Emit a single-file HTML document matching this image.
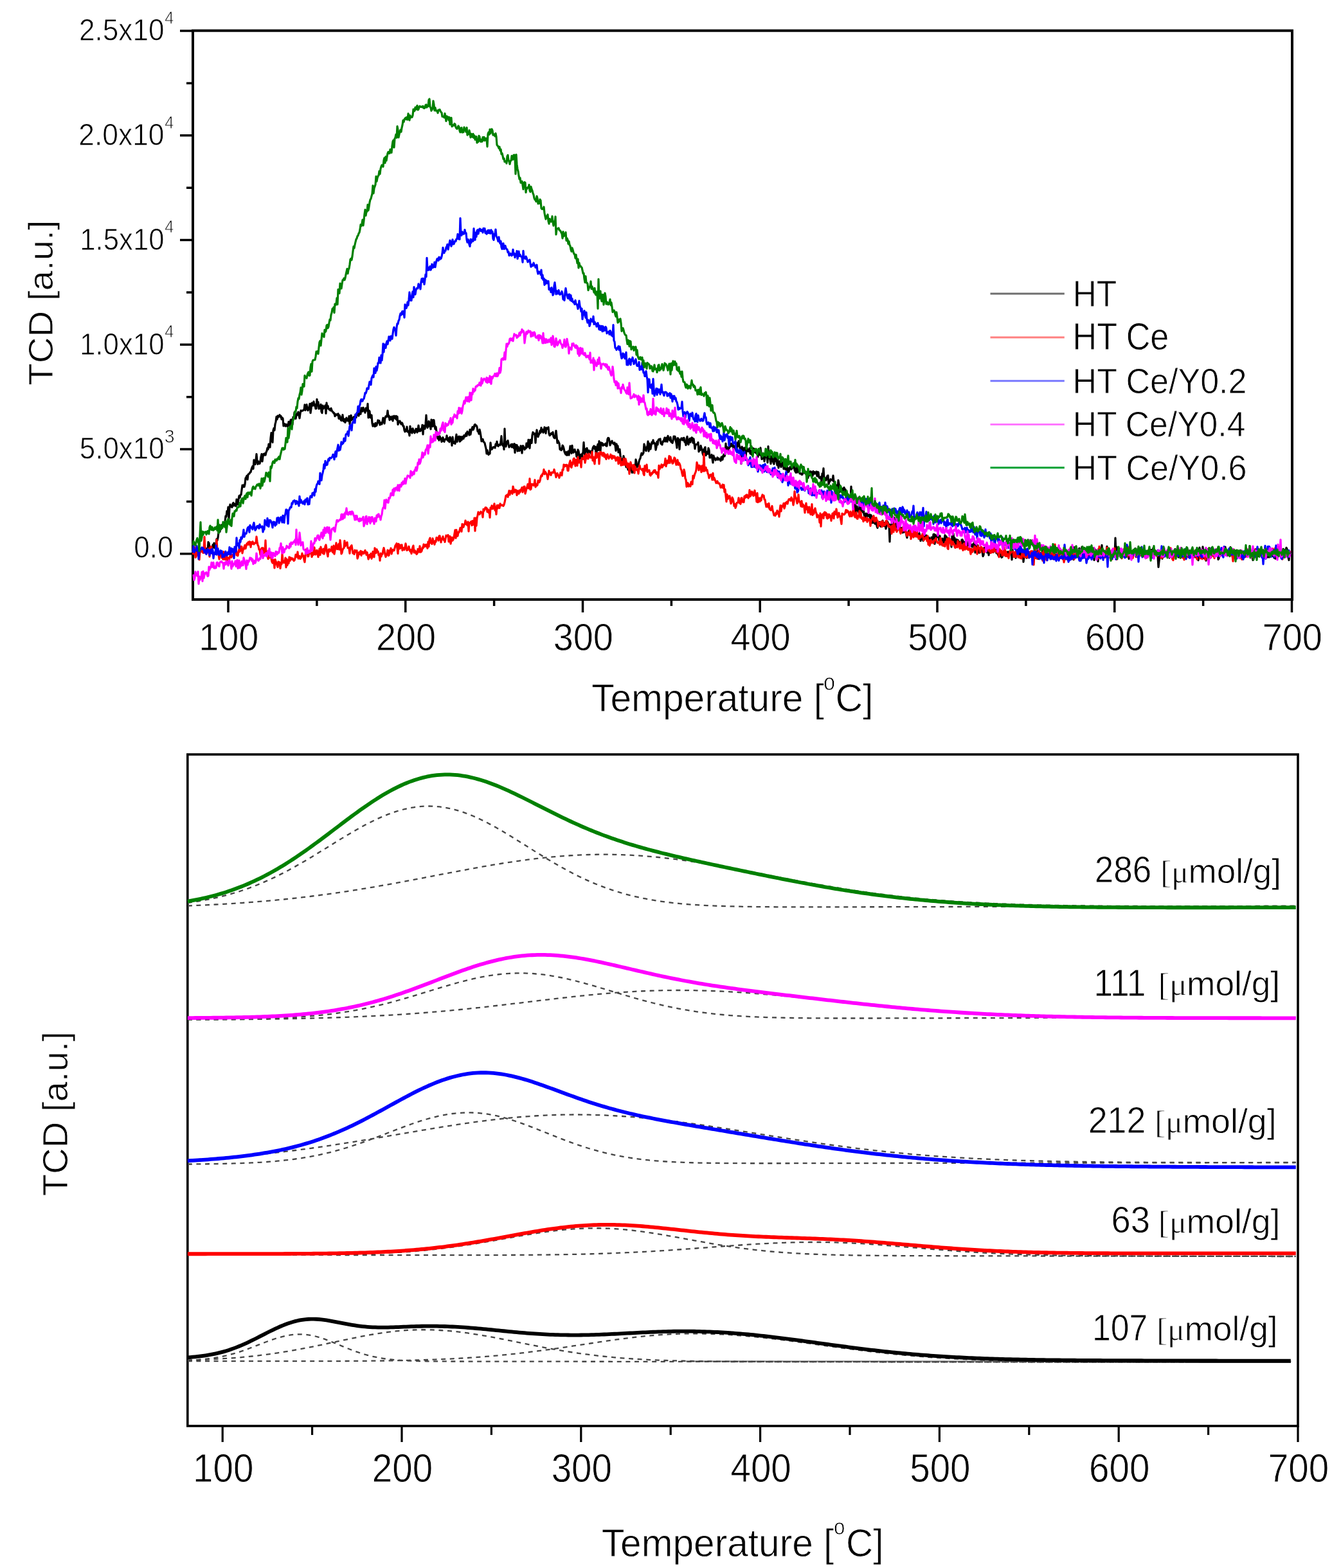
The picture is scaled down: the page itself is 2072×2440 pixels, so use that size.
<!DOCTYPE html>
<html><head><meta charset="utf-8"><title>TPD profiles</title>
<style>html,body{margin:0;padding:0;background:#fff;}svg{display:block;}</style></head>
<body><svg width="2072" height="2440" viewBox="0 0 2072 2440">
<defs><filter id="b" x="0" y="0" width="1" height="1"><feGaussianBlur stdDeviation="0.55"/></filter></defs>
<rect width="2072" height="2440" fill="#fff"/>
<g filter="url(#b)"><rect x="300.0" y="47.7" width="1710.0" height="885.1999999999999" fill="none" stroke="#000" stroke-width="4"/><path d="M280.0 861.80H300.0M280.0 699.04H300.0M280.0 536.28H300.0M280.0 373.52H300.0M280.0 210.76H300.0M280.0 48.00H300.0M290.0 780.42H300.0M290.0 617.66H300.0M290.0 454.90H300.0M290.0 292.14H300.0M290.0 129.38H300.0M355.00 932.9V952.9M630.75 932.9V952.9M906.50 932.9V952.9M1182.25 932.9V952.9M1458.00 932.9V952.9M1733.75 932.9V952.9M2009.50 932.9V952.9M492.88 932.9V942.9M768.62 932.9V942.9M1044.38 932.9V942.9M1320.12 932.9V942.9M1595.88 932.9V942.9M1871.62 932.9V942.9" stroke="#000" stroke-width="3.5" fill="none"/><g fill="none" stroke-width="3.2" stroke-linejoin="round"><path d="M300.0 859.1 301.0 862.3 302.0 860.6 303.0 853.8 304.0 861.8 305.0 860.6 306.0 856.5 307.0 860.3 308.0 859.7 309.0 859.2 310.0 857.9 311.0 859.6 312.0 854.5 313.0 856.0 314.0 854.7 315.0 858.6 316.0 856.5 317.0 854.7 318.0 852.4 319.0 853.9 320.0 854.9 321.0 853.6 322.0 859.5 323.0 858.7 324.0 843.6 325.0 845.1 326.0 851.9 327.0 851.3 328.0 853.4 329.0 853.3 330.0 860.4 331.0 847.9 332.0 849.0 333.0 845.2 334.0 852.8 335.0 851.6 336.0 846.0 337.0 838.9 338.0 841.0 339.0 836.7 340.0 828.4 341.0 827.3 342.0 827.5 343.0 822.1 344.0 823.1 345.0 816.8 346.0 820.0 347.0 815.7 348.0 817.6 349.0 816.6 350.0 811.7 351.0 803.0 352.0 804.0 353.0 795.3 354.0 797.6 355.0 789.0 356.0 807.7 357.0 791.0 358.0 785.0 359.0 787.5 360.0 788.7 361.0 789.3 362.0 783.9 363.0 782.4 364.0 786.9 365.0 784.2 366.0 786.0 367.0 787.5 368.0 777.1 369.0 782.5 370.0 785.1 371.0 777.1 372.0 771.7 373.0 774.6 374.0 770.2 375.0 769.7 376.0 762.4 377.0 755.1 378.0 757.8 379.0 754.8 380.0 757.5 381.0 753.5 382.0 743.9 383.0 742.7 384.0 740.3 385.0 746.2 386.0 738.3 387.0 737.6 388.0 737.0 389.0 734.9 390.0 734.5 391.0 730.6 392.0 727.6 393.0 725.5 394.0 729.5 395.0 715.9 396.0 722.0 397.0 722.5 398.0 716.0 399.0 706.7 400.0 717.5 401.0 722.3 402.0 718.1 403.0 720.0 404.0 721.5 405.0 717.3 406.0 710.8 407.0 706.6 408.0 718.0 409.0 710.7 410.0 706.5 411.0 708.1 412.0 705.7 413.0 708.2 414.0 703.8 415.0 701.7 416.0 697.0 417.0 699.2 418.0 691.2 419.0 694.8 420.0 696.1 421.0 681.6 422.0 673.7 423.0 682.5 424.0 688.3 425.0 669.7 426.0 666.4 427.0 669.6 428.0 660.1 429.0 656.3 430.0 648.6 431.0 652.7 432.0 647.1 433.0 649.0 434.0 647.8 435.0 645.7 436.0 648.5 437.0 647.5 438.0 652.5 439.0 649.9 440.0 651.2 441.0 662.9 442.0 659.3 443.0 660.0 444.0 663.2 445.0 660.3 446.0 660.9 447.0 663.5 448.0 662.8 449.0 656.4 450.0 663.0 451.0 662.6 452.0 653.8 453.0 653.0 454.0 653.8 455.0 660.7 456.0 649.0 457.0 652.0 458.0 641.9 459.0 648.3 460.0 651.4 461.0 646.2 462.0 643.3 463.0 645.7 464.0 641.1 465.0 646.4 466.0 650.8 467.0 643.5 468.0 638.9 469.0 639.6 470.0 639.1 471.0 639.1 472.0 637.9 473.0 637.9 474.0 629.9 475.0 638.4 476.0 633.1 477.0 629.6 478.0 635.9 479.0 638.7 480.0 635.3 481.0 633.2 482.0 628.3 483.0 642.7 484.0 636.0 485.0 627.1 486.0 627.5 487.0 631.0 488.0 624.8 489.0 631.1 490.0 629.3 491.0 636.0 492.0 635.8 493.0 621.3 494.0 631.0 495.0 625.6 496.0 636.1 497.0 633.7 498.0 635.3 499.0 629.3 500.0 640.5 501.0 642.7 502.0 631.0 503.0 635.9 504.0 632.6 505.0 633.8 506.0 630.9 507.0 643.3 508.0 626.9 509.0 635.7 510.0 631.6 511.0 635.6 512.0 637.2 513.0 636.6 514.0 638.8 515.0 635.4 516.0 638.6 517.0 640.5 518.0 640.9 519.0 643.2 520.0 642.8 521.0 647.7 522.0 644.7 523.0 645.9 524.0 644.7 525.0 645.9 526.0 643.8 527.0 651.4 528.0 646.3 529.0 648.0 530.0 653.2 531.0 654.4 532.0 651.8 533.0 645.6 534.0 655.0 535.0 655.7 536.0 652.2 537.0 657.5 538.0 652.5 539.0 650.2 540.0 654.7 541.0 653.9 542.0 655.1 543.0 647.7 544.0 660.2 545.0 651.4 546.0 646.3 547.0 653.9 548.0 650.2 549.0 652.0 550.0 648.9 551.0 649.1 552.0 649.7 553.0 645.1 554.0 649.7 555.0 644.9 556.0 642.1 557.0 645.0 558.0 647.0 559.0 642.8 560.0 639.4 561.0 644.3 562.0 634.8 563.0 636.2 564.0 640.1 565.0 634.4 566.0 639.0 567.0 638.7 568.0 642.2 569.0 635.1 570.0 635.3 571.0 639.1 572.0 628.3 573.0 650.0 574.0 638.9 575.0 640.1 576.0 649.6 577.0 650.2 578.0 646.0 579.0 658.6 580.0 663.1 581.0 659.9 582.0 660.7 583.0 663.7 584.0 658.3 585.0 662.8 586.0 661.9 587.0 657.8 588.0 654.0 589.0 657.6 590.0 654.7 591.0 661.2 592.0 657.7 593.0 659.1 594.0 660.0 595.0 655.3 596.0 650.3 597.0 654.8 598.0 659.0 599.0 650.4 600.0 647.8 601.0 648.7 602.0 647.0 603.0 639.0 604.0 648.5 605.0 646.9 606.0 653.6 607.0 648.6 608.0 649.6 609.0 652.5 610.0 648.1 611.0 655.0 612.0 648.0 613.0 647.2 614.0 649.6 615.0 651.5 616.0 647.4 617.0 653.2 618.0 648.2 619.0 660.7 620.0 657.0 621.0 655.4 622.0 655.1 623.0 658.1 624.0 660.0 625.0 657.8 626.0 659.1 627.0 663.0 628.0 663.0 629.0 669.6 630.0 671.9 631.0 668.4 632.0 670.6 633.0 664.2 634.0 672.0 635.0 670.7 636.0 673.0 637.0 678.0 638.0 663.3 639.0 672.1 640.0 667.8 641.0 673.9 642.0 666.8 643.0 669.2 644.0 672.0 645.0 673.7 646.0 671.4 647.0 667.4 648.0 667.6 649.0 672.9 650.0 669.5 651.0 662.0 652.0 670.8 653.0 669.5 654.0 670.7 655.0 667.1 656.0 669.0 657.0 661.3 658.0 676.0 659.0 662.3 660.0 666.0 661.0 667.2 662.0 659.9 663.0 646.2 664.0 661.4 665.0 665.6 666.0 663.7 667.0 655.5 668.0 658.1 669.0 662.4 670.0 667.8 671.0 653.0 672.0 655.9 673.0 663.6 674.0 653.6 675.0 653.9 676.0 662.4 677.0 667.6 678.0 664.2 679.0 671.8 680.0 673.9 681.0 682.6 682.0 679.7 683.0 685.1 684.0 678.8 685.0 681.3 686.0 682.1 687.0 687.4 688.0 685.9 689.0 680.7 690.0 686.1 691.0 687.2 692.0 684.0 693.0 683.3 694.0 683.6 695.0 677.8 696.0 684.9 697.0 685.9 698.0 681.8 699.0 687.8 700.0 680.1 701.0 682.7 702.0 683.3 703.0 693.3 704.0 680.0 705.0 687.3 706.0 689.6 707.0 687.6 708.0 690.6 709.0 682.1 710.0 676.1 711.0 687.4 712.0 680.4 713.0 682.7 714.0 679.1 715.0 687.1 716.0 686.6 717.0 679.6 718.0 684.7 719.0 681.4 720.0 679.3 721.0 682.7 722.0 677.3 723.0 679.5 724.0 677.7 725.0 674.1 726.0 678.3 727.0 671.5 728.0 673.6 729.0 673.5 730.0 677.0 731.0 668.7 732.0 676.1 733.0 670.0 734.0 667.3 735.0 664.5 736.0 668.8 737.0 666.6 738.0 661.4 739.0 660.5 740.0 662.5 741.0 662.1 742.0 664.4 743.0 671.2 744.0 671.1 745.0 675.2 746.0 668.4 747.0 672.4 748.0 678.5 749.0 686.7 750.0 685.5 751.0 683.4 752.0 687.2 753.0 688.1 754.0 689.4 755.0 694.0 756.0 697.8 757.0 706.0 758.0 700.6 759.0 705.5 760.0 707.5 761.0 704.7 762.0 706.0 763.0 688.8 764.0 697.5 765.0 699.2 766.0 697.9 767.0 696.2 768.0 695.6 769.0 696.3 770.0 697.0 771.0 691.2 772.0 693.4 773.0 687.0 774.0 692.9 775.0 694.4 776.0 692.2 777.0 691.9 778.0 692.7 779.0 687.4 780.0 678.6 781.0 691.1 782.0 693.2 783.0 691.0 784.0 699.4 785.0 667.2 786.0 693.4 787.0 695.0 788.0 689.9 789.0 687.0 790.0 685.6 791.0 691.3 792.0 696.0 793.0 693.6 794.0 693.5 795.0 691.7 796.0 695.8 797.0 691.2 798.0 694.9 799.0 697.1 800.0 690.5 801.0 704.5 802.0 692.2 803.0 692.6 804.0 692.5 805.0 702.0 806.0 695.3 807.0 701.0 808.0 701.4 809.0 700.3 810.0 693.9 811.0 696.0 812.0 705.1 813.0 693.8 814.0 694.1 815.0 696.2 816.0 699.6 817.0 697.0 818.0 697.8 819.0 689.8 820.0 696.0 821.0 694.1 822.0 684.3 823.0 694.6 824.0 697.5 825.0 684.4 826.0 685.2 827.0 689.4 828.0 677.2 829.0 672.7 830.0 673.9 831.0 675.7 832.0 674.8 833.0 689.1 834.0 676.3 835.0 669.1 836.0 674.7 837.0 679.7 838.0 676.7 839.0 675.0 840.0 670.4 841.0 673.3 842.0 665.6 843.0 671.4 844.0 668.6 845.0 673.2 846.0 671.1 847.0 664.9 848.0 669.3 849.0 674.3 850.0 665.8 851.0 667.5 852.0 667.3 853.0 664.8 854.0 674.8 855.0 677.7 856.0 676.8 857.0 674.7 858.0 673.9 859.0 675.6 860.0 672.6 861.0 679.4 862.0 681.4 863.0 681.9 864.0 676.8 865.0 670.3 866.0 680.0 867.0 689.4 868.0 685.9 869.0 688.0 870.0 690.1 871.0 699.4 872.0 697.8 873.0 700.6 874.0 699.5 875.0 693.1 876.0 694.4 877.0 697.7 878.0 702.9 879.0 705.3 880.0 707.2 881.0 703.5 882.0 708.4 883.0 704.1 884.0 702.1 885.0 708.2 886.0 701.9 887.0 694.1 888.0 700.1 889.0 705.4 890.0 693.3 891.0 703.0 892.0 704.2 893.0 700.0 894.0 699.4 895.0 703.4 896.0 703.5 897.0 710.7 898.0 708.0 899.0 699.9 900.0 702.0 901.0 708.4 902.0 713.7 903.0 708.1 904.0 707.1 905.0 713.0 906.0 705.9 907.0 703.9 908.0 688.4 909.0 701.8 910.0 712.5 911.0 698.9 912.0 702.9 913.0 697.3 914.0 702.5 915.0 705.6 916.0 701.0 917.0 704.0 918.0 703.7 919.0 702.2 920.0 706.6 921.0 702.9 922.0 697.7 923.0 695.2 924.0 693.9 925.0 698.5 926.0 695.3 927.0 706.7 928.0 703.8 929.0 694.9 930.0 691.4 931.0 700.5 932.0 686.6 933.0 690.5 934.0 702.2 935.0 688.8 936.0 689.4 937.0 689.6 938.0 693.4 939.0 691.4 940.0 691.9 941.0 692.5 942.0 690.1 943.0 694.0 944.0 694.1 945.0 683.2 946.0 681.4 947.0 681.8 948.0 686.1 949.0 692.9 950.0 690.5 951.0 687.6 952.0 686.1 953.0 688.8 954.0 690.5 955.0 691.1 956.0 688.8 957.0 693.6 958.0 701.4 959.0 690.8 960.0 698.9 961.0 693.8 962.0 704.0 963.0 702.9 964.0 699.1 965.0 709.0 966.0 715.0 967.0 714.3 968.0 719.6 969.0 716.8 970.0 709.7 971.0 715.1 972.0 719.9 973.0 716.9 974.0 726.8 975.0 726.9 976.0 724.7 977.0 730.9 978.0 725.3 979.0 731.3 980.0 726.1 981.0 731.7 982.0 725.8 983.0 735.4 984.0 731.2 985.0 735.0 986.0 725.4 987.0 725.6 988.0 730.0 989.0 715.2 990.0 719.4 991.0 727.0 992.0 724.3 993.0 724.7 994.0 718.3 995.0 715.0 996.0 713.2 997.0 708.5 998.0 705.2 999.0 707.9 1000.0 706.6 1001.0 704.6 1002.0 691.2 1003.0 694.6 1004.0 699.3 1005.0 701.6 1006.0 697.0 1007.0 694.0 1008.0 686.8 1009.0 702.1 1010.0 690.2 1011.0 699.1 1012.0 698.7 1013.0 692.8 1014.0 688.2 1015.0 690.2 1016.0 684.9 1017.0 689.8 1018.0 689.1 1019.0 690.9 1020.0 700.1 1021.0 695.6 1022.0 687.3 1023.0 692.0 1024.0 684.9 1025.0 683.6 1026.0 684.4 1027.0 682.9 1028.0 690.4 1029.0 690.7 1030.0 692.0 1031.0 686.8 1032.0 687.3 1033.0 683.8 1034.0 681.1 1035.0 687.0 1036.0 686.8 1037.0 681.1 1038.0 687.2 1039.0 678.4 1040.0 683.6 1041.0 682.3 1042.0 685.4 1043.0 680.2 1044.0 687.9 1045.0 687.1 1046.0 689.4 1047.0 685.4 1048.0 679.2 1049.0 682.2 1050.0 679.2 1051.0 685.4 1052.0 689.0 1053.0 697.0 1054.0 681.8 1055.0 682.3 1056.0 684.6 1057.0 699.2 1058.0 684.0 1059.0 684.8 1060.0 682.0 1061.0 682.4 1062.0 685.0 1063.0 681.5 1064.0 681.4 1065.0 688.0 1066.0 686.7 1067.0 692.7 1068.0 683.0 1069.0 679.3 1070.0 690.1 1071.0 691.7 1072.0 685.5 1073.0 682.4 1074.0 688.1 1075.0 682.4 1076.0 680.9 1077.0 681.5 1078.0 689.1 1079.0 682.8 1080.0 690.1 1081.0 698.3 1082.0 692.4 1083.0 691.5 1084.0 691.6 1085.0 690.6 1086.0 688.5 1087.0 702.8 1088.0 699.4 1089.0 700.5 1090.0 693.5 1091.0 697.0 1092.0 699.3 1093.0 705.5 1094.0 708.5 1095.0 699.8 1096.0 697.7 1097.0 695.9 1098.0 708.7 1099.0 705.1 1100.0 703.3 1101.0 706.3 1102.0 697.4 1103.0 700.5 1104.0 712.2 1105.0 711.9 1106.0 711.5 1107.0 707.6 1108.0 714.1 1109.0 720.0 1110.0 709.2 1111.0 713.5 1112.0 712.6 1113.0 716.0 1114.0 715.3 1115.0 714.8 1116.0 712.0 1117.0 715.3 1118.0 713.3 1119.0 714.8 1120.0 714.8 1121.0 717.1 1122.0 711.5 1123.0 711.0 1124.0 715.3 1125.0 709.4 1126.0 707.2 1127.0 710.1 1128.0 706.6 1129.0 690.2 1130.0 702.9 1131.0 695.6 1132.0 700.3 1133.0 703.1 1134.0 699.3 1135.0 689.6 1136.0 695.2 1137.0 690.6 1138.0 692.6 1139.0 694.2 1140.0 689.1 1141.0 698.7 1142.0 694.1 1143.0 697.2 1144.0 697.0 1145.0 699.9 1146.0 699.7 1147.0 689.2 1148.0 694.3 1149.0 686.4 1150.0 692.5 1151.0 697.9 1152.0 699.4 1153.0 721.7 1154.0 695.1 1155.0 697.5 1156.0 697.1 1157.0 702.0 1158.0 704.0 1159.0 696.7 1160.0 712.8 1161.0 699.6 1162.0 697.2 1163.0 701.1 1164.0 702.4 1165.0 702.1 1166.0 697.6 1167.0 705.9 1168.0 701.5 1169.0 707.3 1170.0 707.6 1171.0 697.4 1172.0 697.9 1173.0 698.3 1174.0 703.6 1175.0 703.8 1176.0 705.0 1177.0 701.2 1178.0 706.1 1179.0 710.9 1180.0 700.8 1181.0 704.7 1182.0 707.9 1183.0 696.9 1184.0 706.3 1185.0 714.5 1186.0 713.7 1187.0 712.3 1188.0 706.1 1189.0 717.8 1190.0 712.0 1191.0 708.1 1192.0 709.1 1193.0 709.0 1194.0 719.9 1195.0 694.5 1196.0 713.2 1197.0 704.8 1198.0 716.0 1199.0 721.7 1200.0 710.1 1201.0 717.6 1202.0 713.0 1203.0 719.8 1204.0 722.2 1205.0 711.4 1206.0 717.4 1207.0 712.8 1208.0 718.9 1209.0 723.9 1210.0 715.8 1211.0 728.1 1212.0 721.5 1213.0 717.8 1214.0 722.1 1215.0 726.7 1216.0 718.9 1217.0 724.1 1218.0 719.5 1219.0 729.7 1220.0 727.0 1221.0 724.7 1222.0 730.7 1223.0 722.4 1224.0 725.5 1225.0 735.0 1226.0 728.5 1227.0 734.1 1228.0 730.3 1229.0 726.7 1230.0 728.5 1231.0 730.2 1232.0 728.8 1233.0 727.3 1234.0 727.6 1235.0 725.1 1236.0 731.4 1237.0 733.5 1238.0 735.3 1239.0 725.6 1240.0 735.2 1241.0 733.2 1242.0 727.5 1243.0 733.3 1244.0 736.9 1245.0 736.3 1246.0 737.2 1247.0 738.4 1248.0 738.5 1249.0 735.0 1250.0 726.7 1251.0 733.9 1252.0 736.3 1253.0 733.7 1254.0 738.2 1255.0 739.3 1256.0 736.5 1257.0 743.7 1258.0 733.2 1259.0 739.9 1260.0 735.2 1261.0 733.6 1262.0 739.1 1263.0 735.0 1264.0 740.6 1265.0 733.3 1266.0 737.5 1267.0 734.6 1268.0 736.9 1269.0 736.8 1270.0 734.0 1271.0 741.0 1272.0 734.3 1273.0 734.9 1274.0 742.7 1275.0 744.0 1276.0 743.2 1277.0 742.0 1278.0 749.9 1279.0 737.0 1280.0 737.9 1281.0 728.8 1282.0 745.0 1283.0 743.7 1284.0 747.1 1285.0 747.3 1286.0 742.9 1287.0 740.5 1288.0 740.0 1289.0 753.2 1290.0 750.1 1291.0 748.9 1292.0 745.7 1293.0 746.6 1294.0 746.7 1295.0 747.6 1296.0 740.1 1297.0 749.4 1298.0 749.9 1299.0 753.4 1300.0 754.3 1301.0 757.8 1302.0 755.6 1303.0 759.5 1304.0 747.4 1305.0 753.0 1306.0 765.7 1307.0 756.2 1308.0 759.9 1309.0 764.3 1310.0 760.3 1311.0 767.2 1312.0 760.3 1313.0 758.6 1314.0 761.7 1315.0 761.7 1316.0 769.2 1317.0 769.6 1318.0 773.2 1319.0 769.0 1320.0 780.6 1321.0 775.6 1322.0 775.8 1323.0 778.7 1324.0 757.0 1325.0 776.3 1326.0 780.1 1327.0 784.7 1328.0 785.2 1329.0 787.4 1330.0 782.6 1331.0 803.9 1332.0 794.5 1333.0 787.8 1334.0 794.6 1335.0 793.5 1336.0 797.5 1337.0 788.0 1338.0 791.5 1339.0 793.1 1340.0 794.8 1341.0 787.6 1342.0 797.1 1343.0 787.9 1344.0 800.6 1345.0 803.8 1346.0 805.2 1347.0 799.0 1348.0 807.8 1349.0 799.4 1350.0 801.0 1351.0 802.5 1352.0 803.9 1353.0 800.8 1354.0 812.3 1355.0 801.5 1356.0 807.0 1357.0 813.7 1358.0 812.0 1359.0 813.4 1360.0 805.9 1361.0 815.2 1362.0 806.5 1363.0 812.9 1364.0 818.5 1365.0 821.4 1366.0 816.5 1367.0 817.8 1368.0 812.3 1369.0 812.5 1370.0 819.3 1371.0 815.6 1372.0 814.9 1373.0 810.0 1374.0 815.9 1375.0 818.7 1376.0 813.5 1377.0 814.3 1378.0 822.9 1379.0 818.4 1380.0 811.3 1381.0 812.9 1382.0 814.8 1383.0 816.6 1384.0 842.9 1385.0 816.4 1386.0 825.5 1387.0 815.7 1388.0 817.2 1389.0 822.3 1390.0 821.9 1391.0 805.4 1392.0 818.9 1393.0 821.7 1394.0 813.6 1395.0 818.8 1396.0 820.1 1397.0 819.3 1398.0 823.9 1399.0 819.4 1400.0 820.0 1401.0 821.9 1402.0 825.1 1403.0 821.9 1404.0 828.8 1405.0 820.1 1406.0 828.2 1407.0 820.8 1408.0 823.1 1409.0 825.7 1410.0 833.1 1411.0 836.7 1412.0 828.3 1413.0 831.0 1414.0 826.1 1415.0 823.7 1416.0 828.8 1417.0 828.3 1418.0 832.1 1419.0 826.9 1420.0 830.5 1421.0 832.3 1422.0 831.5 1423.0 830.6 1424.0 828.3 1425.0 834.8 1426.0 832.9 1427.0 834.5 1428.0 831.7 1429.0 833.2 1430.0 829.6 1431.0 834.1 1432.0 841.7 1433.0 835.6 1434.0 838.7 1435.0 837.1 1436.0 841.4 1437.0 835.9 1438.0 829.9 1439.0 837.7 1440.0 836.3 1441.0 833.1 1442.0 839.3 1443.0 837.4 1444.0 839.3 1445.0 836.4 1446.0 838.3 1447.0 838.9 1448.0 845.1 1449.0 836.0 1450.0 837.9 1451.0 839.6 1452.0 831.6 1453.0 831.3 1454.0 846.4 1455.0 832.3 1456.0 840.3 1457.0 835.5 1458.0 835.4 1459.0 830.6 1460.0 834.5 1461.0 841.6 1462.0 833.8 1463.0 840.9 1464.0 840.6 1465.0 847.4 1466.0 838.2 1467.0 844.3 1468.0 843.5 1469.0 838.8 1470.0 832.9 1471.0 845.1 1472.0 834.9 1473.0 837.5 1474.0 843.3 1475.0 844.9 1476.0 837.3 1477.0 839.9 1478.0 839.4 1479.0 845.2 1480.0 851.1 1481.0 834.6 1482.0 844.0 1483.0 830.1 1484.0 840.3 1485.0 837.1 1486.0 849.3 1487.0 843.4 1488.0 839.5 1489.0 840.3 1490.0 840.3 1491.0 842.1 1492.0 842.8 1493.0 846.2 1494.0 850.3 1495.0 847.7 1496.0 840.0 1497.0 839.7 1498.0 841.5 1499.0 849.4 1500.0 845.0 1501.0 843.5 1502.0 846.9 1503.0 841.4 1504.0 842.3 1505.0 849.2 1506.0 847.0 1507.0 846.5 1508.0 849.9 1509.0 847.0 1510.0 846.6 1511.0 847.8 1512.0 850.7 1513.0 851.1 1514.0 846.3 1515.0 849.7 1516.0 842.7 1517.0 859.8 1518.0 848.7 1519.0 853.8 1520.0 852.2 1521.0 848.5 1522.0 855.9 1523.0 860.2 1524.0 857.1 1525.0 852.9 1526.0 852.7 1527.0 856.7 1528.0 857.3 1529.0 865.6 1530.0 863.8 1531.0 852.5 1532.0 857.6 1533.0 851.7 1534.0 850.0 1535.0 859.5 1536.0 859.9 1537.0 853.7 1538.0 863.9 1539.0 854.6 1540.0 853.0 1541.0 860.2 1542.0 859.3 1543.0 857.8 1544.0 858.1 1545.0 859.4 1546.0 845.2 1547.0 858.0 1548.0 851.2 1549.0 852.8 1550.0 860.9 1551.0 855.4 1552.0 861.2 1553.0 864.5 1554.0 858.5 1555.0 860.6 1556.0 865.4 1557.0 863.3 1558.0 867.5 1559.0 866.8 1560.0 863.7 1561.0 860.0 1562.0 856.8 1563.0 855.5 1564.0 861.8 1565.0 862.4 1566.0 860.0 1567.0 863.9 1568.0 858.6 1569.0 864.9 1570.0 861.4 1571.0 860.8 1572.0 860.9 1573.0 860.6 1574.0 871.0 1575.0 855.7 1576.0 861.4 1577.0 866.2 1578.0 864.7 1579.0 860.5 1580.0 868.3 1581.0 857.9 1582.0 856.0 1583.0 863.3 1584.0 856.0 1585.0 851.7 1586.0 864.2 1587.0 865.0 1588.0 865.0 1589.0 860.2 1590.0 862.4 1591.0 858.1 1592.0 874.3 1593.0 865.7 1594.0 865.3 1595.0 854.5 1596.0 865.7 1597.0 868.2 1598.0 867.5 1599.0 865.7 1600.0 862.4 1601.0 860.7 1602.0 864.3 1603.0 863.7 1604.0 863.1 1605.0 860.9 1606.0 868.6 1607.0 858.0 1608.0 861.5 1609.0 859.6 1610.0 865.8 1611.0 868.0 1612.0 867.5 1613.0 865.5 1614.0 856.7 1615.0 869.7 1616.0 864.8 1617.0 861.8 1618.0 862.0 1619.0 860.6 1620.0 863.4 1621.0 863.3 1622.0 860.6 1623.0 851.5 1624.0 860.7 1625.0 863.6 1626.0 864.1 1627.0 861.4 1628.0 863.6 1629.0 866.1 1630.0 860.3 1631.0 867.5 1632.0 854.5 1633.0 856.0 1634.0 857.6 1635.0 851.6 1636.0 856.7 1637.0 866.2 1638.0 867.1 1639.0 862.6 1640.0 868.6 1641.0 863.3 1642.0 859.8 1643.0 862.4 1644.0 861.1 1645.0 864.5 1646.0 855.9 1647.0 865.0 1648.0 860.0 1649.0 862.3 1650.0 855.7 1651.0 859.2 1652.0 861.6 1653.0 862.6 1654.0 857.0 1655.0 867.6 1656.0 864.0 1657.0 859.6 1658.0 866.0 1659.0 865.6 1660.0 866.0 1661.0 871.1 1662.0 865.4 1663.0 859.6 1664.0 859.4 1665.0 863.4 1666.0 862.6 1667.0 858.1 1668.0 858.3 1669.0 863.6 1670.0 870.8 1671.0 851.7 1672.0 863.1 1673.0 860.5 1674.0 864.2 1675.0 864.9 1676.0 861.7 1677.0 857.1 1678.0 855.2 1679.0 853.1 1680.0 872.6 1681.0 860.7 1682.0 858.9 1683.0 851.0 1684.0 855.6 1685.0 861.7 1686.0 866.4 1687.0 866.1 1688.0 855.3 1689.0 865.9 1690.0 858.5 1691.0 853.2 1692.0 855.3 1693.0 856.6 1694.0 860.5 1695.0 856.9 1696.0 854.6 1697.0 859.3 1698.0 868.5 1699.0 859.0 1700.0 862.6 1701.0 861.5 1702.0 871.6 1703.0 854.5 1704.0 864.7 1705.0 856.3 1706.0 858.2 1707.0 860.3 1708.0 873.6 1709.0 859.2 1710.0 853.3 1711.0 865.4 1712.0 858.1 1713.0 859.7 1714.0 848.3 1715.0 861.4 1716.0 860.4 1717.0 862.0 1718.0 862.6 1719.0 864.6 1720.0 859.7 1721.0 857.9 1722.0 850.3 1723.0 862.9 1724.0 861.0 1725.0 863.2 1726.0 863.4 1727.0 867.9 1728.0 862.5 1729.0 864.1 1730.0 856.5 1731.0 856.3 1732.0 859.3 1733.0 856.0 1734.0 863.2 1735.0 837.2 1736.0 860.8 1737.0 851.2 1738.0 855.6 1739.0 859.1 1740.0 859.8 1741.0 853.7 1742.0 860.7 1743.0 864.9 1744.0 864.0 1745.0 858.7 1746.0 858.4 1747.0 856.0 1748.0 863.0 1749.0 866.9 1750.0 859.5 1751.0 854.1 1752.0 861.1 1753.0 863.8 1754.0 850.4 1755.0 860.5 1756.0 869.6 1757.0 858.7 1758.0 863.6 1759.0 862.9 1760.0 865.4 1761.0 857.7 1762.0 863.9 1763.0 862.3 1764.0 858.4 1765.0 861.8 1766.0 853.5 1767.0 863.3 1768.0 864.6 1769.0 861.5 1770.0 861.7 1771.0 867.5 1772.0 857.3 1773.0 857.0 1774.0 856.2 1775.0 858.8 1776.0 856.8 1777.0 860.7 1778.0 858.4 1779.0 855.0 1780.0 854.2 1781.0 865.1 1782.0 861.1 1783.0 867.9 1784.0 861.0 1785.0 860.7 1786.0 864.0 1787.0 863.5 1788.0 858.9 1789.0 857.5 1790.0 856.3 1791.0 855.6 1792.0 866.0 1793.0 857.9 1794.0 852.6 1795.0 856.8 1796.0 857.4 1797.0 862.0 1798.0 857.6 1799.0 862.8 1800.0 862.7 1801.0 866.2 1802.0 882.5 1803.0 873.3 1804.0 867.6 1805.0 857.0 1806.0 859.0 1807.0 861.8 1808.0 869.3 1809.0 864.5 1810.0 866.1 1811.0 861.3 1812.0 864.5 1813.0 864.1 1814.0 859.5 1815.0 863.9 1816.0 865.6 1817.0 860.8 1818.0 865.0 1819.0 868.0 1820.0 862.0 1821.0 861.1 1822.0 859.8 1823.0 858.4 1824.0 861.4 1825.0 859.4 1826.0 859.6 1827.0 857.8 1828.0 854.6 1829.0 856.6 1830.0 861.9 1831.0 856.4 1832.0 858.0 1833.0 867.2 1834.0 866.1 1835.0 858.8 1836.0 863.2 1837.0 858.6 1838.0 867.2 1839.0 859.3 1840.0 861.2 1841.0 866.5 1842.0 858.3 1843.0 865.9 1844.0 858.2 1845.0 861.7 1846.0 859.9 1847.0 860.5 1848.0 861.6 1849.0 860.8 1850.0 856.9 1851.0 864.0 1852.0 864.2 1853.0 866.5 1854.0 867.1 1855.0 856.3 1856.0 865.6 1857.0 866.6 1858.0 859.4 1859.0 865.0 1860.0 867.2 1861.0 859.5 1862.0 855.4 1863.0 859.0 1864.0 871.9 1865.0 858.2 1866.0 852.1 1867.0 859.5 1868.0 856.9 1869.0 859.0 1870.0 861.2 1871.0 850.8 1872.0 861.4 1873.0 868.9 1874.0 860.8 1875.0 859.5 1876.0 872.5 1877.0 856.4 1878.0 855.6 1879.0 854.9 1880.0 859.8 1881.0 862.4 1882.0 860.8 1883.0 863.2 1884.0 864.5 1885.0 863.3 1886.0 858.0 1887.0 859.6 1888.0 865.8 1889.0 857.3 1890.0 859.6 1891.0 859.2 1892.0 860.1 1893.0 856.6 1894.0 855.2 1895.0 870.6 1896.0 869.1 1897.0 858.6 1898.0 860.5 1899.0 863.6 1900.0 859.9 1901.0 863.3 1902.0 858.8 1903.0 859.4 1904.0 860.5 1905.0 859.1 1906.0 851.1 1907.0 860.1 1908.0 862.0 1909.0 863.0 1910.0 857.2 1911.0 862.0 1912.0 862.0 1913.0 854.1 1914.0 851.5 1915.0 862.0 1916.0 857.3 1917.0 864.6 1918.0 869.9 1919.0 859.6 1920.0 858.1 1921.0 860.7 1922.0 863.7 1923.0 856.7 1924.0 865.5 1925.0 865.4 1926.0 864.1 1927.0 859.2 1928.0 864.5 1929.0 864.8 1930.0 856.6 1931.0 868.9 1932.0 860.6 1933.0 862.4 1934.0 859.1 1935.0 862.3 1936.0 865.8 1937.0 858.3 1938.0 854.1 1939.0 858.5 1940.0 855.6 1941.0 857.4 1942.0 860.1 1943.0 860.7 1944.0 849.6 1945.0 857.5 1946.0 862.1 1947.0 859.1 1948.0 866.2 1949.0 871.6 1950.0 863.3 1951.0 867.9 1952.0 859.6 1953.0 854.5 1954.0 855.3 1955.0 854.1 1956.0 856.5 1957.0 859.6 1958.0 865.4 1959.0 864.2 1960.0 863.2 1961.0 859.5 1962.0 858.0 1963.0 860.8 1964.0 861.5 1965.0 862.1 1966.0 862.6 1967.0 860.7 1968.0 853.3 1969.0 855.8 1970.0 857.2 1971.0 867.4 1972.0 859.9 1973.0 863.6 1974.0 867.1 1975.0 862.9 1976.0 859.6 1977.0 859.7 1978.0 856.8 1979.0 861.8 1980.0 865.6 1981.0 863.7 1982.0 868.2 1983.0 864.2 1984.0 869.3 1985.0 859.3 1986.0 861.4 1987.0 863.9 1988.0 861.4 1989.0 851.9 1990.0 858.0 1991.0 859.9 1992.0 856.8 1993.0 864.0 1994.0 862.2 1995.0 859.5 1996.0 854.4 1997.0 855.1 1998.0 856.5 1999.0 862.4 2000.0 856.3 2001.0 852.3 2002.0 854.3 2003.0 858.0 2004.0 867.4 2005.0 871.6 2006.0 860.1 2007.0 864.7" stroke="#000000"/><path d="M300.0 863.0 301.0 860.5 302.0 860.3 303.0 851.9 304.0 867.5 305.0 866.2 306.0 859.9 307.0 863.4 308.0 861.5 309.0 857.7 310.0 871.0 311.0 858.4 312.0 857.6 313.0 855.5 314.0 858.1 315.0 858.2 316.0 860.4 317.0 856.0 318.0 835.3 319.0 854.4 320.0 860.9 321.0 858.8 322.0 859.2 323.0 859.5 324.0 853.9 325.0 860.4 326.0 866.2 327.0 852.2 328.0 850.6 329.0 851.5 330.0 861.2 331.0 859.6 332.0 863.5 333.0 862.8 334.0 861.0 335.0 861.5 336.0 860.1 337.0 839.8 338.0 857.4 339.0 859.9 340.0 863.2 341.0 870.1 342.0 861.0 343.0 859.2 344.0 861.5 345.0 868.1 346.0 864.3 347.0 870.5 348.0 858.6 349.0 869.6 350.0 870.6 351.0 861.0 352.0 866.5 353.0 871.3 354.0 867.3 355.0 870.5 356.0 876.2 357.0 868.2 358.0 864.9 359.0 862.3 360.0 867.3 361.0 864.0 362.0 863.3 363.0 863.0 364.0 865.4 365.0 858.2 366.0 855.0 367.0 850.5 368.0 863.9 369.0 860.1 370.0 864.8 371.0 858.6 372.0 854.4 373.0 858.3 374.0 855.9 375.0 850.4 376.0 850.8 377.0 860.8 378.0 855.6 379.0 854.7 380.0 851.1 381.0 848.4 382.0 853.7 383.0 849.6 384.0 845.9 385.0 847.4 386.0 843.9 387.0 847.4 388.0 842.9 389.0 843.4 390.0 851.4 391.0 843.9 392.0 846.5 393.0 842.9 394.0 845.2 395.0 846.8 396.0 845.4 397.0 844.6 398.0 845.1 399.0 835.2 400.0 842.7 401.0 848.2 402.0 850.1 403.0 855.1 404.0 855.1 405.0 863.0 406.0 856.0 407.0 852.9 408.0 862.6 409.0 852.7 410.0 860.4 411.0 854.3 412.0 859.6 413.0 840.9 414.0 862.9 415.0 860.8 416.0 858.3 417.0 869.7 418.0 868.4 419.0 866.6 420.0 864.5 421.0 862.0 422.0 869.3 423.0 874.1 424.0 876.0 425.0 871.3 426.0 872.2 427.0 883.9 428.0 870.5 429.0 873.7 430.0 876.2 431.0 879.6 432.0 882.4 433.0 874.1 434.0 878.6 435.0 875.0 436.0 884.5 437.0 876.8 438.0 878.0 439.0 861.7 440.0 871.8 441.0 875.6 442.0 873.3 443.0 875.7 444.0 868.1 445.0 882.9 446.0 870.1 447.0 879.6 448.0 872.2 449.0 876.6 450.0 866.8 451.0 872.8 452.0 867.8 453.0 868.6 454.0 870.4 455.0 868.9 456.0 870.7 457.0 872.6 458.0 872.1 459.0 868.8 460.0 863.1 461.0 864.4 462.0 866.7 463.0 858.9 464.0 869.2 465.0 866.0 466.0 865.3 467.0 869.6 468.0 868.6 469.0 866.4 470.0 861.0 471.0 865.3 472.0 864.9 473.0 871.1 474.0 874.7 475.0 865.5 476.0 855.2 477.0 862.3 478.0 857.2 479.0 866.0 480.0 865.4 481.0 857.5 482.0 857.4 483.0 861.1 484.0 859.9 485.0 866.6 486.0 864.0 487.0 859.4 488.0 863.0 489.0 851.9 490.0 860.1 491.0 862.9 492.0 858.9 493.0 856.2 494.0 860.8 495.0 866.7 496.0 860.1 497.0 854.0 498.0 863.5 499.0 851.0 500.0 859.1 501.0 855.4 502.0 860.9 503.0 854.2 504.0 862.1 505.0 858.6 506.0 850.0 507.0 848.0 508.0 854.2 509.0 861.1 510.0 865.9 511.0 856.1 512.0 854.6 513.0 858.1 514.0 856.8 515.0 856.0 516.0 850.7 517.0 858.6 518.0 859.8 519.0 849.1 520.0 862.1 521.0 856.9 522.0 851.3 523.0 844.9 524.0 854.2 525.0 854.5 526.0 849.8 527.0 846.5 528.0 855.2 529.0 840.6 530.0 849.0 531.0 862.0 532.0 860.3 533.0 855.4 534.0 853.5 535.0 852.9 536.0 841.5 537.0 849.9 538.0 847.2 539.0 845.0 540.0 843.9 541.0 852.6 542.0 852.3 543.0 853.2 544.0 861.2 545.0 851.3 546.0 850.0 547.0 848.6 548.0 855.1 549.0 861.0 550.0 858.7 551.0 862.4 552.0 856.2 553.0 858.9 554.0 858.4 555.0 856.7 556.0 869.1 557.0 866.5 558.0 859.9 559.0 859.4 560.0 862.4 561.0 857.3 562.0 864.4 563.0 858.3 564.0 861.5 565.0 859.3 566.0 861.4 567.0 858.3 568.0 856.5 569.0 859.4 570.0 863.3 571.0 859.5 572.0 864.1 573.0 870.1 574.0 867.8 575.0 863.3 576.0 866.7 577.0 861.4 578.0 869.3 579.0 866.4 580.0 858.4 581.0 865.9 582.0 866.8 583.0 852.8 584.0 859.0 585.0 860.6 586.0 854.8 587.0 857.5 588.0 858.1 589.0 863.8 590.0 863.4 591.0 872.4 592.0 861.1 593.0 866.0 594.0 862.0 595.0 862.2 596.0 856.3 597.0 852.6 598.0 856.6 599.0 862.9 600.0 866.6 601.0 862.8 602.0 861.8 603.0 856.1 604.0 864.6 605.0 864.3 606.0 856.5 607.0 857.2 608.0 853.1 609.0 862.0 610.0 858.3 611.0 855.5 612.0 856.8 613.0 856.6 614.0 852.8 615.0 848.8 616.0 847.8 617.0 845.6 618.0 853.9 619.0 861.5 620.0 846.4 621.0 852.1 622.0 853.7 623.0 848.2 624.0 852.5 625.0 847.8 626.0 856.5 627.0 853.5 628.0 852.7 629.0 855.5 630.0 851.5 631.0 845.9 632.0 850.6 633.0 856.5 634.0 853.9 635.0 855.2 636.0 850.3 637.0 854.9 638.0 858.0 639.0 855.7 640.0 861.4 641.0 855.6 642.0 851.6 643.0 849.1 644.0 859.9 645.0 856.2 646.0 860.0 647.0 858.1 648.0 862.4 649.0 861.2 650.0 854.4 651.0 856.0 652.0 859.1 653.0 849.8 654.0 859.2 655.0 858.8 656.0 857.4 657.0 852.2 658.0 853.2 659.0 847.2 660.0 850.8 661.0 848.1 662.0 850.1 663.0 847.5 664.0 849.9 665.0 853.2 666.0 843.2 667.0 850.7 668.0 839.4 669.0 837.2 670.0 844.6 671.0 845.3 672.0 846.6 673.0 837.9 674.0 842.7 675.0 843.4 676.0 847.3 677.0 841.7 678.0 843.1 679.0 836.6 680.0 838.5 681.0 837.2 682.0 841.1 683.0 834.3 684.0 833.8 685.0 839.0 686.0 844.0 687.0 838.7 688.0 837.6 689.0 834.8 690.0 840.2 691.0 838.6 692.0 843.4 693.0 838.5 694.0 833.2 695.0 834.5 696.0 833.4 697.0 832.6 698.0 842.9 699.0 842.5 700.0 834.6 701.0 846.2 702.0 841.4 703.0 836.3 704.0 841.2 705.0 839.7 706.0 836.2 707.0 830.5 708.0 824.9 709.0 837.3 710.0 824.6 711.0 834.3 712.0 834.1 713.0 828.2 714.0 828.4 715.0 825.3 716.0 821.4 717.0 821.5 718.0 827.2 719.0 815.6 720.0 820.4 721.0 820.1 722.0 815.9 723.0 816.0 724.0 810.1 725.0 813.0 726.0 816.2 727.0 817.3 728.0 812.1 729.0 826.9 730.0 813.6 731.0 814.6 732.0 812.8 733.0 811.5 734.0 817.6 735.0 810.6 736.0 816.5 737.0 815.7 738.0 806.2 739.0 826.2 740.0 806.1 741.0 818.1 742.0 806.1 743.0 801.9 744.0 796.9 745.0 798.1 746.0 800.3 747.0 798.1 748.0 796.2 749.0 797.4 750.0 798.8 751.0 804.9 752.0 792.3 753.0 794.9 754.0 792.9 755.0 789.8 756.0 789.8 757.0 790.5 758.0 796.4 759.0 792.8 760.0 797.6 761.0 794.2 762.0 805.4 763.0 790.1 764.0 791.9 765.0 786.8 766.0 791.8 767.0 791.4 768.0 787.6 769.0 783.8 770.0 794.2 771.0 789.4 772.0 800.5 773.0 786.7 774.0 791.1 775.0 786.2 776.0 788.3 777.0 790.5 778.0 783.9 779.0 785.7 780.0 786.6 781.0 785.8 782.0 786.7 783.0 787.3 784.0 785.2 785.0 781.7 786.0 776.6 787.0 771.4 788.0 770.8 789.0 770.0 790.0 773.4 791.0 768.4 792.0 763.6 793.0 770.0 794.0 764.6 795.0 763.9 796.0 765.7 797.0 768.4 798.0 757.0 799.0 760.8 800.0 766.2 801.0 764.4 802.0 762.1 803.0 763.0 804.0 770.6 805.0 763.9 806.0 767.7 807.0 768.2 808.0 763.1 809.0 765.9 810.0 762.4 811.0 761.1 812.0 758.6 813.0 766.0 814.0 761.4 815.0 757.3 816.0 757.2 817.0 768.2 818.0 764.7 819.0 760.5 820.0 757.5 821.0 753.4 822.0 759.8 823.0 760.0 824.0 744.8 825.0 761.9 826.0 760.8 827.0 753.3 828.0 753.6 829.0 753.6 830.0 755.4 831.0 753.8 832.0 746.9 833.0 757.8 834.0 753.3 835.0 755.7 836.0 754.8 837.0 747.8 838.0 748.2 839.0 750.5 840.0 747.9 841.0 743.0 842.0 739.8 843.0 741.1 844.0 737.1 845.0 737.0 846.0 730.6 847.0 737.9 848.0 734.0 849.0 735.4 850.0 737.5 851.0 739.2 852.0 745.6 853.0 739.6 854.0 732.5 855.0 738.0 856.0 735.6 857.0 739.4 858.0 735.4 859.0 734.9 860.0 735.7 861.0 735.3 862.0 730.5 863.0 734.6 864.0 737.6 865.0 742.7 866.0 737.3 867.0 736.5 868.0 740.0 869.0 739.9 870.0 743.5 871.0 739.2 872.0 735.5 873.0 739.6 874.0 739.8 875.0 730.8 876.0 731.3 877.0 723.0 878.0 726.3 879.0 723.6 880.0 725.1 881.0 723.3 882.0 723.7 883.0 732.3 884.0 732.5 885.0 724.1 886.0 720.5 887.0 716.8 888.0 726.2 889.0 727.5 890.0 719.8 891.0 722.8 892.0 714.5 893.0 713.2 894.0 718.0 895.0 725.1 896.0 715.5 897.0 715.1 898.0 724.6 899.0 711.3 900.0 719.8 901.0 719.8 902.0 716.7 903.0 717.7 904.0 727.2 905.0 712.9 906.0 714.4 907.0 714.5 908.0 712.4 909.0 709.1 910.0 720.1 911.0 715.3 912.0 706.5 913.0 709.4 914.0 713.7 915.0 713.8 916.0 706.1 917.0 710.3 918.0 711.8 919.0 712.2 920.0 712.1 921.0 703.1 922.0 716.6 923.0 711.4 924.0 717.1 925.0 721.9 926.0 710.2 927.0 704.7 928.0 712.4 929.0 709.0 930.0 707.5 931.0 705.0 932.0 722.0 933.0 708.0 934.0 703.4 935.0 706.7 936.0 704.2 937.0 709.2 938.0 707.4 939.0 704.6 940.0 711.0 941.0 706.7 942.0 711.7 943.0 714.5 944.0 708.5 945.0 706.9 946.0 710.3 947.0 713.6 948.0 710.6 949.0 711.1 950.0 707.2 951.0 712.4 952.0 714.0 953.0 709.2 954.0 709.8 955.0 712.3 956.0 710.0 957.0 713.3 958.0 716.9 959.0 713.9 960.0 711.8 961.0 711.3 962.0 721.8 963.0 719.8 964.0 712.1 965.0 712.9 966.0 724.2 967.0 718.7 968.0 719.4 969.0 723.5 970.0 713.8 971.0 719.3 972.0 723.3 973.0 713.8 974.0 717.6 975.0 724.6 976.0 727.2 977.0 721.0 978.0 724.3 979.0 737.4 980.0 723.3 981.0 719.2 982.0 724.2 983.0 723.7 984.0 730.8 985.0 727.3 986.0 723.4 987.0 736.2 988.0 726.2 989.0 729.5 990.0 731.0 991.0 731.9 992.0 729.9 993.0 737.1 994.0 729.7 995.0 724.4 996.0 729.0 997.0 729.9 998.0 730.4 999.0 732.0 1000.0 729.4 1001.0 737.2 1002.0 739.3 1003.0 724.8 1004.0 732.4 1005.0 730.5 1006.0 723.0 1007.0 734.5 1008.0 731.7 1009.0 732.6 1010.0 731.7 1011.0 738.7 1012.0 740.1 1013.0 736.5 1014.0 737.9 1015.0 734.8 1016.0 735.5 1017.0 732.1 1018.0 734.6 1019.0 731.7 1020.0 735.4 1021.0 737.2 1022.0 734.9 1023.0 737.7 1024.0 743.4 1025.0 724.3 1026.0 730.2 1027.0 727.7 1028.0 727.2 1029.0 722.9 1030.0 727.3 1031.0 725.7 1032.0 723.3 1033.0 723.7 1034.0 721.6 1035.0 713.7 1036.0 725.7 1037.0 720.7 1038.0 716.8 1039.0 720.8 1040.0 716.6 1041.0 709.6 1042.0 720.4 1043.0 710.8 1044.0 715.1 1045.0 716.5 1046.0 721.2 1047.0 720.7 1048.0 716.4 1049.0 712.1 1050.0 713.1 1051.0 719.3 1052.0 723.3 1053.0 719.6 1054.0 715.7 1055.0 723.4 1056.0 720.1 1057.0 721.5 1058.0 724.1 1059.0 729.9 1060.0 731.4 1061.0 736.6 1062.0 740.6 1063.0 740.1 1064.0 730.9 1065.0 734.7 1066.0 744.5 1067.0 746.5 1068.0 757.3 1069.0 751.3 1070.0 751.5 1071.0 757.0 1072.0 754.2 1073.0 754.3 1074.0 756.8 1075.0 749.9 1076.0 749.6 1077.0 753.7 1078.0 740.3 1079.0 744.7 1080.0 740.5 1081.0 737.2 1082.0 734.8 1083.0 731.4 1084.0 719.7 1085.0 723.2 1086.0 725.3 1087.0 731.7 1088.0 724.4 1089.0 725.6 1090.0 727.4 1091.0 734.7 1092.0 724.9 1093.0 724.7 1094.0 733.1 1095.0 705.9 1096.0 732.9 1097.0 731.4 1098.0 727.4 1099.0 732.3 1100.0 731.2 1101.0 736.5 1102.0 738.6 1103.0 744.0 1104.0 739.4 1105.0 740.2 1106.0 738.5 1107.0 741.3 1108.0 746.7 1109.0 736.3 1110.0 746.4 1111.0 743.5 1112.0 746.5 1113.0 748.7 1114.0 751.8 1115.0 750.6 1116.0 748.8 1117.0 752.2 1118.0 752.2 1119.0 752.1 1120.0 754.7 1121.0 758.7 1122.0 757.3 1123.0 758.4 1124.0 754.1 1125.0 759.5 1126.0 754.6 1127.0 765.7 1128.0 761.6 1129.0 771.5 1130.0 780.6 1131.0 769.4 1132.0 776.5 1133.0 774.8 1134.0 772.1 1135.0 771.9 1136.0 778.6 1137.0 783.7 1138.0 781.0 1139.0 774.2 1140.0 776.1 1141.0 780.2 1142.0 787.5 1143.0 784.3 1144.0 790.5 1145.0 788.0 1146.0 782.6 1147.0 782.3 1148.0 781.6 1149.0 774.8 1150.0 782.6 1151.0 782.6 1152.0 784.2 1153.0 775.0 1154.0 774.9 1155.0 781.1 1156.0 778.5 1157.0 781.6 1158.0 772.3 1159.0 774.8 1160.0 770.8 1161.0 773.6 1162.0 770.0 1163.0 773.1 1164.0 775.1 1165.0 773.2 1166.0 762.7 1167.0 772.3 1168.0 771.2 1169.0 765.1 1170.0 765.1 1171.0 768.8 1172.0 771.6 1173.0 768.0 1174.0 763.2 1175.0 770.6 1176.0 771.3 1177.0 780.8 1178.0 767.3 1179.0 781.6 1180.0 780.4 1181.0 775.0 1182.0 780.4 1183.0 775.2 1184.0 778.8 1185.0 772.9 1186.0 770.0 1187.0 772.7 1188.0 771.1 1189.0 777.2 1190.0 777.5 1191.0 783.8 1192.0 788.7 1193.0 784.9 1194.0 784.5 1195.0 789.1 1196.0 783.4 1197.0 791.9 1198.0 792.9 1199.0 793.9 1200.0 790.7 1201.0 787.5 1202.0 794.5 1203.0 797.6 1204.0 801.9 1205.0 801.3 1206.0 802.3 1207.0 797.8 1208.0 800.1 1209.0 794.5 1210.0 796.7 1211.0 797.6 1212.0 804.1 1213.0 794.3 1214.0 786.6 1215.0 795.6 1216.0 787.2 1217.0 788.4 1218.0 786.8 1219.0 783.4 1220.0 791.2 1221.0 788.2 1222.0 782.3 1223.0 783.6 1224.0 781.0 1225.0 784.1 1226.0 779.8 1227.0 777.1 1228.0 776.7 1229.0 776.8 1230.0 779.2 1231.0 774.1 1232.0 776.5 1233.0 778.5 1234.0 785.9 1235.0 780.6 1236.0 764.6 1237.0 772.8 1238.0 774.2 1239.0 777.5 1240.0 783.3 1241.0 781.2 1242.0 769.5 1243.0 779.6 1244.0 780.7 1245.0 783.0 1246.0 788.0 1247.0 779.7 1248.0 788.6 1249.0 784.9 1250.0 786.4 1251.0 789.2 1252.0 797.9 1253.0 787.5 1254.0 783.1 1255.0 792.6 1256.0 788.7 1257.0 797.6 1258.0 790.0 1259.0 789.0 1260.0 797.9 1261.0 800.5 1262.0 798.4 1263.0 784.7 1264.0 801.5 1265.0 794.2 1266.0 799.5 1267.0 793.3 1268.0 790.9 1269.0 796.2 1270.0 798.9 1271.0 805.1 1272.0 801.3 1273.0 802.7 1274.0 803.0 1275.0 813.1 1276.0 798.8 1277.0 819.2 1278.0 801.3 1279.0 802.7 1280.0 799.9 1281.0 806.6 1282.0 797.9 1283.0 796.9 1284.0 801.3 1285.0 798.1 1286.0 805.3 1287.0 806.9 1288.0 800.4 1289.0 805.9 1290.0 800.6 1291.0 802.5 1292.0 802.9 1293.0 810.3 1294.0 803.5 1295.0 799.1 1296.0 798.6 1297.0 806.9 1298.0 796.2 1299.0 799.8 1300.0 800.4 1301.0 792.1 1302.0 799.0 1303.0 805.5 1304.0 802.9 1305.0 798.0 1306.0 803.8 1307.0 803.5 1308.0 809.4 1309.0 815.5 1310.0 799.1 1311.0 800.7 1312.0 800.1 1313.0 800.8 1314.0 800.0 1315.0 797.5 1316.0 793.6 1317.0 797.3 1318.0 794.3 1319.0 795.3 1320.0 797.4 1321.0 801.7 1322.0 803.5 1323.0 796.2 1324.0 800.9 1325.0 803.4 1326.0 800.4 1327.0 793.8 1328.0 791.3 1329.0 802.9 1330.0 804.8 1331.0 802.6 1332.0 797.3 1333.0 807.0 1334.0 807.3 1335.0 802.6 1336.0 801.7 1337.0 795.1 1338.0 805.5 1339.0 797.4 1340.0 806.1 1341.0 807.5 1342.0 805.5 1343.0 811.5 1344.0 804.9 1345.0 808.2 1346.0 809.7 1347.0 808.1 1348.0 805.6 1349.0 812.2 1350.0 810.0 1351.0 807.7 1352.0 807.9 1353.0 809.4 1354.0 818.4 1355.0 810.9 1356.0 809.1 1357.0 805.9 1358.0 805.2 1359.0 802.7 1360.0 811.2 1361.0 811.5 1362.0 807.5 1363.0 805.6 1364.0 810.2 1365.0 810.2 1366.0 819.3 1367.0 813.6 1368.0 813.9 1369.0 813.4 1370.0 816.9 1371.0 811.8 1372.0 819.6 1373.0 811.1 1374.0 816.6 1375.0 817.9 1376.0 814.7 1377.0 817.1 1378.0 811.1 1379.0 809.9 1380.0 815.2 1381.0 813.9 1382.0 819.3 1383.0 817.9 1384.0 820.4 1385.0 819.7 1386.0 819.5 1387.0 830.3 1388.0 817.7 1389.0 817.5 1390.0 827.8 1391.0 814.0 1392.0 819.2 1393.0 824.8 1394.0 823.4 1395.0 827.5 1396.0 824.9 1397.0 817.8 1398.0 821.2 1399.0 817.6 1400.0 827.1 1401.0 830.3 1402.0 823.5 1403.0 827.1 1404.0 824.1 1405.0 820.1 1406.0 824.1 1407.0 820.3 1408.0 825.3 1409.0 828.3 1410.0 831.2 1411.0 834.1 1412.0 828.3 1413.0 830.4 1414.0 831.7 1415.0 832.8 1416.0 819.7 1417.0 838.6 1418.0 834.3 1419.0 827.8 1420.0 832.9 1421.0 836.1 1422.0 825.9 1423.0 832.0 1424.0 834.6 1425.0 834.2 1426.0 821.8 1427.0 835.5 1428.0 832.9 1429.0 838.4 1430.0 837.7 1431.0 834.0 1432.0 836.8 1433.0 833.9 1434.0 833.9 1435.0 830.7 1436.0 835.9 1437.0 840.9 1438.0 838.9 1439.0 838.4 1440.0 836.2 1441.0 836.7 1442.0 842.0 1443.0 833.9 1444.0 847.5 1445.0 840.7 1446.0 849.1 1447.0 846.3 1448.0 839.9 1449.0 844.1 1450.0 842.8 1451.0 843.8 1452.0 845.4 1453.0 840.5 1454.0 839.9 1455.0 840.9 1456.0 837.5 1457.0 841.8 1458.0 844.4 1459.0 844.9 1460.0 845.0 1461.0 842.9 1462.0 847.6 1463.0 837.0 1464.0 842.7 1465.0 843.7 1466.0 848.9 1467.0 848.7 1468.0 849.4 1469.0 846.6 1470.0 850.2 1471.0 843.0 1472.0 846.7 1473.0 838.6 1474.0 853.2 1475.0 854.3 1476.0 837.4 1477.0 844.2 1478.0 839.3 1479.0 841.2 1480.0 848.1 1481.0 847.9 1482.0 842.8 1483.0 846.3 1484.0 846.2 1485.0 850.8 1486.0 852.4 1487.0 849.0 1488.0 850.2 1489.0 851.7 1490.0 841.8 1491.0 850.1 1492.0 850.2 1493.0 853.5 1494.0 843.7 1495.0 853.3 1496.0 848.8 1497.0 852.1 1498.0 856.3 1499.0 846.1 1500.0 845.9 1501.0 855.2 1502.0 847.8 1503.0 847.9 1504.0 854.2 1505.0 851.8 1506.0 855.6 1507.0 854.2 1508.0 852.9 1509.0 856.9 1510.0 862.2 1511.0 853.8 1512.0 859.3 1513.0 858.6 1514.0 854.6 1515.0 855.7 1516.0 850.4 1517.0 851.2 1518.0 855.0 1519.0 854.2 1520.0 862.1 1521.0 849.9 1522.0 853.0 1523.0 852.1 1524.0 854.1 1525.0 859.6 1526.0 850.8 1527.0 851.8 1528.0 853.4 1529.0 854.1 1530.0 859.5 1531.0 855.1 1532.0 858.5 1533.0 856.8 1534.0 855.6 1535.0 854.8 1536.0 849.4 1537.0 852.9 1538.0 857.0 1539.0 857.6 1540.0 851.1 1541.0 860.5 1542.0 859.8 1543.0 852.4 1544.0 852.8 1545.0 859.2 1546.0 850.9 1547.0 854.2 1548.0 857.4 1549.0 857.6 1550.0 858.0 1551.0 860.0 1552.0 855.6 1553.0 856.5 1554.0 866.8 1555.0 854.3 1556.0 856.9 1557.0 859.6 1558.0 856.9 1559.0 864.3 1560.0 860.5 1561.0 863.0 1562.0 850.0 1563.0 864.0 1564.0 865.3 1565.0 858.0 1566.0 865.6 1567.0 862.4 1568.0 864.8 1569.0 868.7 1570.0 862.4 1571.0 857.4 1572.0 861.1 1573.0 856.5 1574.0 858.0 1575.0 858.5 1576.0 858.8 1577.0 866.4 1578.0 866.0 1579.0 859.2 1580.0 866.7 1581.0 856.3 1582.0 859.4 1583.0 861.9 1584.0 867.5 1585.0 866.3 1586.0 865.2 1587.0 868.5 1588.0 866.6 1589.0 869.1 1590.0 860.8 1591.0 856.4 1592.0 861.1 1593.0 866.6 1594.0 864.9 1595.0 867.3 1596.0 866.8 1597.0 866.0 1598.0 867.2 1599.0 861.2 1600.0 867.8 1601.0 860.1 1602.0 862.9 1603.0 858.0 1604.0 865.1 1605.0 857.7 1606.0 868.7 1607.0 858.8 1608.0 879.0 1609.0 863.2 1610.0 848.8 1611.0 868.3 1612.0 862.4 1613.0 869.3 1614.0 860.1 1615.0 860.0 1616.0 855.3 1617.0 864.9 1618.0 867.3 1619.0 864.8 1620.0 863.0 1621.0 859.8 1622.0 872.5 1623.0 867.3 1624.0 856.5 1625.0 861.5 1626.0 852.8 1627.0 868.6 1628.0 871.8 1629.0 870.0 1630.0 863.8 1631.0 861.0 1632.0 857.4 1633.0 864.8 1634.0 860.4 1635.0 861.4 1636.0 860.4 1637.0 861.6 1638.0 866.5 1639.0 870.1 1640.0 864.4 1641.0 847.1 1642.0 858.6 1643.0 857.6 1644.0 858.2 1645.0 866.0 1646.0 864.2 1647.0 866.8 1648.0 862.1 1649.0 861.4 1650.0 857.7 1651.0 860.8 1652.0 856.8 1653.0 870.1 1654.0 864.5 1655.0 874.9 1656.0 870.4 1657.0 861.8 1658.0 864.7 1659.0 862.1 1660.0 863.9 1661.0 861.1 1662.0 864.3 1663.0 868.3 1664.0 857.9 1665.0 853.0 1666.0 866.8 1667.0 869.9 1668.0 865.9 1669.0 861.5 1670.0 868.3 1671.0 870.1 1672.0 861.5 1673.0 864.5 1674.0 859.9 1675.0 855.4 1676.0 860.2 1677.0 864.1 1678.0 856.7 1679.0 856.3 1680.0 867.9 1681.0 862.5 1682.0 863.6 1683.0 857.5 1684.0 858.8 1685.0 862.0 1686.0 862.6 1687.0 862.4 1688.0 868.2 1689.0 863.0 1690.0 860.6 1691.0 857.5 1692.0 861.0 1693.0 866.7 1694.0 859.3 1695.0 859.8 1696.0 861.3 1697.0 858.7 1698.0 857.9 1699.0 860.2 1700.0 865.4 1701.0 863.8 1702.0 860.6 1703.0 863.0 1704.0 856.5 1705.0 865.0 1706.0 864.8 1707.0 863.0 1708.0 855.0 1709.0 869.0 1710.0 850.4 1711.0 859.3 1712.0 857.2 1713.0 863.8 1714.0 855.6 1715.0 861.8 1716.0 860.9 1717.0 860.2 1718.0 864.8 1719.0 867.5 1720.0 863.6 1721.0 860.6 1722.0 852.2 1723.0 866.4 1724.0 860.7 1725.0 853.9 1726.0 861.3 1727.0 867.3 1728.0 862.7 1729.0 856.8 1730.0 870.1 1731.0 864.8 1732.0 863.2 1733.0 865.8 1734.0 853.2 1735.0 860.4 1736.0 860.7 1737.0 870.6 1738.0 860.2 1739.0 859.2 1740.0 855.7 1741.0 857.6 1742.0 860.3 1743.0 862.5 1744.0 860.8 1745.0 869.0 1746.0 864.3 1747.0 864.4 1748.0 854.9 1749.0 864.7 1750.0 859.8 1751.0 855.2 1752.0 862.4 1753.0 858.3 1754.0 866.6 1755.0 859.0 1756.0 852.3 1757.0 860.8 1758.0 865.8 1759.0 861.2 1760.0 862.3 1761.0 862.3 1762.0 868.6 1763.0 863.5 1764.0 861.6 1765.0 859.1 1766.0 854.7 1767.0 866.6 1768.0 866.7 1769.0 858.2 1770.0 863.7 1771.0 863.1 1772.0 860.2 1773.0 860.2 1774.0 864.5 1775.0 857.0 1776.0 859.0 1777.0 861.0 1778.0 861.5 1779.0 860.7 1780.0 862.3 1781.0 863.8 1782.0 858.2 1783.0 861.6 1784.0 859.4 1785.0 867.4 1786.0 856.5 1787.0 860.1 1788.0 864.2 1789.0 860.7 1790.0 860.1 1791.0 859.2 1792.0 862.6 1793.0 857.0 1794.0 860.8 1795.0 861.1 1796.0 855.6 1797.0 862.1 1798.0 859.8 1799.0 862.7 1800.0 865.2 1801.0 863.4 1802.0 857.0 1803.0 862.5 1804.0 863.4 1805.0 857.9 1806.0 868.0 1807.0 862.3 1808.0 868.0 1809.0 861.6 1810.0 861.7 1811.0 857.2 1812.0 865.0 1813.0 861.2 1814.0 864.2 1815.0 863.7 1816.0 864.1 1817.0 863.3 1818.0 861.8 1819.0 861.8 1820.0 859.0 1821.0 852.9 1822.0 862.9 1823.0 867.2 1824.0 870.4 1825.0 871.8 1826.0 864.8 1827.0 858.3 1828.0 857.5 1829.0 864.5 1830.0 863.5 1831.0 861.4 1832.0 864.9 1833.0 858.7 1834.0 863.7 1835.0 861.0 1836.0 862.5 1837.0 866.8 1838.0 861.9 1839.0 867.5 1840.0 867.9 1841.0 859.5 1842.0 871.1 1843.0 857.9 1844.0 861.2 1845.0 864.9 1846.0 853.1 1847.0 865.3 1848.0 866.9 1849.0 862.1 1850.0 863.1 1851.0 863.0 1852.0 861.3 1853.0 866.3 1854.0 861.0 1855.0 861.8 1856.0 863.5 1857.0 865.6 1858.0 866.9 1859.0 856.6 1860.0 857.6 1861.0 860.6 1862.0 870.4 1863.0 857.6 1864.0 862.8 1865.0 864.7 1866.0 863.8 1867.0 868.9 1868.0 858.5 1869.0 861.8 1870.0 869.8 1871.0 865.6 1872.0 857.9 1873.0 862.4 1874.0 866.8 1875.0 870.9 1876.0 865.6 1877.0 867.1 1878.0 858.1 1879.0 860.6 1880.0 866.7 1881.0 852.6 1882.0 861.4 1883.0 854.4 1884.0 867.2 1885.0 862.0 1886.0 864.3 1887.0 856.2 1888.0 856.1 1889.0 868.7 1890.0 861.3 1891.0 859.7 1892.0 863.8 1893.0 864.4 1894.0 854.3 1895.0 857.3 1896.0 861.7 1897.0 862.0 1898.0 863.4 1899.0 860.4 1900.0 860.7 1901.0 862.7 1902.0 859.3 1903.0 858.4 1904.0 859.4 1905.0 861.8 1906.0 861.4 1907.0 860.0 1908.0 860.8 1909.0 861.7 1910.0 863.2 1911.0 863.6 1912.0 857.0 1913.0 865.4 1914.0 855.9 1915.0 863.6 1916.0 859.3 1917.0 864.0 1918.0 873.4 1919.0 854.8 1920.0 863.7 1921.0 863.2 1922.0 860.2 1923.0 863.3 1924.0 860.1 1925.0 862.2 1926.0 857.7 1927.0 864.7 1928.0 864.6 1929.0 865.2 1930.0 859.6 1931.0 869.1 1932.0 870.6 1933.0 862.5 1934.0 860.3 1935.0 860.1 1936.0 864.5 1937.0 866.3 1938.0 866.5 1939.0 853.5 1940.0 862.9 1941.0 861.9 1942.0 862.1 1943.0 864.1 1944.0 857.7 1945.0 861.8 1946.0 860.7 1947.0 863.3 1948.0 866.9 1949.0 862.4 1950.0 858.5 1951.0 866.6 1952.0 865.2 1953.0 861.4 1954.0 854.6 1955.0 857.6 1956.0 862.0 1957.0 864.1 1958.0 859.9 1959.0 863.4 1960.0 859.4 1961.0 859.9 1962.0 863.8 1963.0 860.9 1964.0 862.3 1965.0 865.4 1966.0 866.7 1967.0 859.9 1968.0 860.6 1969.0 856.4 1970.0 856.0 1971.0 862.4 1972.0 859.8 1973.0 854.2 1974.0 863.1 1975.0 858.5 1976.0 860.2 1977.0 863.3 1978.0 863.5 1979.0 861.7 1980.0 853.8 1981.0 863.2 1982.0 859.5 1983.0 855.9 1984.0 852.3 1985.0 866.1 1986.0 862.8 1987.0 862.3 1988.0 864.2 1989.0 861.7 1990.0 855.9 1991.0 863.9 1992.0 866.0 1993.0 864.3 1994.0 868.2 1995.0 870.0 1996.0 859.3 1997.0 859.8 1998.0 866.6 1999.0 862.8 2000.0 862.7 2001.0 865.6 2002.0 865.1 2003.0 860.4 2004.0 862.1 2005.0 859.0 2006.0 860.7 2007.0 857.3" stroke="#ff0000"/><path d="M300.0 859.6 301.0 849.0 302.0 859.4 303.0 856.3 304.0 856.1 305.0 856.8 306.0 849.5 307.0 855.7 308.0 853.6 309.0 869.9 310.0 859.1 311.0 855.6 312.0 855.4 313.0 853.8 314.0 852.0 315.0 854.4 316.0 852.9 317.0 855.5 318.0 860.0 319.0 855.8 320.0 856.3 321.0 862.4 322.0 859.0 323.0 854.5 324.0 855.3 325.0 858.3 326.0 864.2 327.0 856.2 328.0 855.7 329.0 860.9 330.0 854.3 331.0 856.3 332.0 868.9 333.0 861.3 334.0 859.7 335.0 862.1 336.0 848.8 337.0 863.1 338.0 856.8 339.0 853.6 340.0 861.1 341.0 863.7 342.0 859.5 343.0 856.7 344.0 860.9 345.0 857.5 346.0 867.1 347.0 865.1 348.0 862.8 349.0 866.3 350.0 861.5 351.0 858.2 352.0 863.9 353.0 864.5 354.0 861.4 355.0 858.8 356.0 862.3 357.0 851.5 358.0 862.7 359.0 862.5 360.0 853.4 361.0 858.6 362.0 854.3 363.0 860.0 364.0 868.6 365.0 851.1 366.0 856.9 367.0 858.4 368.0 836.9 369.0 848.7 370.0 845.5 371.0 846.3 372.0 852.8 373.0 840.5 374.0 843.5 375.0 836.1 376.0 838.7 377.0 836.0 378.0 831.9 379.0 824.3 380.0 835.4 381.0 831.4 382.0 829.9 383.0 830.4 384.0 826.8 385.0 822.1 386.0 820.5 387.0 820.0 388.0 828.2 389.0 817.4 390.0 819.4 391.0 820.4 392.0 822.4 393.0 823.8 394.0 816.4 395.0 813.5 396.0 819.9 397.0 825.1 398.0 823.6 399.0 821.1 400.0 818.6 401.0 820.6 402.0 818.4 403.0 822.3 404.0 816.0 405.0 818.9 406.0 820.6 407.0 820.3 408.0 819.0 409.0 827.9 410.0 824.4 411.0 823.7 412.0 809.3 413.0 814.3 414.0 813.4 415.0 817.5 416.0 806.5 417.0 818.8 418.0 819.3 419.0 809.6 420.0 809.6 421.0 810.0 422.0 813.1 423.0 815.4 424.0 821.0 425.0 812.2 426.0 814.9 427.0 812.3 428.0 818.1 429.0 814.3 430.0 816.0 431.0 806.0 432.0 808.1 433.0 805.4 434.0 814.0 435.0 811.0 436.0 806.4 437.0 804.8 438.0 807.8 439.0 812.9 440.0 802.3 441.0 805.7 442.0 813.4 443.0 802.7 444.0 799.5 445.0 793.0 446.0 793.1 447.0 798.7 448.0 814.9 449.0 794.1 450.0 793.2 451.0 790.6 452.0 788.9 453.0 789.6 454.0 782.9 455.0 784.3 456.0 780.0 457.0 780.3 458.0 778.6 459.0 780.0 460.0 784.5 461.0 779.7 462.0 780.0 463.0 783.6 464.0 783.1 465.0 787.1 466.0 772.3 467.0 782.4 468.0 777.9 469.0 779.7 470.0 782.6 471.0 783.7 472.0 783.4 473.0 779.7 474.0 784.9 475.0 777.6 476.0 777.2 477.0 780.6 478.0 775.2 479.0 785.0 480.0 780.9 481.0 784.5 482.0 775.2 483.0 771.9 484.0 772.7 485.0 773.9 486.0 767.4 487.0 767.7 488.0 766.5 489.0 771.2 490.0 761.1 491.0 765.3 492.0 757.2 493.0 753.7 494.0 752.8 495.0 749.0 496.0 751.9 497.0 753.4 498.0 736.1 499.0 746.4 500.0 747.6 501.0 739.6 502.0 735.8 503.0 731.0 504.0 722.7 505.0 728.9 506.0 717.4 507.0 724.0 508.0 720.4 509.0 723.3 510.0 717.8 511.0 714.2 512.0 716.6 513.0 712.4 514.0 712.8 515.0 713.0 516.0 711.7 517.0 710.7 518.0 707.3 519.0 708.9 520.0 715.0 521.0 706.9 522.0 702.6 523.0 710.6 524.0 702.3 525.0 697.2 526.0 692.2 527.0 701.2 528.0 696.0 529.0 700.2 530.0 695.1 531.0 687.8 532.0 691.3 533.0 690.4 534.0 689.4 535.0 682.1 536.0 686.8 537.0 685.8 538.0 676.3 539.0 675.2 540.0 675.4 541.0 671.5 542.0 678.3 543.0 670.9 544.0 663.3 545.0 661.5 546.0 662.2 547.0 669.7 548.0 658.5 549.0 656.6 550.0 657.5 551.0 651.4 552.0 658.0 553.0 645.3 554.0 647.0 555.0 642.6 556.0 641.8 557.0 632.4 558.0 641.0 559.0 632.1 560.0 629.7 561.0 623.4 562.0 621.4 563.0 624.3 564.0 624.1 565.0 621.1 566.0 620.6 567.0 616.5 568.0 611.3 569.0 612.0 570.0 609.1 571.0 604.1 572.0 604.9 573.0 605.2 574.0 599.0 575.0 594.1 576.0 595.9 577.0 598.8 578.0 588.7 579.0 586.2 580.0 583.8 581.0 587.0 582.0 573.2 583.0 578.6 584.0 580.4 585.0 570.6 586.0 576.8 587.0 571.7 588.0 564.8 589.0 565.2 590.0 556.3 591.0 557.3 592.0 565.0 593.0 552.9 594.0 560.7 595.0 551.9 596.0 534.8 597.0 547.8 598.0 536.2 599.0 539.8 600.0 541.4 601.0 534.3 602.0 531.0 603.0 535.7 604.0 530.3 605.0 523.8 606.0 525.3 607.0 529.9 608.0 523.2 609.0 526.4 610.0 527.3 611.0 519.6 612.0 512.5 613.0 509.3 614.0 512.3 615.0 514.4 616.0 522.1 617.0 509.3 618.0 503.5 619.0 504.0 620.0 499.2 621.0 497.4 622.0 491.6 623.0 488.0 624.0 490.2 625.0 486.0 626.0 484.4 627.0 488.9 628.0 484.4 629.0 494.1 630.0 473.8 631.0 476.5 632.0 479.5 633.0 476.4 634.0 470.2 635.0 475.0 636.0 466.4 637.0 454.8 638.0 467.4 639.0 461.4 640.0 467.7 641.0 458.3 642.0 453.8 643.0 462.7 644.0 446.5 645.0 454.3 646.0 458.1 647.0 451.8 648.0 449.0 649.0 448.1 650.0 448.8 651.0 441.8 652.0 445.4 653.0 444.3 654.0 449.9 655.0 438.5 656.0 433.8 657.0 438.6 658.0 433.3 659.0 434.3 660.0 442.5 661.0 435.2 662.0 427.0 663.0 430.7 664.0 401.3 665.0 420.5 666.0 416.1 667.0 420.2 668.0 418.0 669.0 414.5 670.0 420.1 671.0 417.9 672.0 411.0 673.0 416.5 674.0 416.1 675.0 414.8 676.0 408.1 677.0 415.7 678.0 409.9 679.0 406.0 680.0 402.8 681.0 402.4 682.0 405.5 683.0 400.1 684.0 403.7 685.0 400.9 686.0 402.5 687.0 399.3 688.0 394.4 689.0 385.3 690.0 392.1 691.0 393.5 692.0 390.1 693.0 390.2 694.0 385.0 695.0 383.7 696.0 380.3 697.0 388.1 698.0 383.0 699.0 378.9 700.0 374.2 701.0 377.4 702.0 383.1 703.0 378.9 704.0 372.8 705.0 379.9 706.0 379.7 707.0 377.0 708.0 375.0 709.0 375.3 710.0 371.9 711.0 371.5 712.0 364.3 713.0 371.8 714.0 366.6 715.0 372.5 716.0 339.6 717.0 364.8 718.0 366.2 719.0 360.7 720.0 363.0 721.0 364.2 722.0 363.6 723.0 357.6 724.0 362.3 725.0 362.5 726.0 372.8 727.0 377.2 728.0 372.6 729.0 375.3 730.0 380.5 731.0 383.4 732.0 372.3 733.0 377.7 734.0 372.8 735.0 373.5 736.0 375.2 737.0 355.6 738.0 368.1 739.0 373.3 740.0 362.0 741.0 368.4 742.0 359.1 743.0 357.8 744.0 363.9 745.0 359.1 746.0 356.1 747.0 356.4 748.0 359.5 749.0 357.6 750.0 357.6 751.0 361.9 752.0 355.4 753.0 355.8 754.0 355.7 755.0 362.6 756.0 362.7 757.0 364.1 758.0 359.2 759.0 358.4 760.0 362.5 761.0 358.2 762.0 362.9 763.0 363.2 764.0 357.9 765.0 360.1 766.0 360.5 767.0 371.7 768.0 373.3 769.0 364.0 770.0 364.7 771.0 357.0 772.0 367.6 773.0 369.3 774.0 372.0 775.0 375.7 776.0 368.9 777.0 375.2 778.0 378.8 779.0 375.2 780.0 384.5 781.0 387.5 782.0 379.0 783.0 378.9 784.0 387.5 785.0 386.5 786.0 382.3 787.0 386.1 788.0 387.7 789.0 388.2 790.0 392.6 791.0 391.7 792.0 397.6 793.0 397.0 794.0 394.6 795.0 396.3 796.0 397.8 797.0 395.9 798.0 388.4 799.0 396.3 800.0 394.3 801.0 400.6 802.0 395.6 803.0 397.2 804.0 390.7 805.0 402.7 806.0 397.7 807.0 391.0 808.0 398.5 809.0 396.3 810.0 399.0 811.0 399.1 812.0 400.8 813.0 408.1 814.0 390.4 815.0 401.7 816.0 401.5 817.0 402.6 818.0 399.1 819.0 401.0 820.0 404.4 821.0 407.7 822.0 406.4 823.0 405.1 824.0 404.2 825.0 410.2 826.0 415.2 827.0 412.0 828.0 411.8 829.0 413.6 830.0 409.0 831.0 411.8 832.0 413.1 833.0 416.3 834.0 416.1 835.0 412.2 836.0 422.0 837.0 426.1 838.0 422.8 839.0 422.8 840.0 423.8 841.0 427.3 842.0 420.1 843.0 433.1 844.0 427.7 845.0 435.6 846.0 433.3 847.0 443.3 848.0 435.4 849.0 441.4 850.0 436.6 851.0 439.6 852.0 440.9 853.0 437.6 854.0 450.6 855.0 450.3 856.0 449.0 857.0 454.7 858.0 447.7 859.0 451.2 860.0 459.3 861.0 457.6 862.0 444.9 863.0 439.6 864.0 448.4 865.0 457.8 866.0 452.9 867.0 453.5 868.0 457.0 869.0 451.6 870.0 455.6 871.0 458.4 872.0 457.5 873.0 457.3 874.0 453.5 875.0 457.7 876.0 465.9 877.0 461.4 878.0 467.4 879.0 455.1 880.0 448.6 881.0 455.3 882.0 459.7 883.0 463.4 884.0 464.6 885.0 458.0 886.0 458.1 887.0 467.1 888.0 459.5 889.0 468.3 890.0 464.9 891.0 469.5 892.0 470.7 893.0 469.6 894.0 473.5 895.0 467.4 896.0 473.0 897.0 473.4 898.0 475.7 899.0 480.6 900.0 476.1 901.0 468.1 902.0 475.9 903.0 478.9 904.0 484.6 905.0 480.3 906.0 496.7 907.0 487.7 908.0 486.8 909.0 483.6 910.0 490.8 911.0 494.4 912.0 486.1 913.0 498.1 914.0 502.0 915.0 498.0 916.0 499.0 917.0 507.5 918.0 504.3 919.0 496.2 920.0 499.5 921.0 499.9 922.0 500.6 923.0 492.4 924.0 504.6 925.0 500.8 926.0 504.1 927.0 503.7 928.0 508.2 929.0 504.5 930.0 502.6 931.0 508.2 932.0 512.7 933.0 506.8 934.0 513.5 935.0 510.2 936.0 507.3 937.0 515.7 938.0 507.8 939.0 514.9 940.0 510.2 941.0 514.2 942.0 508.5 943.0 510.3 944.0 518.8 945.0 516.9 946.0 517.0 947.0 516.0 948.0 520.3 949.0 514.5 950.0 516.3 951.0 521.8 952.0 521.2 953.0 523.4 954.0 505.6 955.0 530.0 956.0 531.8 957.0 541.4 958.0 541.7 959.0 544.5 960.0 541.5 961.0 541.1 962.0 538.8 963.0 544.4 964.0 539.3 965.0 545.8 966.0 552.8 967.0 557.7 968.0 556.4 969.0 549.8 970.0 555.2 971.0 551.4 972.0 558.0 973.0 555.6 974.0 548.3 975.0 567.6 976.0 562.3 977.0 567.9 978.0 560.4 979.0 558.1 980.0 565.0 981.0 567.7 982.0 559.4 983.0 561.5 984.0 556.2 985.0 561.0 986.0 566.4 987.0 563.5 988.0 561.8 989.0 558.9 990.0 566.2 991.0 569.3 992.0 569.4 993.0 568.7 994.0 563.3 995.0 575.6 996.0 570.4 997.0 570.4 998.0 574.8 999.0 564.7 1000.0 573.2 1001.0 580.1 1002.0 579.2 1003.0 585.5 1004.0 584.7 1005.0 577.7 1006.0 585.3 1007.0 590.5 1008.0 610.7 1009.0 590.0 1010.0 590.3 1011.0 601.2 1012.0 603.3 1013.0 603.7 1014.0 598.2 1015.0 612.6 1016.0 589.5 1017.0 605.0 1018.0 616.0 1019.0 608.6 1020.0 609.7 1021.0 604.5 1022.0 614.3 1023.0 605.0 1024.0 610.4 1025.0 610.7 1026.0 606.2 1027.0 613.6 1028.0 605.9 1029.0 598.4 1030.0 610.7 1031.0 609.6 1032.0 613.2 1033.0 615.6 1034.0 610.3 1035.0 610.0 1036.0 610.2 1037.0 611.1 1038.0 616.2 1039.0 613.0 1040.0 615.6 1041.0 613.4 1042.0 611.8 1043.0 619.1 1044.0 613.0 1045.0 617.5 1046.0 624.8 1047.0 616.3 1048.0 620.7 1049.0 616.2 1050.0 621.2 1051.0 619.1 1052.0 624.6 1053.0 625.8 1054.0 629.8 1055.0 637.3 1056.0 634.2 1057.0 636.6 1058.0 635.3 1059.0 635.6 1060.0 634.4 1061.0 625.2 1062.0 639.7 1063.0 647.7 1064.0 644.8 1065.0 641.3 1066.0 650.3 1067.0 643.5 1068.0 642.6 1069.0 640.6 1070.0 641.9 1071.0 645.3 1072.0 655.0 1073.0 647.6 1074.0 643.9 1075.0 645.6 1076.0 647.6 1077.0 642.2 1078.0 649.3 1079.0 652.6 1080.0 651.7 1081.0 655.9 1082.0 645.9 1083.0 643.8 1084.0 655.8 1085.0 656.5 1086.0 646.3 1087.0 652.5 1088.0 652.7 1089.0 655.1 1090.0 654.3 1091.0 651.6 1092.0 654.5 1093.0 654.9 1094.0 654.5 1095.0 647.7 1096.0 642.8 1097.0 649.9 1098.0 649.5 1099.0 657.2 1100.0 660.3 1101.0 659.3 1102.0 657.3 1103.0 659.5 1104.0 664.8 1105.0 658.6 1106.0 665.4 1107.0 666.1 1108.0 665.4 1109.0 671.0 1110.0 663.9 1111.0 670.7 1112.0 665.0 1113.0 666.0 1114.0 665.8 1115.0 672.7 1116.0 668.7 1117.0 673.0 1118.0 669.5 1119.0 678.5 1120.0 683.1 1121.0 677.8 1122.0 683.5 1123.0 680.3 1124.0 686.9 1125.0 679.9 1126.0 673.0 1127.0 685.1 1128.0 680.4 1129.0 676.8 1130.0 678.5 1131.0 675.4 1132.0 681.5 1133.0 679.1 1134.0 693.5 1135.0 688.2 1136.0 679.5 1137.0 680.1 1138.0 684.7 1139.0 680.7 1140.0 688.5 1141.0 690.5 1142.0 688.9 1143.0 688.8 1144.0 686.2 1145.0 701.4 1146.0 703.4 1147.0 699.0 1148.0 703.9 1149.0 704.9 1150.0 703.5 1151.0 699.7 1152.0 707.3 1153.0 701.4 1154.0 703.0 1155.0 708.1 1156.0 712.0 1157.0 705.6 1158.0 703.1 1159.0 713.7 1160.0 715.5 1161.0 712.4 1162.0 716.7 1163.0 716.6 1164.0 724.0 1165.0 722.1 1166.0 715.1 1167.0 711.6 1168.0 720.9 1169.0 726.7 1170.0 723.6 1171.0 726.6 1172.0 721.8 1173.0 718.2 1174.0 726.6 1175.0 725.2 1176.0 727.7 1177.0 720.0 1178.0 725.8 1179.0 734.0 1180.0 729.1 1181.0 724.5 1182.0 724.1 1183.0 724.4 1184.0 732.0 1185.0 731.6 1186.0 724.8 1187.0 723.7 1188.0 723.7 1189.0 733.9 1190.0 722.1 1191.0 725.0 1192.0 731.5 1193.0 734.5 1194.0 729.8 1195.0 733.3 1196.0 730.8 1197.0 735.0 1198.0 731.7 1199.0 738.1 1200.0 733.3 1201.0 738.5 1202.0 728.9 1203.0 736.5 1204.0 728.9 1205.0 727.6 1206.0 735.9 1207.0 732.0 1208.0 737.2 1209.0 732.2 1210.0 743.0 1211.0 738.5 1212.0 733.9 1213.0 739.3 1214.0 743.4 1215.0 737.8 1216.0 743.1 1217.0 750.4 1218.0 747.1 1219.0 744.0 1220.0 742.1 1221.0 747.2 1222.0 740.1 1223.0 734.0 1224.0 743.5 1225.0 743.4 1226.0 755.3 1227.0 750.8 1228.0 746.5 1229.0 745.9 1230.0 753.1 1231.0 749.1 1232.0 746.7 1233.0 752.7 1234.0 754.2 1235.0 754.8 1236.0 755.4 1237.0 760.5 1238.0 755.6 1239.0 750.2 1240.0 766.1 1241.0 765.5 1242.0 762.3 1243.0 755.1 1244.0 758.9 1245.0 759.2 1246.0 759.1 1247.0 762.3 1248.0 762.1 1249.0 755.8 1250.0 759.0 1251.0 762.9 1252.0 763.4 1253.0 759.7 1254.0 759.8 1255.0 760.5 1256.0 757.1 1257.0 756.2 1258.0 767.7 1259.0 761.3 1260.0 762.9 1261.0 759.9 1262.0 767.9 1263.0 770.8 1264.0 770.6 1265.0 765.9 1266.0 761.3 1267.0 771.0 1268.0 768.9 1269.0 761.9 1270.0 769.7 1271.0 767.1 1272.0 767.3 1273.0 767.3 1274.0 763.4 1275.0 763.8 1276.0 768.6 1277.0 766.7 1278.0 763.1 1279.0 774.8 1280.0 767.3 1281.0 765.3 1282.0 764.8 1283.0 770.5 1284.0 772.4 1285.0 769.9 1286.0 772.4 1287.0 763.4 1288.0 767.3 1289.0 767.5 1290.0 769.6 1291.0 772.0 1292.0 762.4 1293.0 782.2 1294.0 764.8 1295.0 770.7 1296.0 774.7 1297.0 775.3 1298.0 773.2 1299.0 760.6 1300.0 766.9 1301.0 775.0 1302.0 769.4 1303.0 768.5 1304.0 763.5 1305.0 777.4 1306.0 776.2 1307.0 770.7 1308.0 773.4 1309.0 774.0 1310.0 770.2 1311.0 773.4 1312.0 776.1 1313.0 777.7 1314.0 781.0 1315.0 776.6 1316.0 774.4 1317.0 777.8 1318.0 774.3 1319.0 771.7 1320.0 781.2 1321.0 776.3 1322.0 776.2 1323.0 780.5 1324.0 779.4 1325.0 780.5 1326.0 780.6 1327.0 778.6 1328.0 780.6 1329.0 776.4 1330.0 782.1 1331.0 777.8 1332.0 776.2 1333.0 783.3 1334.0 781.9 1335.0 778.8 1336.0 781.0 1337.0 786.6 1338.0 786.5 1339.0 783.7 1340.0 783.9 1341.0 775.9 1342.0 781.8 1343.0 787.4 1344.0 782.6 1345.0 784.3 1346.0 779.0 1347.0 776.5 1348.0 776.4 1349.0 781.6 1350.0 789.4 1351.0 789.8 1352.0 781.3 1353.0 778.5 1354.0 787.6 1355.0 787.6 1356.0 780.5 1357.0 789.7 1358.0 787.3 1359.0 791.8 1360.0 788.6 1361.0 790.7 1362.0 788.8 1363.0 783.8 1364.0 786.3 1365.0 785.0 1366.0 791.1 1367.0 784.7 1368.0 782.1 1369.0 790.9 1370.0 793.8 1371.0 795.5 1372.0 794.5 1373.0 788.7 1374.0 786.7 1375.0 787.7 1376.0 790.1 1377.0 782.1 1378.0 790.0 1379.0 792.2 1380.0 787.7 1381.0 791.7 1382.0 796.6 1383.0 792.8 1384.0 796.6 1385.0 808.6 1386.0 794.9 1387.0 794.8 1388.0 791.9 1389.0 798.3 1390.0 792.3 1391.0 791.0 1392.0 796.7 1393.0 791.8 1394.0 796.1 1395.0 799.2 1396.0 795.9 1397.0 795.8 1398.0 799.3 1399.0 792.2 1400.0 790.3 1401.0 790.5 1402.0 801.2 1403.0 798.8 1404.0 788.9 1405.0 791.1 1406.0 796.9 1407.0 793.7 1408.0 799.4 1409.0 798.6 1410.0 800.4 1411.0 794.2 1412.0 800.9 1413.0 807.1 1414.0 796.9 1415.0 804.5 1416.0 804.2 1417.0 803.0 1418.0 800.2 1419.0 795.8 1420.0 796.7 1421.0 787.0 1422.0 805.3 1423.0 806.6 1424.0 805.9 1425.0 804.5 1426.0 800.7 1427.0 797.3 1428.0 802.8 1429.0 804.7 1430.0 803.4 1431.0 797.1 1432.0 800.7 1433.0 797.4 1434.0 803.8 1435.0 799.8 1436.0 790.4 1437.0 819.1 1438.0 805.4 1439.0 810.5 1440.0 801.3 1441.0 796.3 1442.0 808.5 1443.0 811.7 1444.0 806.8 1445.0 808.1 1446.0 808.9 1447.0 807.5 1448.0 801.9 1449.0 804.5 1450.0 809.2 1451.0 805.6 1452.0 815.3 1453.0 802.8 1454.0 806.2 1455.0 812.9 1456.0 806.9 1457.0 804.5 1458.0 803.5 1459.0 806.2 1460.0 815.6 1461.0 812.3 1462.0 812.7 1463.0 808.8 1464.0 814.1 1465.0 811.9 1466.0 807.8 1467.0 809.5 1468.0 810.3 1469.0 816.9 1470.0 812.7 1471.0 814.7 1472.0 821.2 1473.0 810.9 1474.0 808.3 1475.0 817.2 1476.0 816.1 1477.0 814.1 1478.0 815.6 1479.0 813.7 1480.0 817.1 1481.0 814.3 1482.0 818.8 1483.0 811.7 1484.0 814.6 1485.0 816.7 1486.0 815.0 1487.0 821.5 1488.0 817.6 1489.0 815.6 1490.0 818.7 1491.0 816.3 1492.0 812.3 1493.0 813.8 1494.0 815.6 1495.0 817.4 1496.0 820.1 1497.0 823.9 1498.0 823.1 1499.0 828.2 1500.0 827.0 1501.0 821.4 1502.0 828.4 1503.0 827.5 1504.0 821.2 1505.0 824.0 1506.0 827.6 1507.0 824.9 1508.0 828.0 1509.0 826.2 1510.0 827.5 1511.0 820.6 1512.0 826.6 1513.0 824.2 1514.0 828.5 1515.0 819.8 1516.0 827.3 1517.0 832.0 1518.0 830.1 1519.0 827.8 1520.0 837.8 1521.0 825.2 1522.0 825.1 1523.0 827.2 1524.0 828.6 1525.0 833.5 1526.0 826.9 1527.0 834.1 1528.0 824.9 1529.0 827.5 1530.0 831.0 1531.0 836.5 1532.0 830.3 1533.0 823.9 1534.0 833.8 1535.0 833.3 1536.0 829.4 1537.0 829.5 1538.0 831.2 1539.0 834.9 1540.0 837.9 1541.0 830.0 1542.0 844.5 1543.0 837.1 1544.0 835.3 1545.0 839.7 1546.0 838.3 1547.0 847.4 1548.0 843.7 1549.0 837.9 1550.0 837.7 1551.0 837.6 1552.0 838.6 1553.0 843.2 1554.0 838.8 1555.0 847.8 1556.0 842.3 1557.0 842.0 1558.0 846.7 1559.0 836.0 1560.0 839.5 1561.0 846.4 1562.0 845.2 1563.0 845.4 1564.0 847.5 1565.0 844.1 1566.0 845.9 1567.0 841.8 1568.0 839.8 1569.0 852.5 1570.0 845.5 1571.0 846.0 1572.0 854.9 1573.0 854.9 1574.0 849.0 1575.0 848.8 1576.0 851.0 1577.0 848.1 1578.0 854.2 1579.0 853.6 1580.0 853.9 1581.0 856.8 1582.0 857.3 1583.0 862.2 1584.0 861.8 1585.0 849.3 1586.0 858.7 1587.0 852.0 1588.0 850.4 1589.0 859.1 1590.0 854.7 1591.0 856.1 1592.0 859.7 1593.0 856.0 1594.0 854.8 1595.0 859.8 1596.0 864.1 1597.0 862.0 1598.0 853.8 1599.0 856.8 1600.0 859.2 1601.0 868.0 1602.0 864.9 1603.0 864.7 1604.0 866.3 1605.0 860.6 1606.0 878.3 1607.0 863.9 1608.0 858.3 1609.0 861.8 1610.0 864.7 1611.0 858.6 1612.0 865.7 1613.0 866.4 1614.0 867.8 1615.0 860.9 1616.0 864.0 1617.0 869.8 1618.0 868.0 1619.0 861.7 1620.0 865.2 1621.0 870.5 1622.0 865.3 1623.0 866.8 1624.0 875.8 1625.0 866.5 1626.0 865.4 1627.0 861.9 1628.0 863.1 1629.0 871.9 1630.0 866.4 1631.0 861.9 1632.0 862.6 1633.0 866.5 1634.0 870.0 1635.0 864.5 1636.0 869.8 1637.0 865.7 1638.0 868.7 1639.0 869.8 1640.0 870.3 1641.0 866.3 1642.0 867.0 1643.0 872.8 1644.0 863.0 1645.0 868.2 1646.0 870.1 1647.0 872.4 1648.0 868.3 1649.0 867.3 1650.0 868.5 1651.0 865.2 1652.0 866.9 1653.0 869.5 1654.0 869.3 1655.0 864.0 1656.0 847.5 1657.0 859.4 1658.0 870.2 1659.0 866.0 1660.0 868.6 1661.0 863.5 1662.0 874.3 1663.0 869.5 1664.0 871.8 1665.0 862.7 1666.0 870.5 1667.0 867.2 1668.0 864.4 1669.0 869.1 1670.0 866.4 1671.0 866.1 1672.0 864.4 1673.0 867.9 1674.0 867.5 1675.0 866.5 1676.0 863.3 1677.0 864.7 1678.0 868.4 1679.0 872.2 1680.0 867.4 1681.0 872.6 1682.0 867.4 1683.0 862.5 1684.0 868.8 1685.0 863.1 1686.0 867.9 1687.0 857.0 1688.0 865.7 1689.0 866.0 1690.0 876.2 1691.0 871.1 1692.0 867.6 1693.0 869.5 1694.0 866.1 1695.0 865.8 1696.0 867.6 1697.0 856.7 1698.0 870.7 1699.0 862.2 1700.0 861.3 1701.0 867.5 1702.0 866.1 1703.0 860.8 1704.0 866.1 1705.0 861.2 1706.0 862.4 1707.0 859.3 1708.0 861.6 1709.0 866.6 1710.0 866.0 1711.0 866.6 1712.0 869.0 1713.0 865.4 1714.0 862.5 1715.0 863.7 1716.0 871.4 1717.0 865.7 1718.0 866.2 1719.0 864.5 1720.0 865.6 1721.0 866.4 1722.0 864.7 1723.0 882.1 1724.0 861.2 1725.0 860.6 1726.0 865.5 1727.0 867.3 1728.0 868.1 1729.0 864.6 1730.0 869.5 1731.0 866.0 1732.0 866.4 1733.0 858.0 1734.0 866.2 1735.0 866.1 1736.0 870.3 1737.0 859.6 1738.0 857.8 1739.0 865.8 1740.0 856.3 1741.0 859.5 1742.0 858.3 1743.0 858.4 1744.0 854.8 1745.0 861.0 1746.0 866.4 1747.0 864.7 1748.0 864.5 1749.0 861.2 1750.0 868.0 1751.0 864.9 1752.0 866.6 1753.0 847.5 1754.0 856.5 1755.0 857.5 1756.0 862.8 1757.0 862.7 1758.0 857.4 1759.0 862.0 1760.0 866.3 1761.0 864.0 1762.0 864.1 1763.0 858.3 1764.0 858.4 1765.0 856.6 1766.0 861.3 1767.0 865.9 1768.0 863.3 1769.0 861.3 1770.0 856.9 1771.0 874.1 1772.0 860.1 1773.0 853.2 1774.0 853.2 1775.0 858.6 1776.0 851.2 1777.0 866.8 1778.0 861.3 1779.0 856.5 1780.0 858.1 1781.0 866.5 1782.0 857.2 1783.0 863.1 1784.0 862.3 1785.0 866.3 1786.0 863.0 1787.0 858.9 1788.0 862.2 1789.0 860.6 1790.0 864.1 1791.0 860.3 1792.0 868.0 1793.0 860.5 1794.0 861.9 1795.0 857.6 1796.0 860.3 1797.0 860.2 1798.0 860.7 1799.0 863.7 1800.0 858.3 1801.0 856.5 1802.0 864.1 1803.0 859.3 1804.0 857.3 1805.0 864.4 1806.0 863.6 1807.0 849.9 1808.0 857.6 1809.0 862.9 1810.0 863.7 1811.0 858.4 1812.0 866.1 1813.0 857.5 1814.0 858.9 1815.0 860.5 1816.0 860.1 1817.0 863.3 1818.0 864.5 1819.0 860.4 1820.0 865.7 1821.0 857.9 1822.0 859.0 1823.0 866.8 1824.0 861.2 1825.0 864.4 1826.0 858.8 1827.0 858.9 1828.0 859.6 1829.0 860.7 1830.0 858.8 1831.0 860.1 1832.0 862.8 1833.0 865.2 1834.0 861.1 1835.0 862.8 1836.0 864.0 1837.0 856.3 1838.0 853.5 1839.0 865.9 1840.0 865.9 1841.0 861.0 1842.0 861.6 1843.0 856.6 1844.0 854.3 1845.0 869.9 1846.0 854.3 1847.0 863.2 1848.0 857.8 1849.0 861.1 1850.0 867.9 1851.0 868.4 1852.0 862.6 1853.0 864.3 1854.0 855.9 1855.0 857.5 1856.0 861.3 1857.0 865.7 1858.0 858.4 1859.0 862.1 1860.0 860.7 1861.0 855.2 1862.0 859.1 1863.0 866.0 1864.0 860.3 1865.0 862.1 1866.0 863.6 1867.0 857.6 1868.0 864.7 1869.0 866.5 1870.0 867.1 1871.0 866.0 1872.0 858.9 1873.0 857.7 1874.0 856.8 1875.0 856.2 1876.0 856.6 1877.0 863.7 1878.0 866.3 1879.0 858.2 1880.0 863.1 1881.0 855.4 1882.0 858.3 1883.0 856.0 1884.0 853.2 1885.0 859.6 1886.0 860.3 1887.0 858.5 1888.0 857.8 1889.0 855.9 1890.0 859.1 1891.0 857.6 1892.0 860.8 1893.0 855.3 1894.0 860.5 1895.0 862.1 1896.0 865.2 1897.0 864.7 1898.0 861.3 1899.0 857.5 1900.0 852.5 1901.0 859.3 1902.0 865.6 1903.0 867.2 1904.0 850.7 1905.0 856.1 1906.0 858.2 1907.0 855.7 1908.0 860.3 1909.0 860.2 1910.0 858.0 1911.0 859.7 1912.0 853.7 1913.0 855.5 1914.0 856.0 1915.0 863.2 1916.0 853.9 1917.0 858.6 1918.0 863.0 1919.0 859.0 1920.0 863.3 1921.0 857.8 1922.0 861.5 1923.0 863.8 1924.0 869.3 1925.0 863.8 1926.0 866.1 1927.0 860.7 1928.0 860.5 1929.0 866.3 1930.0 863.0 1931.0 866.0 1932.0 863.5 1933.0 868.8 1934.0 870.4 1935.0 857.8 1936.0 867.2 1937.0 862.5 1938.0 862.2 1939.0 859.8 1940.0 862.9 1941.0 855.9 1942.0 856.8 1943.0 856.7 1944.0 860.9 1945.0 863.9 1946.0 863.4 1947.0 861.9 1948.0 857.9 1949.0 852.9 1950.0 861.0 1951.0 860.8 1952.0 861.6 1953.0 866.0 1954.0 860.0 1955.0 859.3 1956.0 850.8 1957.0 861.4 1958.0 860.1 1959.0 857.2 1960.0 861.4 1961.0 856.1 1962.0 857.6 1963.0 867.7 1964.0 863.9 1965.0 877.9 1966.0 863.5 1967.0 863.0 1968.0 849.3 1969.0 869.3 1970.0 860.7 1971.0 863.1 1972.0 850.7 1973.0 858.7 1974.0 850.3 1975.0 851.5 1976.0 865.4 1977.0 866.6 1978.0 859.0 1979.0 859.9 1980.0 862.5 1981.0 856.4 1982.0 866.8 1983.0 856.6 1984.0 856.9 1985.0 848.8 1986.0 865.0 1987.0 860.8 1988.0 866.6 1989.0 856.7 1990.0 861.1 1991.0 860.5 1992.0 860.9 1993.0 868.4 1994.0 869.9 1995.0 866.5 1996.0 866.5 1997.0 863.5 1998.0 865.8 1999.0 862.8 2000.0 862.6 2001.0 862.2 2002.0 856.7 2003.0 860.7 2004.0 866.5 2005.0 856.7 2006.0 860.0 2007.0 863.4" stroke="#0000ff"/><path d="M300.0 896.0 301.0 895.3 302.0 902.6 303.0 899.3 304.0 889.8 305.0 895.4 306.0 893.5 307.0 896.3 308.0 889.6 309.0 908.5 310.0 897.0 311.0 902.4 312.0 897.9 313.0 898.2 314.0 890.3 315.0 904.4 316.0 889.2 317.0 899.7 318.0 894.9 319.0 891.8 320.0 891.7 321.0 890.7 322.0 893.8 323.0 896.7 324.0 895.9 325.0 882.0 326.0 886.6 327.0 882.3 328.0 883.2 329.0 875.4 330.0 880.4 331.0 882.4 332.0 875.4 333.0 884.1 334.0 881.4 335.0 884.0 336.0 883.7 337.0 875.6 338.0 875.1 339.0 877.2 340.0 880.9 341.0 881.4 342.0 875.0 343.0 874.6 344.0 873.6 345.0 874.3 346.0 875.7 347.0 876.3 348.0 885.0 349.0 875.7 350.0 875.6 351.0 878.6 352.0 873.3 353.0 875.1 354.0 876.8 355.0 880.0 356.0 872.0 357.0 872.3 358.0 876.0 359.0 877.5 360.0 885.1 361.0 873.3 362.0 881.4 363.0 878.0 364.0 876.9 365.0 878.2 366.0 873.1 367.0 881.3 368.0 874.3 369.0 871.6 370.0 884.5 371.0 877.1 372.0 872.1 373.0 883.7 374.0 876.1 375.0 880.8 376.0 873.6 377.0 875.1 378.0 879.7 379.0 867.9 380.0 871.3 381.0 875.1 382.0 878.8 383.0 885.5 384.0 872.2 385.0 878.9 386.0 872.9 387.0 874.0 388.0 871.0 389.0 867.9 390.0 870.4 391.0 868.7 392.0 873.2 393.0 870.5 394.0 877.7 395.0 873.6 396.0 872.8 397.0 876.1 398.0 873.4 399.0 861.0 400.0 869.2 401.0 870.5 402.0 872.5 403.0 871.1 404.0 868.7 405.0 869.6 406.0 863.8 407.0 856.5 408.0 858.9 409.0 868.6 410.0 864.1 411.0 863.6 412.0 864.8 413.0 862.2 414.0 860.6 415.0 866.0 416.0 862.0 417.0 857.2 418.0 861.9 419.0 853.6 420.0 865.9 421.0 859.7 422.0 859.8 423.0 868.4 424.0 868.6 425.0 860.4 426.0 861.4 427.0 863.2 428.0 865.6 429.0 858.4 430.0 858.6 431.0 862.8 432.0 859.2 433.0 860.6 434.0 859.9 435.0 852.7 436.0 852.9 437.0 845.6 438.0 854.1 439.0 861.0 440.0 851.7 441.0 859.8 442.0 859.4 443.0 854.8 444.0 854.1 445.0 853.8 446.0 849.4 447.0 850.6 448.0 851.0 449.0 852.8 450.0 852.9 451.0 846.0 452.0 850.7 453.0 844.0 454.0 844.9 455.0 846.4 456.0 844.2 457.0 842.8 458.0 843.6 459.0 839.8 460.0 847.9 461.0 824.2 462.0 844.2 463.0 840.1 464.0 847.6 465.0 841.7 466.0 828.8 467.0 838.5 468.0 848.9 469.0 844.7 470.0 844.0 471.0 843.8 472.0 854.2 473.0 855.6 474.0 856.0 475.0 856.4 476.0 861.7 477.0 860.8 478.0 853.2 479.0 860.6 480.0 858.8 481.0 857.0 482.0 859.4 483.0 855.6 484.0 842.2 485.0 857.2 486.0 855.0 487.0 848.4 488.0 845.0 489.0 845.4 490.0 837.7 491.0 841.7 492.0 838.6 493.0 836.6 494.0 833.2 495.0 833.0 496.0 839.3 497.0 840.2 498.0 836.3 499.0 833.0 500.0 828.8 501.0 834.1 502.0 837.6 503.0 824.6 504.0 833.9 505.0 821.0 506.0 826.4 507.0 829.3 508.0 822.2 509.0 820.3 510.0 826.4 511.0 829.2 512.0 820.8 513.0 829.6 514.0 840.1 515.0 829.8 516.0 823.5 517.0 822.6 518.0 823.2 519.0 821.2 520.0 826.2 521.0 827.2 522.0 819.7 523.0 815.1 524.0 809.6 525.0 809.7 526.0 811.6 527.0 810.3 528.0 809.3 529.0 808.3 530.0 809.1 531.0 800.8 532.0 800.3 533.0 807.8 534.0 806.5 535.0 800.0 536.0 805.7 537.0 797.7 538.0 797.8 539.0 790.9 540.0 800.3 541.0 797.3 542.0 800.9 543.0 799.5 544.0 796.7 545.0 796.6 546.0 800.7 547.0 796.0 548.0 796.1 549.0 797.8 550.0 801.8 551.0 803.7 552.0 809.0 553.0 802.7 554.0 808.6 555.0 802.6 556.0 808.0 557.0 807.5 558.0 810.7 559.0 811.1 560.0 806.7 561.0 810.3 562.0 809.8 563.0 807.1 564.0 806.9 565.0 804.3 566.0 818.8 567.0 815.8 568.0 812.3 569.0 804.0 570.0 803.5 571.0 815.7 572.0 807.5 573.0 811.3 574.0 804.5 575.0 810.0 576.0 814.4 577.0 805.2 578.0 811.5 579.0 804.7 580.0 809.3 581.0 809.8 582.0 815.3 583.0 806.1 584.0 808.2 585.0 811.4 586.0 802.2 587.0 805.0 588.0 800.8 589.0 799.9 590.0 804.0 591.0 803.1 592.0 809.0 593.0 803.3 594.0 800.7 595.0 793.0 596.0 790.0 597.0 789.8 598.0 778.4 599.0 791.3 600.0 781.6 601.0 777.5 602.0 780.9 603.0 781.8 604.0 782.2 605.0 774.5 606.0 775.8 607.0 772.9 608.0 767.7 609.0 770.8 610.0 769.5 611.0 762.1 612.0 770.9 613.0 760.1 614.0 764.5 615.0 759.7 616.0 759.1 617.0 758.5 618.0 763.2 619.0 754.9 620.0 757.4 621.0 763.6 622.0 754.4 623.0 755.2 624.0 757.1 625.0 751.4 626.0 754.1 627.0 749.0 628.0 752.9 629.0 749.8 630.0 744.6 631.0 752.5 632.0 746.3 633.0 743.9 634.0 740.1 635.0 740.5 636.0 741.0 637.0 741.1 638.0 743.7 639.0 733.2 640.0 734.9 641.0 740.0 642.0 735.3 643.0 734.5 644.0 737.9 645.0 732.0 646.0 730.6 647.0 727.1 648.0 732.6 649.0 728.9 650.0 720.1 651.0 722.8 652.0 714.9 653.0 721.6 654.0 719.2 655.0 714.2 656.0 711.3 657.0 704.0 658.0 712.0 659.0 707.8 660.0 705.2 661.0 707.6 662.0 700.9 663.0 699.1 664.0 697.1 665.0 692.8 666.0 706.0 667.0 695.6 668.0 692.6 669.0 696.0 670.0 678.9 671.0 688.3 672.0 688.2 673.0 683.1 674.0 687.1 675.0 676.5 676.0 682.4 677.0 685.3 678.0 672.1 679.0 672.8 680.0 676.9 681.0 676.8 682.0 673.2 683.0 675.8 684.0 674.6 685.0 667.1 686.0 670.3 687.0 665.0 688.0 660.3 689.0 657.5 690.0 669.9 691.0 665.6 692.0 672.5 693.0 658.6 694.0 660.7 695.0 662.7 696.0 660.1 697.0 661.4 698.0 659.2 699.0 655.0 700.0 655.2 701.0 650.5 702.0 660.5 703.0 656.7 704.0 657.8 705.0 649.1 706.0 648.8 707.0 645.0 708.0 648.6 709.0 646.6 710.0 646.8 711.0 650.9 712.0 639.8 713.0 643.8 714.0 634.5 715.0 642.3 716.0 635.8 717.0 635.3 718.0 643.6 719.0 639.6 720.0 632.1 721.0 628.3 722.0 623.9 723.0 628.0 724.0 622.6 725.0 618.1 726.0 622.8 727.0 624.4 728.0 617.8 729.0 621.5 730.0 625.0 731.0 611.2 732.0 620.0 733.0 622.8 734.0 611.1 735.0 613.6 736.0 604.8 737.0 609.7 738.0 606.5 739.0 607.7 740.0 602.0 741.0 600.8 742.0 601.3 743.0 599.4 744.0 598.8 745.0 599.6 746.0 595.3 747.0 598.0 748.0 600.1 749.0 588.6 750.0 596.8 751.0 593.3 752.0 590.9 753.0 589.2 754.0 590.4 755.0 590.4 756.0 594.2 757.0 587.6 758.0 595.6 759.0 588.5 760.0 593.2 761.0 594.7 762.0 585.1 763.0 592.7 764.0 597.3 765.0 586.7 766.0 589.1 767.0 585.8 768.0 585.6 769.0 583.7 770.0 581.5 771.0 585.3 772.0 585.4 773.0 580.9 774.0 585.4 775.0 583.1 776.0 580.1 777.0 572.6 778.0 580.2 779.0 576.2 780.0 559.1 781.0 558.4 782.0 557.6 783.0 559.8 784.0 557.9 785.0 548.4 786.0 559.4 787.0 545.3 788.0 535.0 789.0 539.5 790.0 534.9 791.0 535.3 792.0 533.3 793.0 527.5 794.0 526.6 795.0 529.6 796.0 529.3 797.0 526.7 798.0 530.7 799.0 524.6 800.0 519.7 801.0 521.8 802.0 521.9 803.0 521.3 804.0 525.6 805.0 522.8 806.0 524.0 807.0 521.9 808.0 518.0 809.0 521.9 810.0 516.7 811.0 517.8 812.0 512.6 813.0 516.2 814.0 514.6 815.0 517.1 816.0 533.8 817.0 525.8 818.0 520.7 819.0 516.2 820.0 519.3 821.0 517.5 822.0 514.3 823.0 516.6 824.0 516.5 825.0 515.5 826.0 523.8 827.0 517.5 828.0 517.6 829.0 523.0 830.0 518.6 831.0 516.9 832.0 518.6 833.0 524.6 834.0 525.4 835.0 525.8 836.0 523.4 837.0 521.9 838.0 529.6 839.0 521.5 840.0 526.1 841.0 522.5 842.0 526.2 843.0 527.9 844.0 533.9 845.0 518.4 846.0 533.9 847.0 526.8 848.0 530.9 849.0 533.6 850.0 527.8 851.0 530.1 852.0 532.8 853.0 530.8 854.0 528.3 855.0 531.9 856.0 532.1 857.0 525.9 858.0 536.8 859.0 533.5 860.0 522.8 861.0 528.2 862.0 539.0 863.0 539.7 864.0 534.7 865.0 526.5 866.0 531.6 867.0 537.4 868.0 535.5 869.0 532.5 870.0 530.8 871.0 529.3 872.0 533.6 873.0 535.6 874.0 536.6 875.0 541.5 876.0 536.4 877.0 536.3 878.0 528.4 879.0 539.4 880.0 539.8 881.0 536.5 882.0 527.4 883.0 533.5 884.0 536.9 885.0 550.2 886.0 540.7 887.0 541.3 888.0 541.8 889.0 544.2 890.0 534.9 891.0 535.4 892.0 534.5 893.0 538.3 894.0 538.8 895.0 541.0 896.0 537.1 897.0 541.6 898.0 538.7 899.0 550.7 900.0 541.8 901.0 553.8 902.0 552.0 903.0 541.3 904.0 549.6 905.0 549.9 906.0 542.4 907.0 551.1 908.0 550.2 909.0 552.8 910.0 549.2 911.0 552.9 912.0 556.0 913.0 554.8 914.0 553.6 915.0 556.0 916.0 553.6 917.0 559.2 918.0 548.8 919.0 564.5 920.0 560.8 921.0 562.6 922.0 564.8 923.0 557.1 924.0 575.8 925.0 560.9 926.0 564.7 927.0 565.2 928.0 569.6 929.0 565.2 930.0 559.6 931.0 566.4 932.0 556.4 933.0 564.8 934.0 565.1 935.0 573.7 936.0 567.6 937.0 566.9 938.0 566.1 939.0 566.1 940.0 567.9 941.0 568.8 942.0 566.7 943.0 571.1 944.0 567.2 945.0 572.7 946.0 575.3 947.0 570.8 948.0 573.8 949.0 577.7 950.0 581.9 951.0 584.3 952.0 581.8 953.0 570.5 954.0 578.5 955.0 589.6 956.0 595.0 957.0 593.1 958.0 599.5 959.0 593.7 960.0 595.0 961.0 604.5 962.0 596.6 963.0 603.5 964.0 604.4 965.0 604.5 966.0 611.6 967.0 602.6 968.0 604.2 969.0 598.4 970.0 602.6 971.0 605.7 972.0 607.1 973.0 608.5 974.0 611.1 975.0 612.5 976.0 602.9 977.0 611.3 978.0 613.6 979.0 595.8 980.0 609.3 981.0 620.0 982.0 618.5 983.0 619.0 984.0 617.7 985.0 615.9 986.0 613.5 987.0 618.0 988.0 615.8 989.0 615.1 990.0 617.2 991.0 617.7 992.0 622.2 993.0 615.8 994.0 629.6 995.0 617.6 996.0 619.4 997.0 625.8 998.0 620.1 999.0 621.8 1000.0 625.1 1001.0 615.0 1002.0 625.6 1003.0 626.7 1004.0 631.7 1005.0 637.0 1006.0 635.8 1007.0 644.8 1008.0 646.0 1009.0 644.8 1010.0 640.4 1011.0 644.4 1012.0 636.7 1013.0 639.6 1014.0 646.0 1015.0 644.1 1016.0 620.3 1017.0 637.6 1018.0 643.8 1019.0 643.3 1020.0 645.2 1021.0 634.0 1022.0 634.9 1023.0 639.1 1024.0 636.6 1025.0 640.2 1026.0 640.7 1027.0 642.1 1028.0 635.4 1029.0 643.1 1030.0 644.2 1031.0 641.9 1032.0 636.2 1033.0 647.6 1034.0 642.5 1035.0 643.2 1036.0 642.4 1037.0 635.4 1038.0 643.7 1039.0 639.9 1040.0 637.5 1041.0 647.7 1042.0 642.7 1043.0 645.0 1044.0 648.1 1045.0 651.8 1046.0 638.8 1047.0 642.3 1048.0 648.9 1049.0 644.7 1050.0 634.4 1051.0 647.6 1052.0 649.8 1053.0 652.8 1054.0 651.4 1055.0 649.2 1056.0 652.2 1057.0 652.0 1058.0 650.7 1059.0 654.2 1060.0 655.5 1061.0 650.7 1062.0 659.0 1063.0 659.5 1064.0 660.0 1065.0 646.3 1066.0 657.0 1067.0 657.5 1068.0 654.5 1069.0 661.0 1070.0 653.8 1071.0 664.5 1072.0 662.6 1073.0 659.3 1074.0 667.2 1075.0 664.5 1076.0 664.2 1077.0 658.1 1078.0 665.3 1079.0 670.0 1080.0 669.8 1081.0 660.7 1082.0 671.0 1083.0 673.4 1084.0 660.4 1085.0 666.5 1086.0 668.8 1087.0 664.6 1088.0 666.8 1089.0 671.0 1090.0 673.1 1091.0 668.7 1092.0 665.3 1093.0 670.5 1094.0 668.0 1095.0 679.0 1096.0 670.5 1097.0 677.1 1098.0 679.8 1099.0 673.4 1100.0 681.4 1101.0 678.3 1102.0 676.0 1103.0 675.8 1104.0 680.7 1105.0 685.8 1106.0 675.0 1107.0 684.8 1108.0 683.4 1109.0 689.6 1110.0 684.8 1111.0 690.2 1112.0 687.0 1113.0 691.3 1114.0 685.6 1115.0 697.4 1116.0 695.0 1117.0 689.6 1118.0 684.5 1119.0 692.4 1120.0 692.4 1121.0 697.7 1122.0 698.9 1123.0 704.6 1124.0 697.7 1125.0 701.4 1126.0 697.6 1127.0 698.1 1128.0 706.4 1129.0 701.2 1130.0 701.4 1131.0 701.1 1132.0 704.4 1133.0 706.3 1134.0 704.2 1135.0 700.3 1136.0 706.4 1137.0 702.8 1138.0 704.7 1139.0 707.7 1140.0 708.5 1141.0 698.7 1142.0 714.2 1143.0 718.3 1144.0 717.2 1145.0 720.4 1146.0 707.1 1147.0 707.6 1148.0 711.3 1149.0 714.7 1150.0 709.5 1151.0 710.1 1152.0 716.0 1153.0 721.3 1154.0 713.1 1155.0 717.3 1156.0 712.6 1157.0 716.6 1158.0 713.8 1159.0 707.9 1160.0 711.8 1161.0 713.9 1162.0 714.0 1163.0 722.3 1164.0 717.8 1165.0 718.0 1166.0 718.0 1167.0 716.0 1168.0 717.1 1169.0 717.0 1170.0 716.7 1171.0 725.1 1172.0 713.5 1173.0 721.6 1174.0 715.7 1175.0 720.1 1176.0 726.9 1177.0 711.3 1178.0 731.3 1179.0 723.4 1180.0 726.0 1181.0 725.6 1182.0 728.9 1183.0 728.5 1184.0 728.7 1185.0 731.0 1186.0 735.7 1187.0 732.6 1188.0 732.2 1189.0 731.0 1190.0 729.4 1191.0 726.4 1192.0 727.9 1193.0 732.5 1194.0 725.4 1195.0 735.1 1196.0 731.3 1197.0 729.7 1198.0 731.2 1199.0 736.3 1200.0 735.9 1201.0 735.6 1202.0 741.9 1203.0 739.1 1204.0 731.3 1205.0 738.9 1206.0 733.4 1207.0 730.8 1208.0 734.3 1209.0 741.2 1210.0 737.0 1211.0 736.4 1212.0 744.3 1213.0 741.9 1214.0 739.8 1215.0 747.6 1216.0 743.5 1217.0 738.7 1218.0 737.2 1219.0 740.2 1220.0 743.3 1221.0 747.2 1222.0 747.6 1223.0 745.2 1224.0 740.3 1225.0 748.6 1226.0 746.6 1227.0 742.9 1228.0 741.5 1229.0 747.6 1230.0 736.5 1231.0 752.7 1232.0 744.1 1233.0 755.0 1234.0 743.0 1235.0 749.2 1236.0 755.8 1237.0 755.6 1238.0 748.0 1239.0 753.9 1240.0 757.3 1241.0 756.1 1242.0 749.5 1243.0 759.8 1244.0 748.0 1245.0 753.9 1246.0 750.4 1247.0 753.1 1248.0 754.1 1249.0 757.9 1250.0 751.6 1251.0 757.3 1252.0 762.6 1253.0 758.7 1254.0 760.6 1255.0 760.7 1256.0 756.4 1257.0 757.9 1258.0 760.1 1259.0 762.4 1260.0 769.3 1261.0 768.8 1262.0 760.7 1263.0 760.4 1264.0 763.4 1265.0 753.4 1266.0 767.9 1267.0 766.6 1268.0 756.9 1269.0 764.2 1270.0 774.7 1271.0 768.6 1272.0 768.5 1273.0 767.6 1274.0 764.0 1275.0 762.4 1276.0 764.0 1277.0 768.4 1278.0 767.7 1279.0 771.8 1280.0 776.8 1281.0 773.0 1282.0 773.9 1283.0 769.6 1284.0 765.7 1285.0 779.6 1286.0 775.5 1287.0 777.2 1288.0 771.4 1289.0 765.8 1290.0 777.7 1291.0 765.2 1292.0 772.3 1293.0 771.8 1294.0 775.1 1295.0 778.0 1296.0 778.6 1297.0 767.2 1298.0 778.8 1299.0 768.5 1300.0 778.1 1301.0 774.8 1302.0 771.9 1303.0 774.3 1304.0 771.6 1305.0 776.9 1306.0 781.5 1307.0 781.6 1308.0 778.8 1309.0 783.0 1310.0 781.2 1311.0 787.9 1312.0 782.2 1313.0 777.3 1314.0 778.3 1315.0 776.7 1316.0 778.6 1317.0 779.6 1318.0 783.3 1319.0 784.2 1320.0 781.6 1321.0 783.0 1322.0 778.7 1323.0 779.2 1324.0 771.7 1325.0 778.0 1326.0 779.9 1327.0 792.7 1328.0 771.3 1329.0 782.8 1330.0 781.9 1331.0 776.9 1332.0 784.1 1333.0 784.0 1334.0 776.8 1335.0 774.3 1336.0 783.4 1337.0 778.9 1338.0 787.2 1339.0 784.4 1340.0 787.6 1341.0 784.8 1342.0 792.2 1343.0 789.8 1344.0 793.1 1345.0 788.0 1346.0 783.1 1347.0 781.3 1348.0 785.1 1349.0 788.9 1350.0 785.8 1351.0 798.3 1352.0 789.6 1353.0 791.1 1354.0 790.0 1355.0 784.8 1356.0 793.9 1357.0 793.5 1358.0 794.6 1359.0 787.8 1360.0 791.2 1361.0 775.5 1362.0 797.0 1363.0 787.4 1364.0 795.2 1365.0 798.7 1366.0 792.6 1367.0 790.7 1368.0 799.6 1369.0 796.5 1370.0 800.1 1371.0 799.3 1372.0 800.9 1373.0 796.4 1374.0 788.5 1375.0 799.3 1376.0 795.8 1377.0 801.3 1378.0 797.9 1379.0 807.1 1380.0 801.1 1381.0 805.7 1382.0 808.1 1383.0 804.4 1384.0 806.5 1385.0 806.2 1386.0 803.3 1387.0 813.7 1388.0 805.8 1389.0 803.2 1390.0 808.1 1391.0 811.9 1392.0 812.8 1393.0 811.9 1394.0 812.0 1395.0 805.7 1396.0 816.9 1397.0 823.0 1398.0 814.0 1399.0 809.0 1400.0 819.1 1401.0 816.6 1402.0 801.0 1403.0 812.8 1404.0 811.3 1405.0 811.8 1406.0 825.7 1407.0 823.1 1408.0 818.5 1409.0 808.7 1410.0 825.3 1411.0 815.2 1412.0 821.8 1413.0 817.0 1414.0 822.7 1415.0 820.9 1416.0 817.4 1417.0 824.0 1418.0 822.7 1419.0 828.0 1420.0 819.4 1421.0 820.9 1422.0 817.7 1423.0 825.4 1424.0 818.1 1425.0 820.5 1426.0 826.3 1427.0 823.7 1428.0 822.6 1429.0 812.1 1430.0 827.0 1431.0 824.2 1432.0 820.5 1433.0 813.3 1434.0 826.3 1435.0 811.7 1436.0 828.9 1437.0 823.7 1438.0 832.3 1439.0 828.1 1440.0 824.4 1441.0 826.1 1442.0 816.8 1443.0 822.4 1444.0 820.8 1445.0 822.3 1446.0 814.0 1447.0 812.6 1448.0 824.5 1449.0 823.0 1450.0 820.9 1451.0 822.1 1452.0 820.0 1453.0 820.6 1454.0 825.5 1455.0 822.3 1456.0 825.9 1457.0 820.5 1458.0 815.5 1459.0 833.3 1460.0 822.4 1461.0 823.6 1462.0 821.5 1463.0 821.3 1464.0 827.3 1465.0 827.7 1466.0 828.9 1467.0 821.4 1468.0 825.3 1469.0 829.7 1470.0 825.7 1471.0 824.4 1472.0 821.5 1473.0 827.9 1474.0 826.0 1475.0 829.3 1476.0 825.1 1477.0 833.9 1478.0 826.3 1479.0 820.8 1480.0 826.3 1481.0 828.2 1482.0 831.9 1483.0 825.2 1484.0 824.5 1485.0 825.8 1486.0 825.7 1487.0 818.8 1488.0 830.2 1489.0 833.8 1490.0 826.2 1491.0 824.9 1492.0 828.6 1493.0 826.6 1494.0 833.4 1495.0 828.6 1496.0 833.7 1497.0 827.0 1498.0 826.0 1499.0 825.8 1500.0 826.7 1501.0 834.9 1502.0 837.9 1503.0 848.2 1504.0 836.3 1505.0 826.8 1506.0 840.0 1507.0 832.1 1508.0 850.8 1509.0 848.3 1510.0 839.7 1511.0 841.5 1512.0 842.2 1513.0 834.7 1514.0 835.2 1515.0 837.5 1516.0 841.6 1517.0 845.2 1518.0 843.0 1519.0 847.3 1520.0 841.5 1521.0 837.3 1522.0 843.5 1523.0 844.1 1524.0 838.9 1525.0 848.7 1526.0 841.9 1527.0 842.4 1528.0 846.6 1529.0 842.0 1530.0 848.7 1531.0 848.7 1532.0 849.2 1533.0 847.5 1534.0 858.4 1535.0 844.4 1536.0 848.7 1537.0 853.6 1538.0 851.8 1539.0 849.9 1540.0 852.4 1541.0 854.0 1542.0 843.5 1543.0 847.5 1544.0 853.0 1545.0 845.9 1546.0 845.9 1547.0 850.3 1548.0 847.3 1549.0 852.9 1550.0 847.2 1551.0 850.3 1552.0 858.4 1553.0 853.6 1554.0 842.8 1555.0 843.0 1556.0 845.8 1557.0 846.9 1558.0 841.7 1559.0 849.2 1560.0 854.6 1561.0 854.4 1562.0 844.9 1563.0 845.8 1564.0 845.7 1565.0 843.5 1566.0 853.5 1567.0 844.7 1568.0 842.0 1569.0 847.7 1570.0 848.1 1571.0 852.9 1572.0 853.4 1573.0 846.3 1574.0 837.7 1575.0 848.1 1576.0 849.6 1577.0 853.7 1578.0 840.3 1579.0 841.1 1580.0 851.6 1581.0 853.0 1582.0 848.9 1583.0 846.1 1584.0 850.8 1585.0 843.7 1586.0 840.1 1587.0 844.6 1588.0 845.6 1589.0 848.5 1590.0 850.0 1591.0 838.4 1592.0 845.6 1593.0 847.1 1594.0 840.0 1595.0 843.4 1596.0 845.0 1597.0 846.7 1598.0 841.6 1599.0 842.1 1600.0 840.1 1601.0 845.8 1602.0 843.6 1603.0 842.5 1604.0 847.4 1605.0 844.7 1606.0 840.4 1607.0 849.6 1608.0 850.1 1609.0 848.2 1610.0 833.4 1611.0 850.5 1612.0 844.6 1613.0 839.1 1614.0 845.9 1615.0 854.7 1616.0 846.7 1617.0 850.4 1618.0 854.3 1619.0 850.2 1620.0 848.1 1621.0 849.5 1622.0 852.3 1623.0 848.5 1624.0 851.9 1625.0 853.4 1626.0 850.2 1627.0 854.6 1628.0 854.7 1629.0 851.5 1630.0 852.1 1631.0 858.6 1632.0 853.1 1633.0 853.1 1634.0 850.2 1635.0 853.6 1636.0 858.0 1637.0 858.2 1638.0 852.6 1639.0 857.9 1640.0 858.9 1641.0 853.0 1642.0 858.5 1643.0 860.6 1644.0 855.6 1645.0 858.1 1646.0 856.7 1647.0 848.6 1648.0 857.7 1649.0 853.3 1650.0 857.0 1651.0 860.5 1652.0 857.2 1653.0 856.1 1654.0 858.3 1655.0 860.0 1656.0 854.9 1657.0 855.3 1658.0 859.8 1659.0 864.7 1660.0 858.9 1661.0 861.8 1662.0 855.7 1663.0 858.1 1664.0 858.4 1665.0 853.3 1666.0 857.8 1667.0 857.6 1668.0 848.2 1669.0 857.1 1670.0 859.5 1671.0 859.6 1672.0 859.9 1673.0 854.3 1674.0 855.2 1675.0 857.5 1676.0 855.0 1677.0 856.4 1678.0 863.3 1679.0 855.6 1680.0 857.0 1681.0 865.8 1682.0 858.9 1683.0 854.8 1684.0 859.5 1685.0 859.6 1686.0 859.5 1687.0 852.4 1688.0 859.5 1689.0 860.6 1690.0 867.4 1691.0 862.7 1692.0 857.8 1693.0 860.4 1694.0 862.0 1695.0 859.0 1696.0 859.2 1697.0 864.8 1698.0 861.9 1699.0 861.8 1700.0 856.0 1701.0 860.9 1702.0 852.3 1703.0 863.8 1704.0 858.3 1705.0 862.1 1706.0 871.1 1707.0 856.1 1708.0 864.1 1709.0 861.2 1710.0 864.6 1711.0 859.0 1712.0 857.2 1713.0 864.8 1714.0 858.3 1715.0 860.5 1716.0 855.6 1717.0 864.9 1718.0 859.3 1719.0 859.2 1720.0 857.3 1721.0 859.9 1722.0 862.5 1723.0 860.2 1724.0 859.8 1725.0 858.0 1726.0 865.8 1727.0 867.1 1728.0 859.7 1729.0 856.7 1730.0 860.9 1731.0 853.9 1732.0 860.5 1733.0 861.3 1734.0 860.9 1735.0 866.5 1736.0 868.0 1737.0 865.5 1738.0 859.1 1739.0 864.1 1740.0 865.1 1741.0 856.0 1742.0 856.9 1743.0 858.9 1744.0 853.6 1745.0 855.2 1746.0 866.1 1747.0 855.9 1748.0 863.1 1749.0 857.4 1750.0 863.8 1751.0 861.9 1752.0 863.9 1753.0 855.2 1754.0 860.9 1755.0 858.1 1756.0 863.0 1757.0 863.3 1758.0 861.2 1759.0 868.7 1760.0 871.3 1761.0 861.2 1762.0 858.3 1763.0 858.3 1764.0 857.5 1765.0 855.8 1766.0 863.9 1767.0 855.4 1768.0 864.8 1769.0 863.4 1770.0 853.9 1771.0 852.4 1772.0 859.5 1773.0 856.0 1774.0 860.3 1775.0 863.9 1776.0 862.0 1777.0 859.5 1778.0 859.4 1779.0 865.9 1780.0 859.4 1781.0 866.9 1782.0 868.9 1783.0 859.7 1784.0 861.4 1785.0 867.1 1786.0 859.3 1787.0 861.8 1788.0 864.6 1789.0 856.7 1790.0 861.4 1791.0 861.0 1792.0 858.4 1793.0 866.2 1794.0 860.4 1795.0 869.3 1796.0 864.1 1797.0 858.0 1798.0 861.2 1799.0 857.5 1800.0 863.3 1801.0 863.3 1802.0 856.1 1803.0 858.4 1804.0 862.1 1805.0 860.8 1806.0 856.6 1807.0 864.3 1808.0 866.1 1809.0 855.2 1810.0 865.6 1811.0 852.9 1812.0 859.1 1813.0 857.6 1814.0 857.9 1815.0 860.8 1816.0 855.8 1817.0 859.5 1818.0 866.8 1819.0 862.7 1820.0 866.3 1821.0 864.3 1822.0 854.4 1823.0 866.6 1824.0 864.3 1825.0 863.3 1826.0 859.1 1827.0 858.2 1828.0 856.0 1829.0 859.3 1830.0 860.6 1831.0 859.7 1832.0 859.7 1833.0 852.7 1834.0 856.6 1835.0 856.8 1836.0 861.1 1837.0 852.3 1838.0 858.3 1839.0 860.4 1840.0 858.4 1841.0 859.0 1842.0 864.4 1843.0 860.0 1844.0 856.7 1845.0 862.2 1846.0 863.5 1847.0 863.0 1848.0 855.4 1849.0 863.4 1850.0 860.7 1851.0 860.8 1852.0 860.6 1853.0 862.1 1854.0 862.3 1855.0 879.0 1856.0 861.8 1857.0 860.1 1858.0 862.7 1859.0 860.1 1860.0 864.5 1861.0 861.3 1862.0 863.3 1863.0 858.6 1864.0 863.9 1865.0 863.1 1866.0 857.3 1867.0 858.5 1868.0 860.4 1869.0 855.2 1870.0 855.6 1871.0 861.7 1872.0 862.4 1873.0 865.7 1874.0 855.9 1875.0 858.4 1876.0 852.3 1877.0 866.2 1878.0 855.8 1879.0 858.8 1880.0 878.5 1881.0 866.5 1882.0 853.7 1883.0 868.6 1884.0 862.8 1885.0 856.5 1886.0 860.8 1887.0 862.7 1888.0 862.9 1889.0 863.9 1890.0 866.5 1891.0 854.6 1892.0 858.8 1893.0 865.5 1894.0 862.2 1895.0 860.2 1896.0 857.8 1897.0 862.1 1898.0 865.7 1899.0 858.6 1900.0 861.6 1901.0 858.9 1902.0 858.4 1903.0 852.0 1904.0 860.3 1905.0 863.8 1906.0 860.0 1907.0 864.2 1908.0 861.3 1909.0 865.1 1910.0 861.3 1911.0 859.0 1912.0 858.2 1913.0 860.4 1914.0 861.4 1915.0 857.4 1916.0 859.4 1917.0 855.1 1918.0 854.6 1919.0 862.2 1920.0 861.9 1921.0 863.9 1922.0 866.9 1923.0 861.4 1924.0 867.5 1925.0 857.8 1926.0 861.2 1927.0 860.8 1928.0 868.7 1929.0 863.3 1930.0 860.2 1931.0 856.3 1932.0 859.3 1933.0 860.8 1934.0 860.4 1935.0 862.2 1936.0 862.7 1937.0 858.7 1938.0 856.7 1939.0 858.8 1940.0 861.8 1941.0 866.7 1942.0 854.7 1943.0 863.8 1944.0 859.5 1945.0 867.0 1946.0 867.8 1947.0 862.9 1948.0 856.1 1949.0 850.1 1950.0 861.4 1951.0 859.1 1952.0 859.8 1953.0 857.2 1954.0 859.0 1955.0 857.7 1956.0 861.9 1957.0 861.7 1958.0 861.6 1959.0 854.3 1960.0 857.9 1961.0 857.1 1962.0 858.2 1963.0 856.6 1964.0 857.1 1965.0 865.9 1966.0 859.7 1967.0 855.3 1968.0 858.6 1969.0 868.6 1970.0 863.7 1971.0 857.0 1972.0 858.9 1973.0 859.7 1974.0 860.2 1975.0 853.1 1976.0 855.8 1977.0 859.1 1978.0 853.5 1979.0 859.8 1980.0 860.3 1981.0 863.1 1982.0 864.5 1983.0 859.9 1984.0 861.0 1985.0 862.8 1986.0 864.2 1987.0 871.1 1988.0 847.4 1989.0 862.1 1990.0 863.6 1991.0 861.0 1992.0 839.8 1993.0 866.4 1994.0 865.8 1995.0 857.3 1996.0 855.7 1997.0 861.0 1998.0 863.8 1999.0 858.6 2000.0 866.9 2001.0 858.6 2002.0 861.0 2003.0 859.8 2004.0 864.6 2005.0 858.3 2006.0 866.2 2007.0 860.1" stroke="#ff00ff"/><path d="M300.0 848.4 301.0 842.0 302.0 844.6 303.0 846.6 304.0 848.6 305.0 843.8 306.0 839.8 307.0 837.5 308.0 842.5 309.0 845.7 310.0 857.5 311.0 832.4 312.0 812.5 313.0 841.4 314.0 836.1 315.0 827.2 316.0 832.3 317.0 827.9 318.0 829.0 319.0 829.0 320.0 827.5 321.0 831.8 322.0 829.2 323.0 826.3 324.0 829.4 325.0 830.9 326.0 820.7 327.0 818.2 328.0 822.0 329.0 824.6 330.0 820.2 331.0 824.9 332.0 825.1 333.0 824.1 334.0 821.0 335.0 823.3 336.0 820.8 337.0 819.5 338.0 825.6 339.0 808.9 340.0 829.4 341.0 828.2 342.0 816.8 343.0 824.1 344.0 818.7 345.0 821.9 346.0 821.4 347.0 812.3 348.0 818.4 349.0 816.7 350.0 820.4 351.0 811.1 352.0 828.2 353.0 820.3 354.0 810.3 355.0 807.3 356.0 815.1 357.0 811.1 358.0 816.9 359.0 809.1 360.0 818.6 361.0 806.3 362.0 799.1 363.0 799.1 364.0 803.4 365.0 795.5 366.0 795.8 367.0 793.7 368.0 794.7 369.0 789.8 370.0 789.0 371.0 789.3 372.0 787.7 373.0 782.5 374.0 787.9 375.0 778.6 376.0 777.0 377.0 775.4 378.0 783.1 379.0 777.6 380.0 773.5 381.0 771.5 382.0 776.4 383.0 770.1 384.0 767.6 385.0 773.9 386.0 766.4 387.0 768.1 388.0 768.7 389.0 766.1 390.0 766.5 391.0 771.2 392.0 763.4 393.0 758.8 394.0 757.1 395.0 760.4 396.0 759.4 397.0 760.9 398.0 757.2 399.0 755.9 400.0 754.0 401.0 753.8 402.0 755.6 403.0 752.8 404.0 753.7 405.0 760.1 406.0 754.2 407.0 744.6 408.0 755.9 409.0 750.6 410.0 744.0 411.0 749.7 412.0 745.6 413.0 741.6 414.0 735.6 415.0 736.9 416.0 739.3 417.0 742.0 418.0 735.0 419.0 735.6 420.0 748.9 421.0 726.0 422.0 728.7 423.0 725.0 424.0 719.9 425.0 717.8 426.0 719.9 427.0 720.4 428.0 715.1 429.0 715.5 430.0 716.9 431.0 714.1 432.0 714.9 433.0 712.1 434.0 710.7 435.0 714.6 436.0 708.9 437.0 705.0 438.0 700.7 439.0 697.4 440.0 697.2 441.0 699.8 442.0 697.5 443.0 698.8 444.0 690.7 445.0 681.7 446.0 685.9 447.0 688.0 448.0 666.0 449.0 681.8 450.0 674.5 451.0 663.8 452.0 664.2 453.0 662.7 454.0 668.0 455.0 656.1 456.0 653.9 457.0 650.3 458.0 646.2 459.0 640.2 460.0 640.7 461.0 633.2 462.0 635.3 463.0 625.0 464.0 619.7 465.0 620.8 466.0 614.3 467.0 610.8 468.0 603.2 469.0 614.1 470.0 608.4 471.0 597.7 472.0 601.7 473.0 601.5 474.0 584.4 475.0 587.8 476.0 586.6 477.0 588.5 478.0 583.6 479.0 580.6 480.0 578.9 481.0 584.4 482.0 584.1 483.0 571.3 484.0 566.4 485.0 578.2 486.0 562.6 487.0 560.4 488.0 560.4 489.0 559.9 490.0 559.8 491.0 555.0 492.0 547.2 493.0 549.6 494.0 546.6 495.0 550.5 496.0 541.0 497.0 532.5 498.0 530.5 499.0 537.9 500.0 528.4 501.0 518.9 502.0 521.7 503.0 521.9 504.0 524.3 505.0 513.4 506.0 516.7 507.0 515.1 508.0 506.6 509.0 505.4 510.0 510.6 511.0 508.5 512.0 502.4 513.0 497.2 514.0 498.4 515.0 489.8 516.0 486.7 517.0 480.7 518.0 481.0 519.0 478.1 520.0 486.6 521.0 473.0 522.0 474.9 523.0 472.7 524.0 463.9 525.0 473.8 526.0 450.3 527.0 455.3 528.0 456.4 529.0 441.1 530.0 442.2 531.0 448.9 532.0 442.1 533.0 435.9 534.0 436.0 535.0 433.1 536.0 435.7 537.0 432.7 538.0 427.3 539.0 422.9 540.0 418.3 541.0 425.7 542.0 419.7 543.0 417.7 544.0 411.7 545.0 403.8 546.0 402.4 547.0 404.5 548.0 399.1 549.0 391.0 550.0 383.7 551.0 386.1 552.0 380.8 553.0 376.5 554.0 372.5 555.0 371.0 556.0 367.5 557.0 366.5 558.0 363.3 559.0 361.9 560.0 357.1 561.0 349.7 562.0 351.7 563.0 347.5 564.0 342.1 565.0 350.8 566.0 343.2 567.0 333.4 568.0 326.4 569.0 335.4 570.0 329.4 571.0 329.2 572.0 318.7 573.0 327.3 574.0 321.6 575.0 314.9 576.0 310.6 577.0 309.2 578.0 305.1 579.0 301.4 580.0 288.8 581.0 300.8 582.0 293.0 583.0 290.3 584.0 287.3 585.0 274.5 586.0 282.1 587.0 276.9 588.0 274.0 589.0 272.9 590.0 266.3 591.0 270.7 592.0 262.9 593.0 259.2 594.0 256.9 595.0 258.8 596.0 259.3 597.0 249.4 598.0 245.8 599.0 253.5 600.0 243.9 601.0 250.0 602.0 243.7 603.0 238.6 604.0 236.4 605.0 238.7 606.0 238.7 607.0 232.6 608.0 234.6 609.0 237.6 610.0 226.9 611.0 220.2 612.0 218.1 613.0 229.5 614.0 215.6 615.0 213.6 616.0 209.2 617.0 214.3 618.0 196.6 619.0 202.3 620.0 213.8 621.0 209.1 622.0 204.7 623.0 202.1 624.0 205.2 625.0 198.8 626.0 194.6 627.0 187.4 628.0 189.8 629.0 186.0 630.0 184.5 631.0 183.2 632.0 185.8 633.0 182.5 634.0 186.1 635.0 176.8 636.0 179.5 637.0 187.1 638.0 179.8 639.0 183.0 640.0 182.4 641.0 182.5 642.0 179.6 643.0 170.2 644.0 173.1 645.0 172.4 646.0 167.0 647.0 170.2 648.0 166.9 649.0 164.3 650.0 171.0 651.0 170.1 652.0 167.0 653.0 165.1 654.0 166.1 655.0 166.4 656.0 165.9 657.0 166.9 658.0 165.2 659.0 168.0 660.0 168.5 661.0 167.7 662.0 163.4 663.0 163.0 664.0 167.0 665.0 164.9 666.0 165.3 667.0 155.6 668.0 154.0 669.0 166.1 670.0 167.6 671.0 172.3 672.0 170.4 673.0 168.7 674.0 157.0 675.0 162.8 676.0 172.0 677.0 167.6 678.0 172.1 679.0 171.9 680.0 172.7 681.0 175.8 682.0 171.2 683.0 171.7 684.0 170.4 685.0 172.8 686.0 174.5 687.0 175.2 688.0 181.4 689.0 181.3 690.0 181.7 691.0 182.8 692.0 176.5 693.0 182.2 694.0 188.4 695.0 180.8 696.0 183.5 697.0 182.1 698.0 186.8 699.0 182.5 700.0 193.7 701.0 187.7 702.0 183.3 703.0 196.9 704.0 195.8 705.0 194.6 706.0 195.3 707.0 192.5 708.0 193.4 709.0 197.9 710.0 199.7 711.0 200.5 712.0 198.3 713.0 196.0 714.0 197.4 715.0 203.3 716.0 205.8 717.0 199.4 718.0 198.8 719.0 206.1 720.0 205.3 721.0 205.6 722.0 198.1 723.0 201.6 724.0 201.8 725.0 205.2 726.0 198.5 727.0 210.1 728.0 207.8 729.0 208.7 730.0 202.8 731.0 207.4 732.0 213.8 733.0 208.3 734.0 210.3 735.0 213.1 736.0 208.4 737.0 214.4 738.0 211.0 739.0 217.3 740.0 215.6 741.0 212.6 742.0 222.2 743.0 218.7 744.0 220.7 745.0 211.3 746.0 212.9 747.0 219.3 748.0 220.5 749.0 217.1 750.0 220.3 751.0 213.5 752.0 218.1 753.0 213.3 754.0 218.8 755.0 216.1 756.0 215.2 757.0 216.9 758.0 228.2 759.0 208.6 760.0 205.9 761.0 209.4 762.0 201.4 763.0 207.7 764.0 201.6 765.0 200.9 766.0 202.9 767.0 210.2 768.0 208.6 769.0 210.2 770.0 211.9 771.0 207.6 772.0 212.7 773.0 225.4 774.0 226.7 775.0 228.0 776.0 230.8 777.0 228.5 778.0 234.2 779.0 232.3 780.0 239.8 781.0 238.5 782.0 242.6 783.0 247.5 784.0 246.4 785.0 251.8 786.0 251.1 787.0 250.6 788.0 254.2 789.0 243.2 790.0 241.3 791.0 249.6 792.0 251.3 793.0 255.4 794.0 250.4 795.0 249.9 796.0 242.6 797.0 248.2 798.0 248.2 799.0 241.2 800.0 241.0 801.0 245.1 802.0 270.7 803.0 240.5 804.0 255.9 805.0 262.8 806.0 266.6 807.0 273.4 808.0 278.8 809.0 276.8 810.0 284.3 811.0 283.7 812.0 282.2 813.0 287.8 814.0 294.5 815.0 284.4 816.0 283.5 817.0 284.2 818.0 299.5 819.0 292.8 820.0 293.6 821.0 291.5 822.0 291.3 823.0 287.6 824.0 296.6 825.0 298.6 826.0 290.6 827.0 294.3 828.0 296.7 829.0 300.7 830.0 303.2 831.0 308.1 832.0 310.7 833.0 311.1 834.0 313.6 835.0 305.3 836.0 308.4 837.0 317.0 838.0 316.1 839.0 316.5 840.0 310.3 841.0 311.8 842.0 323.9 843.0 325.2 844.0 324.4 845.0 325.5 846.0 322.0 847.0 331.5 848.0 336.6 849.0 341.0 850.0 336.5 851.0 336.3 852.0 333.9 853.0 344.1 854.0 348.2 855.0 340.5 856.0 344.4 857.0 345.0 858.0 343.5 859.0 336.7 860.0 345.5 861.0 351.2 862.0 344.6 863.0 347.3 864.0 337.1 865.0 364.9 866.0 356.7 867.0 355.8 868.0 355.4 869.0 354.9 870.0 358.1 871.0 358.5 872.0 359.8 873.0 361.9 874.0 363.8 875.0 370.8 876.0 360.7 877.0 367.7 878.0 366.1 879.0 365.2 880.0 361.6 881.0 374.5 882.0 370.8 883.0 372.9 884.0 379.4 885.0 375.5 886.0 381.1 887.0 382.9 888.0 388.2 889.0 391.3 890.0 385.8 891.0 388.6 892.0 392.7 893.0 395.2 894.0 395.9 895.0 401.8 896.0 396.3 897.0 403.4 898.0 409.6 899.0 403.0 900.0 417.0 901.0 409.0 902.0 414.0 903.0 413.9 904.0 415.6 905.0 416.1 906.0 420.7 907.0 425.4 908.0 425.2 909.0 434.0 910.0 439.5 911.0 429.8 912.0 440.0 913.0 440.0 914.0 441.5 915.0 451.7 916.0 448.8 917.0 446.1 918.0 446.3 919.0 437.9 920.0 449.7 921.0 445.7 922.0 449.8 923.0 450.7 924.0 455.0 925.0 448.3 926.0 457.4 927.0 459.0 928.0 453.8 929.0 456.7 930.0 480.2 931.0 434.3 932.0 464.6 933.0 455.6 934.0 453.1 935.0 465.1 936.0 468.8 937.0 458.6 938.0 458.7 939.0 474.2 940.0 464.6 941.0 456.0 942.0 461.4 943.0 473.2 944.0 469.9 945.0 470.9 946.0 473.9 947.0 473.0 948.0 470.0 949.0 465.9 950.0 474.9 951.0 470.9 952.0 477.4 953.0 485.6 954.0 483.3 955.0 482.9 956.0 484.7 957.0 489.4 958.0 492.6 959.0 485.9 960.0 493.3 961.0 502.1 962.0 501.3 963.0 497.2 964.0 499.3 965.0 496.1 966.0 502.9 967.0 515.3 968.0 512.0 969.0 510.6 970.0 513.6 971.0 517.8 972.0 520.2 973.0 521.5 974.0 521.8 975.0 529.3 976.0 535.4 977.0 529.3 978.0 530.4 979.0 539.0 980.0 530.7 981.0 531.4 982.0 543.8 983.0 540.8 984.0 540.7 985.0 539.4 986.0 545.3 987.0 541.2 988.0 539.8 989.0 539.8 990.0 552.1 991.0 544.7 992.0 553.8 993.0 556.9 994.0 558.9 995.0 556.4 996.0 555.8 997.0 559.4 998.0 558.1 999.0 556.3 1000.0 567.3 1001.0 560.8 1002.0 571.8 1003.0 568.7 1004.0 565.4 1005.0 569.4 1006.0 573.7 1007.0 564.5 1008.0 566.0 1009.0 566.2 1010.0 567.4 1011.0 573.5 1012.0 572.5 1013.0 569.7 1014.0 570.4 1015.0 577.4 1016.0 577.9 1017.0 574.0 1018.0 567.8 1019.0 574.8 1020.0 574.1 1021.0 573.7 1022.0 579.4 1023.0 576.2 1024.0 568.5 1025.0 567.6 1026.0 576.6 1027.0 572.6 1028.0 574.7 1029.0 570.7 1030.0 566.6 1031.0 571.0 1032.0 576.3 1033.0 571.7 1034.0 565.2 1035.0 567.5 1036.0 566.7 1037.0 569.1 1038.0 572.5 1039.0 576.3 1040.0 569.6 1041.0 566.1 1042.0 567.6 1043.0 582.7 1044.0 565.3 1045.0 576.2 1046.0 566.7 1047.0 561.9 1048.0 568.2 1049.0 565.2 1050.0 562.4 1051.0 568.2 1052.0 565.6 1053.0 575.3 1054.0 572.7 1055.0 577.1 1056.0 571.0 1057.0 578.7 1058.0 581.8 1059.0 578.7 1060.0 586.4 1061.0 578.1 1062.0 588.5 1063.0 594.1 1064.0 594.5 1065.0 594.8 1066.0 600.2 1067.0 603.2 1068.0 598.0 1069.0 599.1 1070.0 604.7 1071.0 602.8 1072.0 600.7 1073.0 603.1 1074.0 604.4 1075.0 598.3 1076.0 591.9 1077.0 598.8 1078.0 598.1 1079.0 602.1 1080.0 600.3 1081.0 601.9 1082.0 607.6 1083.0 607.2 1084.0 607.0 1085.0 614.0 1086.0 606.7 1087.0 606.6 1088.0 613.6 1089.0 605.2 1090.0 602.7 1091.0 614.6 1092.0 612.5 1093.0 613.8 1094.0 614.6 1095.0 616.3 1096.0 611.7 1097.0 613.5 1098.0 610.2 1099.0 615.7 1100.0 630.7 1101.0 615.8 1102.0 621.2 1103.0 632.4 1104.0 619.1 1105.0 627.8 1106.0 639.1 1107.0 634.9 1108.0 630.5 1109.0 640.7 1110.0 642.4 1111.0 642.2 1112.0 644.0 1113.0 649.1 1114.0 654.7 1115.0 657.2 1116.0 665.0 1117.0 656.8 1118.0 661.1 1119.0 658.3 1120.0 663.8 1121.0 662.7 1122.0 660.6 1123.0 658.3 1124.0 661.1 1125.0 666.1 1126.0 672.2 1127.0 670.8 1128.0 663.4 1129.0 666.2 1130.0 669.1 1131.0 669.3 1132.0 670.6 1133.0 674.1 1134.0 672.6 1135.0 669.4 1136.0 664.6 1137.0 671.2 1138.0 666.7 1139.0 672.8 1140.0 675.7 1141.0 669.9 1142.0 674.5 1143.0 674.6 1144.0 684.0 1145.0 679.6 1146.0 670.4 1147.0 679.2 1148.0 680.5 1149.0 678.7 1150.0 678.4 1151.0 682.8 1152.0 688.3 1153.0 684.0 1154.0 679.0 1155.0 682.1 1156.0 678.0 1157.0 678.6 1158.0 683.2 1159.0 682.5 1160.0 685.8 1161.0 698.5 1162.0 692.7 1163.0 687.4 1164.0 682.7 1165.0 688.3 1166.0 687.3 1167.0 685.0 1168.0 697.3 1169.0 694.5 1170.0 698.7 1171.0 710.4 1172.0 701.1 1173.0 700.3 1174.0 701.8 1175.0 700.2 1176.0 698.4 1177.0 701.3 1178.0 707.5 1179.0 702.9 1180.0 698.5 1181.0 699.0 1182.0 700.2 1183.0 704.7 1184.0 707.2 1185.0 707.6 1186.0 710.5 1187.0 705.2 1188.0 708.8 1189.0 707.1 1190.0 708.4 1191.0 698.3 1192.0 709.6 1193.0 699.5 1194.0 700.1 1195.0 707.6 1196.0 703.6 1197.0 711.7 1198.0 706.1 1199.0 700.7 1200.0 704.8 1201.0 703.0 1202.0 710.5 1203.0 711.6 1204.0 708.3 1205.0 703.8 1206.0 705.8 1207.0 710.6 1208.0 704.5 1209.0 704.9 1210.0 712.5 1211.0 713.8 1212.0 711.2 1213.0 711.9 1214.0 706.3 1215.0 719.2 1216.0 716.3 1217.0 711.6 1218.0 713.0 1219.0 714.5 1220.0 725.3 1221.0 722.6 1222.0 714.4 1223.0 726.5 1224.0 725.8 1225.0 716.3 1226.0 709.1 1227.0 722.9 1228.0 718.1 1229.0 719.6 1230.0 718.3 1231.0 725.4 1232.0 727.1 1233.0 724.7 1234.0 720.8 1235.0 722.2 1236.0 723.9 1237.0 715.6 1238.0 726.2 1239.0 721.4 1240.0 723.7 1241.0 723.9 1242.0 727.5 1243.0 729.0 1244.0 734.4 1245.0 725.3 1246.0 722.9 1247.0 727.5 1248.0 725.6 1249.0 734.5 1250.0 726.9 1251.0 730.9 1252.0 735.2 1253.0 736.7 1254.0 734.4 1255.0 749.9 1256.0 740.5 1257.0 729.6 1258.0 737.6 1259.0 738.6 1260.0 737.7 1261.0 737.3 1262.0 740.9 1263.0 743.6 1264.0 744.4 1265.0 749.7 1266.0 749.7 1267.0 744.2 1268.0 743.8 1269.0 750.8 1270.0 746.1 1271.0 749.6 1272.0 751.7 1273.0 754.6 1274.0 752.1 1275.0 757.4 1276.0 750.7 1277.0 756.6 1278.0 750.6 1279.0 754.0 1280.0 754.5 1281.0 750.8 1282.0 744.1 1283.0 758.0 1284.0 757.4 1285.0 756.9 1286.0 753.8 1287.0 755.4 1288.0 759.0 1289.0 758.0 1290.0 762.8 1291.0 759.4 1292.0 755.7 1293.0 761.3 1294.0 757.3 1295.0 760.5 1296.0 753.1 1297.0 758.5 1298.0 762.9 1299.0 749.5 1300.0 767.4 1301.0 767.0 1302.0 758.2 1303.0 769.7 1304.0 777.1 1305.0 762.4 1306.0 762.8 1307.0 755.9 1308.0 757.2 1309.0 765.9 1310.0 764.7 1311.0 770.5 1312.0 765.7 1313.0 765.2 1314.0 770.2 1315.0 768.0 1316.0 773.4 1317.0 763.7 1318.0 769.0 1319.0 770.8 1320.0 770.8 1321.0 773.6 1322.0 773.7 1323.0 770.1 1324.0 767.8 1325.0 774.0 1326.0 762.9 1327.0 775.1 1328.0 777.4 1329.0 773.4 1330.0 769.0 1331.0 771.5 1332.0 776.3 1333.0 783.1 1334.0 778.7 1335.0 775.1 1336.0 775.5 1337.0 772.9 1338.0 775.1 1339.0 779.8 1340.0 775.5 1341.0 775.4 1342.0 774.0 1343.0 780.4 1344.0 772.2 1345.0 775.2 1346.0 782.1 1347.0 785.2 1348.0 779.3 1349.0 783.7 1350.0 772.8 1351.0 783.0 1352.0 782.5 1353.0 776.8 1354.0 774.4 1355.0 779.5 1356.0 759.5 1357.0 784.7 1358.0 784.1 1359.0 787.1 1360.0 787.5 1361.0 779.6 1362.0 783.1 1363.0 783.4 1364.0 789.9 1365.0 784.9 1366.0 790.7 1367.0 788.1 1368.0 797.1 1369.0 788.9 1370.0 788.7 1371.0 788.6 1372.0 790.0 1373.0 799.7 1374.0 789.4 1375.0 787.3 1376.0 793.9 1377.0 794.5 1378.0 788.8 1379.0 795.8 1380.0 797.6 1381.0 793.8 1382.0 793.7 1383.0 792.0 1384.0 794.4 1385.0 793.1 1386.0 801.6 1387.0 804.5 1388.0 797.7 1389.0 798.4 1390.0 791.6 1391.0 796.8 1392.0 801.3 1393.0 801.9 1394.0 801.7 1395.0 805.0 1396.0 802.6 1397.0 800.8 1398.0 810.3 1399.0 795.9 1400.0 797.8 1401.0 799.9 1402.0 800.3 1403.0 800.4 1404.0 802.8 1405.0 801.3 1406.0 803.9 1407.0 807.0 1408.0 805.2 1409.0 805.6 1410.0 801.6 1411.0 799.7 1412.0 804.0 1413.0 809.3 1414.0 807.8 1415.0 810.6 1416.0 810.6 1417.0 811.2 1418.0 803.7 1419.0 811.2 1420.0 804.4 1421.0 815.2 1422.0 809.9 1423.0 808.3 1424.0 806.4 1425.0 807.4 1426.0 800.3 1427.0 805.1 1428.0 806.4 1429.0 810.6 1430.0 804.5 1431.0 807.0 1432.0 813.9 1433.0 805.3 1434.0 809.8 1435.0 804.8 1436.0 806.0 1437.0 808.3 1438.0 810.2 1439.0 804.9 1440.0 802.2 1441.0 812.0 1442.0 807.6 1443.0 811.3 1444.0 797.4 1445.0 809.6 1446.0 805.5 1447.0 805.5 1448.0 799.9 1449.0 806.1 1450.0 804.2 1451.0 805.7 1452.0 813.2 1453.0 809.3 1454.0 805.7 1455.0 800.5 1456.0 808.1 1457.0 811.9 1458.0 803.0 1459.0 807.0 1460.0 803.7 1461.0 804.7 1462.0 804.0 1463.0 799.0 1464.0 802.7 1465.0 798.7 1466.0 810.1 1467.0 809.8 1468.0 805.9 1469.0 806.4 1470.0 805.5 1471.0 806.0 1472.0 806.0 1473.0 804.3 1474.0 804.4 1475.0 799.8 1476.0 800.6 1477.0 802.3 1478.0 805.6 1479.0 803.7 1480.0 812.4 1481.0 805.1 1482.0 803.7 1483.0 806.8 1484.0 817.2 1485.0 813.1 1486.0 810.2 1487.0 804.0 1488.0 805.3 1489.0 810.4 1490.0 808.1 1491.0 810.3 1492.0 807.4 1493.0 814.0 1494.0 814.4 1495.0 813.6 1496.0 810.1 1497.0 803.3 1498.0 804.0 1499.0 811.1 1500.0 813.5 1501.0 800.4 1502.0 809.0 1503.0 816.7 1504.0 817.2 1505.0 812.1 1506.0 816.6 1507.0 815.2 1508.0 814.6 1509.0 820.3 1510.0 821.5 1511.0 815.7 1512.0 814.1 1513.0 813.1 1514.0 821.9 1515.0 824.4 1516.0 828.2 1517.0 822.7 1518.0 825.9 1519.0 820.1 1520.0 822.4 1521.0 827.1 1522.0 825.7 1523.0 824.8 1524.0 818.9 1525.0 819.6 1526.0 824.2 1527.0 824.7 1528.0 827.1 1529.0 825.6 1530.0 827.5 1531.0 829.3 1532.0 831.6 1533.0 830.5 1534.0 828.5 1535.0 829.7 1536.0 834.7 1537.0 831.3 1538.0 828.3 1539.0 828.2 1540.0 833.4 1541.0 835.3 1542.0 838.3 1543.0 832.9 1544.0 839.2 1545.0 833.4 1546.0 833.5 1547.0 832.4 1548.0 836.8 1549.0 839.5 1550.0 835.8 1551.0 833.8 1552.0 829.8 1553.0 836.2 1554.0 835.2 1555.0 835.8 1556.0 834.4 1557.0 833.6 1558.0 835.4 1559.0 839.2 1560.0 841.7 1561.0 838.4 1562.0 839.6 1563.0 837.9 1564.0 838.2 1565.0 833.6 1566.0 842.0 1567.0 842.0 1568.0 845.5 1569.0 838.0 1570.0 840.3 1571.0 833.4 1572.0 841.0 1573.0 856.5 1574.0 843.4 1575.0 840.7 1576.0 843.6 1577.0 839.7 1578.0 843.7 1579.0 840.8 1580.0 840.2 1581.0 842.3 1582.0 843.8 1583.0 837.3 1584.0 836.4 1585.0 843.1 1586.0 843.0 1587.0 835.5 1588.0 836.2 1589.0 840.1 1590.0 844.9 1591.0 845.1 1592.0 848.4 1593.0 849.5 1594.0 854.4 1595.0 840.4 1596.0 844.6 1597.0 849.5 1598.0 841.2 1599.0 840.0 1600.0 846.3 1601.0 853.8 1602.0 851.8 1603.0 840.5 1604.0 841.7 1605.0 846.4 1606.0 845.4 1607.0 848.8 1608.0 848.7 1609.0 855.2 1610.0 849.1 1611.0 849.6 1612.0 849.5 1613.0 853.8 1614.0 845.9 1615.0 851.1 1616.0 847.4 1617.0 844.8 1618.0 854.8 1619.0 853.6 1620.0 857.1 1621.0 853.3 1622.0 851.9 1623.0 853.1 1624.0 854.8 1625.0 851.4 1626.0 859.5 1627.0 850.6 1628.0 859.9 1629.0 853.7 1630.0 857.5 1631.0 855.2 1632.0 856.4 1633.0 860.8 1634.0 856.2 1635.0 851.7 1636.0 856.0 1637.0 858.2 1638.0 846.6 1639.0 858.9 1640.0 860.7 1641.0 849.9 1642.0 855.2 1643.0 859.7 1644.0 852.6 1645.0 854.8 1646.0 855.4 1647.0 859.1 1648.0 861.7 1649.0 857.5 1650.0 857.5 1651.0 860.9 1652.0 859.8 1653.0 859.3 1654.0 862.6 1655.0 852.4 1656.0 857.6 1657.0 855.9 1658.0 855.4 1659.0 858.1 1660.0 857.8 1661.0 862.5 1662.0 861.2 1663.0 859.4 1664.0 864.4 1665.0 862.4 1666.0 851.0 1667.0 857.6 1668.0 860.8 1669.0 855.8 1670.0 858.9 1671.0 856.3 1672.0 859.3 1673.0 851.8 1674.0 849.8 1675.0 855.1 1676.0 866.4 1677.0 863.4 1678.0 857.6 1679.0 855.2 1680.0 861.5 1681.0 858.7 1682.0 858.6 1683.0 858.6 1684.0 850.7 1685.0 854.4 1686.0 854.2 1687.0 852.5 1688.0 854.7 1689.0 855.3 1690.0 857.0 1691.0 851.2 1692.0 859.8 1693.0 860.2 1694.0 850.9 1695.0 859.4 1696.0 851.2 1697.0 851.3 1698.0 848.7 1699.0 859.2 1700.0 852.9 1701.0 856.4 1702.0 859.4 1703.0 866.6 1704.0 860.5 1705.0 856.8 1706.0 862.8 1707.0 859.9 1708.0 857.7 1709.0 863.0 1710.0 855.6 1711.0 859.2 1712.0 859.1 1713.0 862.4 1714.0 854.6 1715.0 853.3 1716.0 856.7 1717.0 857.5 1718.0 858.9 1719.0 857.3 1720.0 860.4 1721.0 861.7 1722.0 860.0 1723.0 854.8 1724.0 863.0 1725.0 853.2 1726.0 857.5 1727.0 860.7 1728.0 872.5 1729.0 863.8 1730.0 866.9 1731.0 865.9 1732.0 861.3 1733.0 863.0 1734.0 857.3 1735.0 860.3 1736.0 860.9 1737.0 862.2 1738.0 869.8 1739.0 859.3 1740.0 851.1 1741.0 859.7 1742.0 860.3 1743.0 867.2 1744.0 862.6 1745.0 867.9 1746.0 862.5 1747.0 861.8 1748.0 859.2 1749.0 857.5 1750.0 845.4 1751.0 858.9 1752.0 865.4 1753.0 852.2 1754.0 854.5 1755.0 861.5 1756.0 860.0 1757.0 860.7 1758.0 843.5 1759.0 855.9 1760.0 860.7 1761.0 861.5 1762.0 860.4 1763.0 855.6 1764.0 860.8 1765.0 854.4 1766.0 854.8 1767.0 853.9 1768.0 864.2 1769.0 857.8 1770.0 859.1 1771.0 850.3 1772.0 862.4 1773.0 861.1 1774.0 852.6 1775.0 852.0 1776.0 864.8 1777.0 855.8 1778.0 865.9 1779.0 857.8 1780.0 849.0 1781.0 862.4 1782.0 861.3 1783.0 861.9 1784.0 857.2 1785.0 857.9 1786.0 862.6 1787.0 856.0 1788.0 850.8 1789.0 861.7 1790.0 872.4 1791.0 863.8 1792.0 857.5 1793.0 857.1 1794.0 857.8 1795.0 849.5 1796.0 862.7 1797.0 856.8 1798.0 857.9 1799.0 864.7 1800.0 860.0 1801.0 862.6 1802.0 860.6 1803.0 862.2 1804.0 860.4 1805.0 863.7 1806.0 858.6 1807.0 860.7 1808.0 856.3 1809.0 863.4 1810.0 850.7 1811.0 858.9 1812.0 860.4 1813.0 860.4 1814.0 859.1 1815.0 864.3 1816.0 867.9 1817.0 857.5 1818.0 851.2 1819.0 853.8 1820.0 855.2 1821.0 858.0 1822.0 858.6 1823.0 863.2 1824.0 857.7 1825.0 858.7 1826.0 859.4 1827.0 855.5 1828.0 857.3 1829.0 869.7 1830.0 859.7 1831.0 855.2 1832.0 849.9 1833.0 862.2 1834.0 858.0 1835.0 856.3 1836.0 868.4 1837.0 865.6 1838.0 852.8 1839.0 856.9 1840.0 862.7 1841.0 862.6 1842.0 854.9 1843.0 865.6 1844.0 867.0 1845.0 855.3 1846.0 851.5 1847.0 852.7 1848.0 861.0 1849.0 863.4 1850.0 860.1 1851.0 856.7 1852.0 858.3 1853.0 861.1 1854.0 854.3 1855.0 851.7 1856.0 857.8 1857.0 863.7 1858.0 860.1 1859.0 859.8 1860.0 856.3 1861.0 862.3 1862.0 852.4 1863.0 858.0 1864.0 856.4 1865.0 858.0 1866.0 855.1 1867.0 861.5 1868.0 858.8 1869.0 856.5 1870.0 860.7 1871.0 858.8 1872.0 856.8 1873.0 856.3 1874.0 861.7 1875.0 855.4 1876.0 857.6 1877.0 857.7 1878.0 860.0 1879.0 861.9 1880.0 867.4 1881.0 852.7 1882.0 860.6 1883.0 858.9 1884.0 863.3 1885.0 852.8 1886.0 851.2 1887.0 853.8 1888.0 861.1 1889.0 861.1 1890.0 859.2 1891.0 855.9 1892.0 855.3 1893.0 858.9 1894.0 855.8 1895.0 850.8 1896.0 850.8 1897.0 861.2 1898.0 862.3 1899.0 861.2 1900.0 859.3 1901.0 860.4 1902.0 861.0 1903.0 860.1 1904.0 861.4 1905.0 855.7 1906.0 854.0 1907.0 859.0 1908.0 855.0 1909.0 857.9 1910.0 864.0 1911.0 857.9 1912.0 861.8 1913.0 865.5 1914.0 852.3 1915.0 852.6 1916.0 860.2 1917.0 856.3 1918.0 860.8 1919.0 862.0 1920.0 855.8 1921.0 862.1 1922.0 873.6 1923.0 863.5 1924.0 856.0 1925.0 858.2 1926.0 856.8 1927.0 865.1 1928.0 858.9 1929.0 856.3 1930.0 859.0 1931.0 861.1 1932.0 857.8 1933.0 859.4 1934.0 859.2 1935.0 862.1 1936.0 863.3 1937.0 860.7 1938.0 848.3 1939.0 860.7 1940.0 855.8 1941.0 863.2 1942.0 861.0 1943.0 860.4 1944.0 849.7 1945.0 867.8 1946.0 865.9 1947.0 865.0 1948.0 860.4 1949.0 862.1 1950.0 871.0 1951.0 857.8 1952.0 862.2 1953.0 862.1 1954.0 860.3 1955.0 871.5 1956.0 858.6 1957.0 861.7 1958.0 854.6 1959.0 866.4 1960.0 863.5 1961.0 856.6 1962.0 851.0 1963.0 859.2 1964.0 861.7 1965.0 855.9 1966.0 866.0 1967.0 861.5 1968.0 858.1 1969.0 854.1 1970.0 858.8 1971.0 858.9 1972.0 862.3 1973.0 864.3 1974.0 860.4 1975.0 861.8 1976.0 865.8 1977.0 863.0 1978.0 859.2 1979.0 862.3 1980.0 858.1 1981.0 861.6 1982.0 860.4 1983.0 855.7 1984.0 862.0 1985.0 860.6 1986.0 863.0 1987.0 855.1 1988.0 864.0 1989.0 865.0 1990.0 859.2 1991.0 859.6 1992.0 860.2 1993.0 860.0 1994.0 863.4 1995.0 857.6 1996.0 855.3 1997.0 858.7 1998.0 867.5 1999.0 859.3 2000.0 856.1 2001.0 856.1 2002.0 860.4 2003.0 864.8 2004.0 857.7 2005.0 860.6 2006.0 861.1 2007.0 862.1" stroke="#008000"/></g><line x1="1540.5" y1="457.0" x2="1655.8" y2="457.0" stroke="#6e6e6e" stroke-width="3"/><line x1="1540.5" y1="524.9" x2="1655.8" y2="524.9" stroke="#ff8080" stroke-width="3"/><line x1="1540.5" y1="592.7" x2="1655.8" y2="592.7" stroke="#7878ff" stroke-width="3"/><line x1="1540.5" y1="660.4" x2="1655.8" y2="660.4" stroke="#ff78ff" stroke-width="3"/><line x1="1540.5" y1="727.8" x2="1655.8" y2="727.8" stroke="#00a030" stroke-width="3"/><rect x="291.8" y="1174.0" width="1727.2" height="1045.0" fill="none" stroke="#000" stroke-width="3.6"/><path d="M346.20 2219.0V2244.0M625.00 2219.0V2244.0M903.80 2219.0V2244.0M1182.60 2219.0V2244.0M1461.40 2219.0V2244.0M1740.20 2219.0V2244.0M2019.00 2219.0V2244.0M485.60 2219.0V2233.0M764.40 2219.0V2233.0M1043.20 2219.0V2233.0M1322.00 2219.0V2233.0M1600.80 2219.0V2233.0M1879.60 2219.0V2233.0" stroke="#000" stroke-width="3.2" fill="none"/><path d="M1067 2118.3H2008.5" stroke="#8a8a8a" stroke-width="2.2" fill="none"/><g fill="none" stroke="#444" stroke-width="2.3" stroke-dasharray="7 6.6"><path d="M291.8 1404.88 295.8 1404.32 299.8 1403.74 303.8 1403.13 307.8 1402.49 311.8 1401.82 315.8 1401.11 319.8 1400.37 323.8 1399.60 327.8 1398.79 331.8 1397.94 335.8 1397.06 339.8 1396.14 343.8 1395.18 347.8 1394.18 351.8 1393.13 355.8 1392.05 359.8 1390.93 363.8 1389.76 367.8 1388.54 371.8 1387.29 375.8 1385.98 379.8 1384.64 383.8 1383.24 387.8 1381.80 391.8 1380.31 395.8 1378.78 399.8 1377.20 403.8 1375.57 407.8 1373.90 411.8 1372.18 415.8 1370.41 419.8 1368.60 423.8 1366.74 427.8 1364.84 431.8 1362.89 435.8 1360.90 439.8 1358.87 443.8 1356.79 447.8 1354.68 451.8 1352.53 455.8 1350.34 459.8 1348.12 463.8 1345.86 467.8 1343.57 471.8 1341.25 475.8 1338.90 479.8 1336.53 483.8 1334.14 487.8 1331.72 491.8 1329.29 495.8 1326.84 499.8 1324.38 503.8 1321.91 507.8 1319.43 511.8 1316.95 515.8 1314.47 519.8 1311.99 523.8 1309.52 527.8 1307.07 531.8 1304.62 535.8 1302.19 539.8 1299.79 543.8 1297.40 547.8 1295.05 551.8 1292.73 555.8 1290.44 559.8 1288.20 563.8 1286.00 567.8 1283.84 571.8 1281.74 575.8 1279.69 579.8 1277.69 583.8 1275.76 587.8 1273.90 591.8 1272.10 595.8 1270.37 599.8 1268.72 603.8 1267.15 607.8 1265.66 611.8 1264.25 615.8 1262.92 619.8 1261.69 623.8 1260.55 627.8 1259.50 631.8 1258.54 635.8 1257.68 639.8 1256.92 643.8 1256.27 647.8 1255.71 651.8 1255.25 655.8 1254.90 659.8 1254.66 663.8 1254.51 667.8 1254.48 671.8 1254.55 675.8 1254.73 679.8 1255.02 683.8 1255.42 687.8 1255.92 691.8 1256.54 695.8 1257.26 699.8 1258.08 703.8 1259.00 707.8 1260.03 711.8 1261.15 715.8 1262.37 719.8 1263.68 723.8 1265.09 727.8 1266.58 731.8 1268.15 735.8 1269.81 739.8 1271.55 743.8 1273.36 747.8 1275.25 751.8 1277.20 755.8 1279.21 759.8 1281.29 763.8 1283.43 767.8 1285.61 771.8 1287.85 775.8 1290.13 779.8 1292.46 783.8 1294.82 787.8 1297.21 791.8 1299.63 795.8 1302.08 799.8 1304.55 803.8 1307.04 807.8 1309.54 811.8 1312.05 815.8 1314.57 819.8 1317.09 823.8 1319.61 827.8 1322.12 831.8 1324.63 835.8 1327.12 839.8 1329.60 843.8 1332.07 847.8 1334.51 851.8 1336.94 855.8 1339.33 859.8 1341.70 863.8 1344.04 867.8 1346.35 871.8 1348.62 875.8 1350.86 879.8 1353.05 883.8 1355.21 887.8 1357.33 891.8 1359.40 895.8 1361.43 899.8 1363.42 903.8 1365.36 907.8 1367.25 911.8 1369.10 915.8 1370.90 919.8 1372.65 923.8 1374.35 927.8 1376.00 931.8 1377.60 935.8 1379.16 939.8 1380.66 943.8 1382.12 947.8 1383.53 951.8 1384.89 955.8 1386.20 959.8 1387.47 963.8 1388.69 967.8 1389.86 971.8 1390.99 975.8 1392.07 979.8 1393.11 983.8 1394.11 987.8 1395.07 991.8 1395.98 995.8 1396.86 999.8 1397.69 1003.8 1398.49 1007.8 1399.25 1011.8 1399.98 1015.8 1400.67 1019.8 1401.33 1023.8 1401.96 1027.8 1402.55 1031.8 1403.11 1035.8 1403.65 1039.8 1404.16 1043.8 1404.64 1047.8 1405.09 1051.8 1405.52 1055.8 1405.92 1059.8 1406.30 1063.8 1406.66 1067.8 1407.00 1071.8 1407.32 1075.8 1407.62 1079.8 1407.90 1083.8 1408.17 1087.8 1408.42 1091.8 1408.65 1095.8 1408.86 1099.8 1409.07 1103.8 1409.26 1107.8 1409.43 1111.8 1409.60 1115.8 1409.75 1119.8 1409.89 1123.8 1410.02 1127.8 1410.15 1131.8 1410.26 1135.8 1410.36 1139.8 1410.46 1143.8 1410.55 1147.8 1410.63 1151.8 1410.71 1155.8 1410.78 1159.8 1410.84 1163.8 1410.90 1167.8 1410.96 1171.8 1411.01 1175.8 1411.05 1179.8 1411.09 1183.8 1411.13 1187.8 1411.16 1191.8 1411.19 1195.8 1411.22 1199.8 1411.24 1203.8 1411.26 1207.8 1411.28 1211.8 1411.30 1215.8 1411.32 1219.8 1411.33 1223.8 1411.34 1227.8 1411.35 1231.8 1411.36 1235.8 1411.36 1239.8 1411.37 1243.8 1411.37 1247.8 1411.38 1251.8 1411.38 1255.8 1411.38 1259.8 1411.38 1263.8 1411.38 1267.8 1411.38 1271.8 1411.37 1275.8 1411.37 1279.8 1411.37 1283.8 1411.37 1287.8 1411.36 1291.8 1411.36 1295.8 1411.35 1299.8 1411.35 1303.8 1411.34 1307.8 1411.34 1311.8 1411.33 1315.8 1411.33 1319.8 1411.32 1323.8 1411.31 1327.8 1411.31 1331.8 1411.30 1335.8 1411.29 1339.8 1411.29 1343.8 1411.28 1347.8 1411.27 1351.8 1411.26 1355.8 1411.26 1359.8 1411.25 1363.8 1411.24 1367.8 1411.23 1371.8 1411.23 1375.8 1411.22 1379.8 1411.21 1383.8 1411.20 1387.8 1411.19 1391.8 1411.19 1395.8 1411.18 1399.8 1411.17 1403.8 1411.16 1407.8 1411.16 1411.8 1411.15 1415.8 1411.14 1419.8 1411.13 1423.8 1411.12 1427.8 1411.12 1431.8 1411.11 1435.8 1411.10 1439.8 1411.09 1443.8 1411.08 1447.8 1411.08 1451.8 1411.07 1455.8 1411.06 1459.8 1411.05 1463.8 1411.04 1467.8 1411.04 1471.8 1411.03 1475.8 1411.02 1479.8 1411.01 1483.8 1411.00 1487.8 1410.99 1491.8 1410.99 1495.8 1410.98 1499.8 1410.97 1503.8 1410.96 1507.8 1410.95 1511.8 1410.95 1515.8 1410.94 1519.8 1410.93 1523.8 1410.92 1527.8 1410.91 1531.8 1410.91 1535.8 1410.90 1539.8 1410.89 1543.8 1410.88 1547.8 1410.87 1551.8 1410.87 1555.8 1410.86 1559.8 1410.85 1563.8 1410.84 1567.8 1410.83 1571.8 1410.82 1575.8 1410.82 1579.8 1410.81 1583.8 1410.80 1587.8 1410.79 1591.8 1410.78 1595.8 1410.78 1599.8 1410.77 1603.8 1410.76 1607.8 1410.75 1611.8 1410.74 1615.8 1410.74 1619.8 1410.73 1623.8 1410.72 1627.8 1410.71 1631.8 1410.70 1635.8 1410.70 1639.8 1410.69 1643.8 1410.68 1647.8 1410.67 1651.8 1410.66 1655.8 1410.66 1659.8 1410.65 1663.8 1410.64 1667.8 1410.63 1671.8 1410.62 1675.8 1410.61 1679.8 1410.61 1683.8 1410.60 1687.8 1410.59 1691.8 1410.58 1695.8 1410.57 1699.8 1410.57 1703.8 1410.56 1707.8 1410.55 1711.8 1410.54 1715.8 1410.53 1719.8 1410.53 1723.8 1410.52 1727.8 1410.51 1731.8 1410.50 1735.8 1410.49 1739.8 1410.49 1743.8 1410.48 1747.8 1410.47 1751.8 1410.46 1755.8 1410.45 1759.8 1410.44 1763.8 1410.44 1767.8 1410.43 1771.8 1410.42 1775.8 1410.41 1779.8 1410.40 1783.8 1410.40 1787.8 1410.39 1791.8 1410.38 1795.8 1410.37 1799.8 1410.36 1803.8 1410.36 1807.8 1410.35 1811.8 1410.34 1815.8 1410.33 1819.8 1410.32 1823.8 1410.32 1827.8 1410.31 1831.8 1410.30 1835.8 1410.29 1839.8 1410.28 1843.8 1410.27 1847.8 1410.27 1851.8 1410.26 1855.8 1410.25 1859.8 1410.24 1863.8 1410.23 1867.8 1410.23 1871.8 1410.22 1875.8 1410.21 1879.8 1410.20 1883.8 1410.19 1887.8 1410.19 1891.8 1410.18 1895.8 1410.17 1899.8 1410.16 1903.8 1410.15 1907.8 1410.15 1911.8 1410.14 1915.8 1410.13 1919.8 1410.12 1923.8 1410.11 1927.8 1410.11 1931.8 1410.10 1935.8 1410.09 1939.8 1410.08 1943.8 1410.07 1947.8 1410.06 1951.8 1410.06 1955.8 1410.05 1959.8 1410.04 1963.8 1410.03 1967.8 1410.02 1971.8 1410.02 1975.8 1410.01 1979.8 1410.00 1983.8 1409.99 1987.8 1409.98 1991.8 1409.98 1995.8 1409.97 1999.8 1409.96 2003.8 1409.95 2007.8 1409.94 2011.8 1409.94 2015.8 1409.93"/><path d="M291.8 1409.51 295.8 1409.35 299.8 1409.19 303.8 1409.02 307.8 1408.85 311.8 1408.67 315.8 1408.49 319.8 1408.30 323.8 1408.11 327.8 1407.91 331.8 1407.71 335.8 1407.50 339.8 1407.28 343.8 1407.06 347.8 1406.83 351.8 1406.60 355.8 1406.35 359.8 1406.11 363.8 1405.85 367.8 1405.59 371.8 1405.33 375.8 1405.05 379.8 1404.77 383.8 1404.48 387.8 1404.19 391.8 1403.89 395.8 1403.58 399.8 1403.26 403.8 1402.94 407.8 1402.61 411.8 1402.27 415.8 1401.92 419.8 1401.56 423.8 1401.20 427.8 1400.83 431.8 1400.45 435.8 1400.06 439.8 1399.67 443.8 1399.26 447.8 1398.85 451.8 1398.43 455.8 1398.00 459.8 1397.56 463.8 1397.12 467.8 1396.66 471.8 1396.20 475.8 1395.73 479.8 1395.25 483.8 1394.76 487.8 1394.26 491.8 1393.76 495.8 1393.24 499.8 1392.72 503.8 1392.19 507.8 1391.65 511.8 1391.10 515.8 1390.54 519.8 1389.98 523.8 1389.40 527.8 1388.82 531.8 1388.23 535.8 1387.63 539.8 1387.03 543.8 1386.41 547.8 1385.79 551.8 1385.16 555.8 1384.52 559.8 1383.88 563.8 1383.22 567.8 1382.56 571.8 1381.90 575.8 1381.22 579.8 1380.54 583.8 1379.85 587.8 1379.16 591.8 1378.46 595.8 1377.75 599.8 1377.04 603.8 1376.32 607.8 1375.60 611.8 1374.87 615.8 1374.14 619.8 1373.40 623.8 1372.66 627.8 1371.92 631.8 1371.17 635.8 1370.41 639.8 1369.65 643.8 1368.89 647.8 1368.13 651.8 1367.37 655.8 1366.60 659.8 1365.83 663.8 1365.06 667.8 1364.29 671.8 1363.52 675.8 1362.74 679.8 1361.97 683.8 1361.20 687.8 1360.43 691.8 1359.66 695.8 1358.89 699.8 1358.12 703.8 1357.36 707.8 1356.59 711.8 1355.83 715.8 1355.08 719.8 1354.32 723.8 1353.58 727.8 1352.83 731.8 1352.09 735.8 1351.36 739.8 1350.63 743.8 1349.91 747.8 1349.19 751.8 1348.49 755.8 1347.79 759.8 1347.09 763.8 1346.41 767.8 1345.73 771.8 1345.07 775.8 1344.41 779.8 1343.76 783.8 1343.12 787.8 1342.49 791.8 1341.88 795.8 1341.27 799.8 1340.68 803.8 1340.10 807.8 1339.53 811.8 1338.97 815.8 1338.43 819.8 1337.90 823.8 1337.39 827.8 1336.89 831.8 1336.40 835.8 1335.93 839.8 1335.47 843.8 1335.03 847.8 1334.60 851.8 1334.20 855.8 1333.80 859.8 1333.43 863.8 1333.07 867.8 1332.72 871.8 1332.40 875.8 1332.09 879.8 1331.80 883.8 1331.53 887.8 1331.27 891.8 1331.04 895.8 1330.82 899.8 1330.62 903.8 1330.44 907.8 1330.28 911.8 1330.13 915.8 1330.01 919.8 1329.90 923.8 1329.82 927.8 1329.75 931.8 1329.70 935.8 1329.68 939.8 1329.67 943.8 1329.68 947.8 1329.71 951.8 1329.76 955.8 1329.83 959.8 1329.92 963.8 1330.04 967.8 1330.17 971.8 1330.32 975.8 1330.49 979.8 1330.68 983.8 1330.89 987.8 1331.12 991.8 1331.37 995.8 1331.63 999.8 1331.92 1003.8 1332.22 1007.8 1332.55 1011.8 1332.89 1015.8 1333.24 1019.8 1333.62 1023.8 1334.01 1027.8 1334.42 1031.8 1334.85 1035.8 1335.29 1039.8 1335.75 1043.8 1336.22 1047.8 1336.71 1051.8 1337.21 1055.8 1337.73 1059.8 1338.27 1063.8 1338.81 1067.8 1339.37 1071.8 1339.95 1075.8 1340.53 1079.8 1341.13 1083.8 1341.74 1087.8 1342.37 1091.8 1343.00 1095.8 1343.65 1099.8 1344.30 1103.8 1344.97 1107.8 1345.64 1111.8 1346.32 1115.8 1347.01 1119.8 1347.71 1123.8 1348.42 1127.8 1349.14 1131.8 1349.86 1135.8 1350.59 1139.8 1351.32 1143.8 1352.06 1147.8 1352.81 1151.8 1353.56 1155.8 1354.31 1159.8 1355.07 1163.8 1355.83 1167.8 1356.59 1171.8 1357.36 1175.8 1358.13 1179.8 1358.90 1183.8 1359.67 1187.8 1360.45 1191.8 1361.22 1195.8 1361.99 1199.8 1362.77 1203.8 1363.54 1207.8 1364.31 1211.8 1365.08 1215.8 1365.85 1219.8 1366.62 1223.8 1367.38 1227.8 1368.15 1231.8 1368.91 1235.8 1369.66 1239.8 1370.41 1243.8 1371.16 1247.8 1371.91 1251.8 1372.65 1255.8 1373.38 1259.8 1374.11 1263.8 1374.83 1267.8 1375.55 1271.8 1376.27 1275.8 1376.97 1279.8 1377.67 1283.8 1378.37 1287.8 1379.05 1291.8 1379.73 1295.8 1380.41 1299.8 1381.07 1303.8 1381.73 1307.8 1382.38 1311.8 1383.03 1315.8 1383.66 1319.8 1384.29 1323.8 1384.91 1327.8 1385.52 1331.8 1386.12 1335.8 1386.72 1339.8 1387.30 1343.8 1387.88 1347.8 1388.45 1351.8 1389.01 1355.8 1389.56 1359.8 1390.10 1363.8 1390.63 1367.8 1391.16 1371.8 1391.67 1375.8 1392.18 1379.8 1392.68 1383.8 1393.17 1387.8 1393.65 1391.8 1394.12 1395.8 1394.58 1399.8 1395.03 1403.8 1395.47 1407.8 1395.91 1411.8 1396.33 1415.8 1396.75 1419.8 1397.16 1423.8 1397.56 1427.8 1397.95 1431.8 1398.33 1435.8 1398.70 1439.8 1399.07 1443.8 1399.43 1447.8 1399.77 1451.8 1400.11 1455.8 1400.45 1459.8 1400.77 1463.8 1401.09 1467.8 1401.39 1471.8 1401.69 1475.8 1401.99 1479.8 1402.27 1483.8 1402.55 1487.8 1402.82 1491.8 1403.08 1495.8 1403.34 1499.8 1403.59 1503.8 1403.83 1507.8 1404.07 1511.8 1404.29 1515.8 1404.52 1519.8 1404.73 1523.8 1404.94 1527.8 1405.14 1531.8 1405.34 1535.8 1405.53 1539.8 1405.72 1543.8 1405.90 1547.8 1406.07 1551.8 1406.24 1555.8 1406.40 1559.8 1406.56 1563.8 1406.71 1567.8 1406.86 1571.8 1407.00 1575.8 1407.14 1579.8 1407.27 1583.8 1407.40 1587.8 1407.53 1591.8 1407.65 1595.8 1407.76 1599.8 1407.87 1603.8 1407.98 1607.8 1408.08 1611.8 1408.18 1615.8 1408.28 1619.8 1408.37 1623.8 1408.46 1627.8 1408.54 1631.8 1408.62 1635.8 1408.70 1639.8 1408.78 1643.8 1408.85 1647.8 1408.92 1651.8 1408.99 1655.8 1409.05 1659.8 1409.11 1663.8 1409.17 1667.8 1409.23 1671.8 1409.28 1675.8 1409.33 1679.8 1409.38 1683.8 1409.43 1687.8 1409.47 1691.8 1409.51 1695.8 1409.55 1699.8 1409.59 1703.8 1409.63 1707.8 1409.66 1711.8 1409.69 1715.8 1409.73 1719.8 1409.76 1723.8 1409.78 1727.8 1409.81 1731.8 1409.83 1735.8 1409.86 1739.8 1409.88 1743.8 1409.90 1747.8 1409.92 1751.8 1409.94 1755.8 1409.96 1759.8 1409.97 1763.8 1409.99 1767.8 1410.00 1771.8 1410.02 1775.8 1410.03 1779.8 1410.04 1783.8 1410.05 1787.8 1410.06 1791.8 1410.07 1795.8 1410.07 1799.8 1410.08 1803.8 1410.09 1807.8 1410.09 1811.8 1410.10 1815.8 1410.10 1819.8 1410.11 1823.8 1410.11 1827.8 1410.11 1831.8 1410.12 1835.8 1410.12 1839.8 1410.12 1843.8 1410.12 1847.8 1410.12 1851.8 1410.12 1855.8 1410.12 1859.8 1410.12 1863.8 1410.12 1867.8 1410.12 1871.8 1410.11 1875.8 1410.11 1879.8 1410.11 1883.8 1410.11 1887.8 1410.10 1891.8 1410.10 1895.8 1410.10 1899.8 1410.09 1903.8 1410.09 1907.8 1410.08 1911.8 1410.08 1915.8 1410.07 1919.8 1410.07 1923.8 1410.06 1927.8 1410.06 1931.8 1410.05 1935.8 1410.05 1939.8 1410.04 1943.8 1410.04 1947.8 1410.03 1951.8 1410.02 1955.8 1410.02 1959.8 1410.01 1963.8 1410.01 1967.8 1410.00 1971.8 1409.99 1975.8 1409.99 1979.8 1409.98 1983.8 1409.97 1987.8 1409.97 1991.8 1409.96 1995.8 1409.95 1999.8 1409.94 2003.8 1409.94 2007.8 1409.93 2011.8 1409.92 2015.8 1409.92"/><path d="M291.8 1586.85 295.8 1586.83 299.8 1586.81 303.8 1586.79 307.8 1586.77 311.8 1586.74 315.8 1586.72 319.8 1586.69 323.8 1586.66 327.8 1586.63 331.8 1586.60 335.8 1586.56 339.8 1586.53 343.8 1586.49 347.8 1586.44 351.8 1586.40 355.8 1586.35 359.8 1586.30 363.8 1586.24 367.8 1586.19 371.8 1586.12 375.8 1586.06 379.8 1585.99 383.8 1585.91 387.8 1585.83 391.8 1585.74 395.8 1585.65 399.8 1585.55 403.8 1585.44 407.8 1585.33 411.8 1585.21 415.8 1585.08 419.8 1584.94 423.8 1584.80 427.8 1584.64 431.8 1584.48 435.8 1584.31 439.8 1584.12 443.8 1583.92 447.8 1583.72 451.8 1583.50 455.8 1583.26 459.8 1583.01 463.8 1582.75 467.8 1582.48 471.8 1582.19 475.8 1581.88 479.8 1581.56 483.8 1581.22 487.8 1580.86 491.8 1580.48 495.8 1580.09 499.8 1579.67 503.8 1579.24 507.8 1578.79 511.8 1578.31 515.8 1577.81 519.8 1577.30 523.8 1576.75 527.8 1576.19 531.8 1575.60 535.8 1574.99 539.8 1574.35 543.8 1573.69 547.8 1573.01 551.8 1572.30 555.8 1571.57 559.8 1570.81 563.8 1570.02 567.8 1569.21 571.8 1568.38 575.8 1567.52 579.8 1566.63 583.8 1565.72 587.8 1564.79 591.8 1563.83 595.8 1562.85 599.8 1561.85 603.8 1560.82 607.8 1559.78 611.8 1558.71 615.8 1557.62 619.8 1556.51 623.8 1555.39 627.8 1554.25 631.8 1553.09 635.8 1551.92 639.8 1550.74 643.8 1549.55 647.8 1548.34 651.8 1547.13 655.8 1545.91 659.8 1544.69 663.8 1543.46 667.8 1542.24 671.8 1541.01 675.8 1539.79 679.8 1538.57 683.8 1537.36 687.8 1536.15 691.8 1534.96 695.8 1533.78 699.8 1532.62 703.8 1531.48 707.8 1530.35 711.8 1529.25 715.8 1528.17 719.8 1527.12 723.8 1526.09 727.8 1525.10 731.8 1524.14 735.8 1523.21 739.8 1522.32 743.8 1521.47 747.8 1520.66 751.8 1519.89 755.8 1519.17 759.8 1518.49 763.8 1517.86 767.8 1517.28 771.8 1516.74 775.8 1516.26 779.8 1515.83 783.8 1515.46 787.8 1515.13 791.8 1514.87 795.8 1514.65 799.8 1514.50 803.8 1514.39 807.8 1514.35 811.8 1514.36 815.8 1514.43 819.8 1514.56 823.8 1514.74 827.8 1514.97 831.8 1515.27 835.8 1515.61 839.8 1516.01 843.8 1516.47 847.8 1516.97 851.8 1517.52 855.8 1518.13 859.8 1518.78 863.8 1519.48 867.8 1520.22 871.8 1521.00 875.8 1521.83 879.8 1522.69 883.8 1523.59 887.8 1524.53 891.8 1525.50 895.8 1526.50 899.8 1527.53 903.8 1528.59 907.8 1529.67 911.8 1530.78 915.8 1531.90 919.8 1533.04 923.8 1534.20 927.8 1535.38 931.8 1536.56 935.8 1537.76 939.8 1538.96 943.8 1540.16 947.8 1541.37 951.8 1542.58 955.8 1543.80 959.8 1545.00 963.8 1546.21 967.8 1547.40 971.8 1548.59 975.8 1549.77 979.8 1550.94 983.8 1552.10 987.8 1553.24 991.8 1554.37 995.8 1555.48 999.8 1556.57 1003.8 1557.65 1007.8 1558.70 1011.8 1559.73 1015.8 1560.75 1019.8 1561.74 1023.8 1562.71 1027.8 1563.65 1031.8 1564.57 1035.8 1565.47 1039.8 1566.34 1043.8 1567.19 1047.8 1568.01 1051.8 1568.81 1055.8 1569.58 1059.8 1570.32 1063.8 1571.04 1067.8 1571.74 1071.8 1572.41 1075.8 1573.06 1079.8 1573.68 1083.8 1574.28 1087.8 1574.85 1091.8 1575.40 1095.8 1575.93 1099.8 1576.43 1103.8 1576.91 1107.8 1577.37 1111.8 1577.81 1115.8 1578.23 1119.8 1578.63 1123.8 1579.01 1127.8 1579.37 1131.8 1579.71 1135.8 1580.04 1139.8 1580.34 1143.8 1580.63 1147.8 1580.91 1151.8 1581.17 1155.8 1581.41 1159.8 1581.64 1163.8 1581.86 1167.8 1582.07 1171.8 1582.26 1175.8 1582.44 1179.8 1582.60 1183.8 1582.76 1187.8 1582.91 1191.8 1583.05 1195.8 1583.17 1199.8 1583.29 1203.8 1583.40 1207.8 1583.51 1211.8 1583.60 1215.8 1583.69 1219.8 1583.77 1223.8 1583.85 1227.8 1583.92 1231.8 1583.98 1235.8 1584.04 1239.8 1584.09 1243.8 1584.14 1247.8 1584.19 1251.8 1584.23 1255.8 1584.27 1259.8 1584.30 1263.8 1584.33 1267.8 1584.36 1271.8 1584.38 1275.8 1584.40 1279.8 1584.42 1283.8 1584.44 1287.8 1584.45 1291.8 1584.47 1295.8 1584.48 1299.8 1584.49 1303.8 1584.49 1307.8 1584.50 1311.8 1584.50 1315.8 1584.51 1319.8 1584.51 1323.8 1584.51 1327.8 1584.51 1331.8 1584.51 1335.8 1584.51 1339.8 1584.51 1343.8 1584.51 1347.8 1584.50 1351.8 1584.50 1355.8 1584.50 1359.8 1584.49 1363.8 1584.49 1367.8 1584.48 1371.8 1584.47 1375.8 1584.47 1379.8 1584.46 1383.8 1584.45 1387.8 1584.45 1391.8 1584.44 1395.8 1584.43 1399.8 1584.43 1403.8 1584.42 1407.8 1584.41 1411.8 1584.40 1415.8 1584.39 1419.8 1584.39 1423.8 1584.38 1427.8 1584.37 1431.8 1584.36 1435.8 1584.35 1439.8 1584.34 1443.8 1584.34 1447.8 1584.33 1451.8 1584.32 1455.8 1584.31 1459.8 1584.30 1463.8 1584.29 1467.8 1584.28 1471.8 1584.27 1475.8 1584.26 1479.8 1584.26 1483.8 1584.25 1487.8 1584.24 1491.8 1584.23 1495.8 1584.22 1499.8 1584.21 1503.8 1584.20 1507.8 1584.19 1511.8 1584.18 1515.8 1584.17 1519.8 1584.17 1523.8 1584.16 1527.8 1584.15 1531.8 1584.14 1535.8 1584.13 1539.8 1584.12 1543.8 1584.11 1547.8 1584.10 1551.8 1584.09 1555.8 1584.08 1559.8 1584.08 1563.8 1584.07 1567.8 1584.06 1571.8 1584.05 1575.8 1584.04 1579.8 1584.03 1583.8 1584.02 1587.8 1584.01 1591.8 1584.00 1595.8 1583.99 1599.8 1583.98 1603.8 1583.98 1607.8 1583.97 1611.8 1583.96 1615.8 1583.95 1619.8 1583.94 1623.8 1583.93 1627.8 1583.92 1631.8 1583.91 1635.8 1583.90 1639.8 1583.89 1643.8 1583.88 1647.8 1583.88 1651.8 1583.87 1655.8 1583.86 1659.8 1583.85 1663.8 1583.84 1667.8 1583.83 1671.8 1583.82 1675.8 1583.81 1679.8 1583.80 1683.8 1583.79 1687.8 1583.78 1691.8 1583.78 1695.8 1583.77 1699.8 1583.76 1703.8 1583.75 1707.8 1583.74 1711.8 1583.73 1715.8 1583.72 1719.8 1583.71 1723.8 1583.70 1727.8 1583.69 1731.8 1583.69 1735.8 1583.68 1739.8 1583.67 1743.8 1583.66 1747.8 1583.65 1751.8 1583.64 1755.8 1583.63 1759.8 1583.62 1763.8 1583.61 1767.8 1583.60 1771.8 1583.59 1775.8 1583.59 1779.8 1583.58 1783.8 1583.57 1787.8 1583.56 1791.8 1583.55 1795.8 1583.54 1799.8 1583.53 1803.8 1583.52 1807.8 1583.51 1811.8 1583.50 1815.8 1583.49 1819.8 1583.49 1823.8 1583.48 1827.8 1583.47 1831.8 1583.46 1835.8 1583.45 1839.8 1583.44 1843.8 1583.43 1847.8 1583.42 1851.8 1583.41 1855.8 1583.40 1859.8 1583.40 1863.8 1583.39 1867.8 1583.38 1871.8 1583.37 1875.8 1583.36 1879.8 1583.35 1883.8 1583.34 1887.8 1583.33 1891.8 1583.32 1895.8 1583.31 1899.8 1583.30 1903.8 1583.30 1907.8 1583.29 1911.8 1583.28 1915.8 1583.27 1919.8 1583.26 1923.8 1583.25 1927.8 1583.24 1931.8 1583.23 1935.8 1583.22 1939.8 1583.21 1943.8 1583.20 1947.8 1583.20 1951.8 1583.19 1955.8 1583.18 1959.8 1583.17 1963.8 1583.16 1967.8 1583.15 1971.8 1583.14 1975.8 1583.13 1979.8 1583.12 1983.8 1583.11 1987.8 1583.10 1991.8 1583.10 1995.8 1583.09 1999.8 1583.08 2003.8 1583.07 2007.8 1583.06 2011.8 1583.05 2015.8 1583.04"/><path d="M291.8 1586.78 295.8 1586.76 299.8 1586.74 303.8 1586.72 307.8 1586.70 311.8 1586.67 315.8 1586.65 319.8 1586.63 323.8 1586.60 327.8 1586.58 331.8 1586.55 335.8 1586.53 339.8 1586.50 343.8 1586.47 347.8 1586.44 351.8 1586.41 355.8 1586.38 359.8 1586.35 363.8 1586.31 367.8 1586.28 371.8 1586.24 375.8 1586.21 379.8 1586.17 383.8 1586.13 387.8 1586.09 391.8 1586.05 395.8 1586.00 399.8 1585.96 403.8 1585.91 407.8 1585.86 411.8 1585.81 415.8 1585.76 419.8 1585.70 423.8 1585.64 427.8 1585.59 431.8 1585.52 435.8 1585.46 439.8 1585.40 443.8 1585.33 447.8 1585.26 451.8 1585.19 455.8 1585.11 459.8 1585.03 463.8 1584.95 467.8 1584.87 471.8 1584.79 475.8 1584.70 479.8 1584.61 483.8 1584.51 487.8 1584.41 491.8 1584.31 495.8 1584.21 499.8 1584.10 503.8 1583.99 507.8 1583.87 511.8 1583.75 515.8 1583.63 519.8 1583.50 523.8 1583.37 527.8 1583.24 531.8 1583.10 535.8 1582.95 539.8 1582.81 543.8 1582.66 547.8 1582.50 551.8 1582.34 555.8 1582.17 559.8 1582.00 563.8 1581.83 567.8 1581.65 571.8 1581.46 575.8 1581.27 579.8 1581.07 583.8 1580.87 587.8 1580.67 591.8 1580.46 595.8 1580.24 599.8 1580.02 603.8 1579.79 607.8 1579.55 611.8 1579.31 615.8 1579.07 619.8 1578.82 623.8 1578.56 627.8 1578.30 631.8 1578.03 635.8 1577.75 639.8 1577.47 643.8 1577.19 647.8 1576.89 651.8 1576.60 655.8 1576.29 659.8 1575.98 663.8 1575.66 667.8 1575.34 671.8 1575.01 675.8 1574.68 679.8 1574.33 683.8 1573.99 687.8 1573.63 691.8 1573.28 695.8 1572.91 699.8 1572.54 703.8 1572.16 707.8 1571.78 711.8 1571.40 715.8 1571.00 719.8 1570.60 723.8 1570.20 727.8 1569.79 731.8 1569.38 735.8 1568.96 739.8 1568.54 743.8 1568.11 747.8 1567.68 751.8 1567.24 755.8 1566.80 759.8 1566.35 763.8 1565.91 767.8 1565.45 771.8 1565.00 775.8 1564.54 779.8 1564.08 783.8 1563.61 787.8 1563.15 791.8 1562.68 795.8 1562.20 799.8 1561.73 803.8 1561.26 807.8 1560.78 811.8 1560.30 815.8 1559.82 819.8 1559.34 823.8 1558.86 827.8 1558.39 831.8 1557.91 835.8 1557.43 839.8 1556.95 843.8 1556.48 847.8 1556.00 851.8 1555.53 855.8 1555.06 859.8 1554.59 863.8 1554.12 867.8 1553.66 871.8 1553.20 875.8 1552.75 879.8 1552.30 883.8 1551.85 887.8 1551.41 891.8 1550.97 895.8 1550.54 899.8 1550.12 903.8 1549.70 907.8 1549.28 911.8 1548.88 915.8 1548.48 919.8 1548.09 923.8 1547.70 927.8 1547.33 931.8 1546.96 935.8 1546.60 939.8 1546.25 943.8 1545.91 947.8 1545.58 951.8 1545.25 955.8 1544.94 959.8 1544.64 963.8 1544.35 967.8 1544.07 971.8 1543.80 975.8 1543.54 979.8 1543.29 983.8 1543.06 987.8 1542.83 991.8 1542.62 995.8 1542.42 999.8 1542.24 1003.8 1542.06 1007.8 1541.90 1011.8 1541.75 1015.8 1541.61 1019.8 1541.49 1023.8 1541.38 1027.8 1541.29 1031.8 1541.20 1035.8 1541.13 1039.8 1541.08 1043.8 1541.03 1047.8 1541.01 1051.8 1540.99 1055.8 1540.99 1059.8 1541.00 1063.8 1541.02 1067.8 1541.05 1071.8 1541.09 1075.8 1541.15 1079.8 1541.22 1083.8 1541.30 1087.8 1541.39 1091.8 1541.49 1095.8 1541.60 1099.8 1541.73 1103.8 1541.86 1107.8 1542.01 1111.8 1542.17 1115.8 1542.33 1119.8 1542.51 1123.8 1542.70 1127.8 1542.90 1131.8 1543.11 1135.8 1543.33 1139.8 1543.56 1143.8 1543.80 1147.8 1544.05 1151.8 1544.30 1155.8 1544.57 1159.8 1544.85 1163.8 1545.13 1167.8 1545.42 1171.8 1545.72 1175.8 1546.03 1179.8 1546.35 1183.8 1546.67 1187.8 1547.00 1191.8 1547.34 1195.8 1547.68 1199.8 1548.04 1203.8 1548.39 1207.8 1548.76 1211.8 1549.12 1215.8 1549.50 1219.8 1549.88 1223.8 1550.26 1227.8 1550.65 1231.8 1551.05 1235.8 1551.44 1239.8 1551.85 1243.8 1552.25 1247.8 1552.66 1251.8 1553.07 1255.8 1553.49 1259.8 1553.90 1263.8 1554.32 1267.8 1554.74 1271.8 1555.17 1275.8 1555.59 1279.8 1556.02 1283.8 1556.44 1287.8 1556.87 1291.8 1557.30 1295.8 1557.73 1299.8 1558.16 1303.8 1558.59 1307.8 1559.01 1311.8 1559.44 1315.8 1559.87 1319.8 1560.29 1323.8 1560.72 1327.8 1561.14 1331.8 1561.56 1335.8 1561.98 1339.8 1562.40 1343.8 1562.81 1347.8 1563.23 1351.8 1563.64 1355.8 1564.04 1359.8 1564.45 1363.8 1564.85 1367.8 1565.25 1371.8 1565.64 1375.8 1566.03 1379.8 1566.42 1383.8 1566.80 1387.8 1567.18 1391.8 1567.56 1395.8 1567.93 1399.8 1568.29 1403.8 1568.66 1407.8 1569.02 1411.8 1569.37 1415.8 1569.72 1419.8 1570.06 1423.8 1570.40 1427.8 1570.74 1431.8 1571.07 1435.8 1571.39 1439.8 1571.71 1443.8 1572.03 1447.8 1572.34 1451.8 1572.64 1455.8 1572.94 1459.8 1573.23 1463.8 1573.52 1467.8 1573.81 1471.8 1574.08 1475.8 1574.36 1479.8 1574.63 1483.8 1574.89 1487.8 1575.15 1491.8 1575.40 1495.8 1575.64 1499.8 1575.89 1503.8 1576.12 1507.8 1576.35 1511.8 1576.58 1515.8 1576.80 1519.8 1577.02 1523.8 1577.23 1527.8 1577.44 1531.8 1577.64 1535.8 1577.83 1539.8 1578.02 1543.8 1578.21 1547.8 1578.39 1551.8 1578.57 1555.8 1578.74 1559.8 1578.91 1563.8 1579.07 1567.8 1579.23 1571.8 1579.39 1575.8 1579.54 1579.8 1579.68 1583.8 1579.82 1587.8 1579.96 1591.8 1580.09 1595.8 1580.22 1599.8 1580.35 1603.8 1580.47 1607.8 1580.59 1611.8 1580.70 1615.8 1580.81 1619.8 1580.92 1623.8 1581.02 1627.8 1581.12 1631.8 1581.22 1635.8 1581.31 1639.8 1581.40 1643.8 1581.49 1647.8 1581.57 1651.8 1581.65 1655.8 1581.73 1659.8 1581.81 1663.8 1581.88 1667.8 1581.95 1671.8 1582.02 1675.8 1582.08 1679.8 1582.14 1683.8 1582.20 1687.8 1582.26 1691.8 1582.31 1695.8 1582.36 1699.8 1582.41 1703.8 1582.46 1707.8 1582.51 1711.8 1582.55 1715.8 1582.59 1719.8 1582.63 1723.8 1582.67 1727.8 1582.71 1731.8 1582.74 1735.8 1582.77 1739.8 1582.81 1743.8 1582.84 1747.8 1582.86 1751.8 1582.89 1755.8 1582.91 1759.8 1582.94 1763.8 1582.96 1767.8 1582.98 1771.8 1583.00 1775.8 1583.02 1779.8 1583.04 1783.8 1583.05 1787.8 1583.07 1791.8 1583.08 1795.8 1583.10 1799.8 1583.11 1803.8 1583.12 1807.8 1583.13 1811.8 1583.14 1815.8 1583.15 1819.8 1583.16 1823.8 1583.17 1827.8 1583.17 1831.8 1583.18 1835.8 1583.18 1839.8 1583.19 1843.8 1583.19 1847.8 1583.20 1851.8 1583.20 1855.8 1583.20 1859.8 1583.20 1863.8 1583.20 1867.8 1583.20 1871.8 1583.20 1875.8 1583.20 1879.8 1583.20 1883.8 1583.20 1887.8 1583.20 1891.8 1583.20 1895.8 1583.20 1899.8 1583.19 1903.8 1583.19 1907.8 1583.19 1911.8 1583.18 1915.8 1583.18 1919.8 1583.18 1923.8 1583.17 1927.8 1583.17 1931.8 1583.16 1935.8 1583.16 1939.8 1583.15 1943.8 1583.15 1947.8 1583.14 1951.8 1583.13 1955.8 1583.13 1959.8 1583.12 1963.8 1583.12 1967.8 1583.11 1971.8 1583.10 1975.8 1583.10 1979.8 1583.09 1983.8 1583.08 1987.8 1583.07 1991.8 1583.07 1995.8 1583.06 1999.8 1583.05 2003.8 1583.05 2007.8 1583.04 2011.8 1583.03 2015.8 1583.02"/><path d="M291.8 1811.53 295.8 1811.50 299.8 1811.47 303.8 1811.44 307.8 1811.41 311.8 1811.37 315.8 1811.33 319.8 1811.28 323.8 1811.23 327.8 1811.18 331.8 1811.12 335.8 1811.06 339.8 1810.99 343.8 1810.92 347.8 1810.84 351.8 1810.76 355.8 1810.66 359.8 1810.56 363.8 1810.46 367.8 1810.34 371.8 1810.21 375.8 1810.08 379.8 1809.93 383.8 1809.77 387.8 1809.60 391.8 1809.42 395.8 1809.22 399.8 1809.01 403.8 1808.78 407.8 1808.54 411.8 1808.28 415.8 1808.00 419.8 1807.70 423.8 1807.39 427.8 1807.05 431.8 1806.69 435.8 1806.31 439.8 1805.91 443.8 1805.48 447.8 1805.03 451.8 1804.54 455.8 1804.04 459.8 1803.50 463.8 1802.93 467.8 1802.34 471.8 1801.71 475.8 1801.05 479.8 1800.36 483.8 1799.64 487.8 1798.88 491.8 1798.09 495.8 1797.26 499.8 1796.40 503.8 1795.50 507.8 1794.56 511.8 1793.59 515.8 1792.58 519.8 1791.54 523.8 1790.46 527.8 1789.35 531.8 1788.20 535.8 1787.01 539.8 1785.79 543.8 1784.54 547.8 1783.26 551.8 1781.94 555.8 1780.60 559.8 1779.22 563.8 1777.82 567.8 1776.40 571.8 1774.95 575.8 1773.48 579.8 1771.99 583.8 1770.49 587.8 1768.97 591.8 1767.44 595.8 1765.90 599.8 1764.35 603.8 1762.80 607.8 1761.26 611.8 1759.71 615.8 1758.17 619.8 1756.65 623.8 1755.13 627.8 1753.64 631.8 1752.16 635.8 1750.71 639.8 1749.28 643.8 1747.89 647.8 1746.53 651.8 1745.21 655.8 1743.93 659.8 1742.70 663.8 1741.51 667.8 1740.38 671.8 1739.30 675.8 1738.28 679.8 1737.32 683.8 1736.43 687.8 1735.60 691.8 1734.84 695.8 1734.15 699.8 1733.53 703.8 1732.99 707.8 1732.52 711.8 1732.14 715.8 1731.83 719.8 1731.60 723.8 1731.45 727.8 1731.38 731.8 1731.40 735.8 1731.50 739.8 1731.69 743.8 1731.97 747.8 1732.33 751.8 1732.78 755.8 1733.31 759.8 1733.93 763.8 1734.62 767.8 1735.39 771.8 1736.24 775.8 1737.16 779.8 1738.15 783.8 1739.20 787.8 1740.32 791.8 1741.49 795.8 1742.73 799.8 1744.01 803.8 1745.34 807.8 1746.72 811.8 1748.14 815.8 1749.59 819.8 1751.07 823.8 1752.59 827.8 1754.13 831.8 1755.69 835.8 1757.26 839.8 1758.85 843.8 1760.44 847.8 1762.04 851.8 1763.64 855.8 1765.24 859.8 1766.84 863.8 1768.42 867.8 1769.99 871.8 1771.55 875.8 1773.09 879.8 1774.60 883.8 1776.10 887.8 1777.57 891.8 1779.01 895.8 1780.42 899.8 1781.80 903.8 1783.15 907.8 1784.46 911.8 1785.74 915.8 1786.99 919.8 1788.19 923.8 1789.36 927.8 1790.48 931.8 1791.57 935.8 1792.62 939.8 1793.63 943.8 1794.60 947.8 1795.54 951.8 1796.43 955.8 1797.28 959.8 1798.10 963.8 1798.88 967.8 1799.62 971.8 1800.33 975.8 1801.00 979.8 1801.63 983.8 1802.24 987.8 1802.81 991.8 1803.34 995.8 1803.85 999.8 1804.33 1003.8 1804.78 1007.8 1805.20 1011.8 1805.60 1015.8 1805.97 1019.8 1806.32 1023.8 1806.65 1027.8 1806.95 1031.8 1807.23 1035.8 1807.49 1039.8 1807.74 1043.8 1807.96 1047.8 1808.17 1051.8 1808.37 1055.8 1808.55 1059.8 1808.71 1063.8 1808.86 1067.8 1809.00 1071.8 1809.13 1075.8 1809.25 1079.8 1809.36 1083.8 1809.45 1087.8 1809.54 1091.8 1809.62 1095.8 1809.70 1099.8 1809.76 1103.8 1809.83 1107.8 1809.88 1111.8 1809.93 1115.8 1809.97 1119.8 1810.01 1123.8 1810.05 1127.8 1810.08 1131.8 1810.11 1135.8 1810.13 1139.8 1810.15 1143.8 1810.17 1147.8 1810.19 1151.8 1810.20 1155.8 1810.21 1159.8 1810.22 1163.8 1810.23 1167.8 1810.24 1171.8 1810.24 1175.8 1810.25 1179.8 1810.25 1183.8 1810.25 1187.8 1810.25 1191.8 1810.25 1195.8 1810.25 1199.8 1810.25 1203.8 1810.25 1207.8 1810.25 1211.8 1810.24 1215.8 1810.24 1219.8 1810.24 1223.8 1810.23 1227.8 1810.23 1231.8 1810.22 1235.8 1810.22 1239.8 1810.22 1243.8 1810.21 1247.8 1810.20 1251.8 1810.20 1255.8 1810.19 1259.8 1810.19 1263.8 1810.18 1267.8 1810.18 1271.8 1810.17 1275.8 1810.17 1279.8 1810.16 1283.8 1810.15 1287.8 1810.15 1291.8 1810.14 1295.8 1810.14 1299.8 1810.13 1303.8 1810.12 1307.8 1810.12 1311.8 1810.11 1315.8 1810.10 1319.8 1810.10 1323.8 1810.09 1327.8 1810.09 1331.8 1810.08 1335.8 1810.07 1339.8 1810.07 1343.8 1810.06 1347.8 1810.05 1351.8 1810.05 1355.8 1810.04 1359.8 1810.04 1363.8 1810.03 1367.8 1810.02 1371.8 1810.02 1375.8 1810.01 1379.8 1810.00 1383.8 1810.00 1387.8 1809.99 1391.8 1809.99 1395.8 1809.98 1399.8 1809.97 1403.8 1809.97 1407.8 1809.96 1411.8 1809.95 1415.8 1809.95 1419.8 1809.94 1423.8 1809.94 1427.8 1809.93 1431.8 1809.92 1435.8 1809.92 1439.8 1809.91 1443.8 1809.90 1447.8 1809.90 1451.8 1809.89 1455.8 1809.89 1459.8 1809.88 1463.8 1809.87 1467.8 1809.87 1471.8 1809.86 1475.8 1809.85 1479.8 1809.85 1483.8 1809.84 1487.8 1809.84 1491.8 1809.83 1495.8 1809.82 1499.8 1809.82 1503.8 1809.81 1507.8 1809.80 1511.8 1809.80 1515.8 1809.79 1519.8 1809.79 1523.8 1809.78 1527.8 1809.77 1531.8 1809.77 1535.8 1809.76 1539.8 1809.75 1543.8 1809.75 1547.8 1809.74 1551.8 1809.73 1555.8 1809.73 1559.8 1809.72 1563.8 1809.72 1567.8 1809.71 1571.8 1809.70 1575.8 1809.70 1579.8 1809.69 1583.8 1809.68 1587.8 1809.68 1591.8 1809.67 1595.8 1809.67 1599.8 1809.66 1603.8 1809.65 1607.8 1809.65 1611.8 1809.64 1615.8 1809.63 1619.8 1809.63 1623.8 1809.62 1627.8 1809.62 1631.8 1809.61 1635.8 1809.60 1639.8 1809.60 1643.8 1809.59 1647.8 1809.58 1651.8 1809.58 1655.8 1809.57 1659.8 1809.57 1663.8 1809.56 1667.8 1809.55 1671.8 1809.55 1675.8 1809.54 1679.8 1809.53 1683.8 1809.53 1687.8 1809.52 1691.8 1809.52 1695.8 1809.51 1699.8 1809.50 1703.8 1809.50 1707.8 1809.49 1711.8 1809.48 1715.8 1809.48 1719.8 1809.47 1723.8 1809.46 1727.8 1809.46 1731.8 1809.45 1735.8 1809.45 1739.8 1809.44 1743.8 1809.43 1747.8 1809.43 1751.8 1809.42 1755.8 1809.41 1759.8 1809.41 1763.8 1809.40 1767.8 1809.40 1771.8 1809.39 1775.8 1809.38 1779.8 1809.38 1783.8 1809.37 1787.8 1809.36 1791.8 1809.36 1795.8 1809.35 1799.8 1809.35 1803.8 1809.34 1807.8 1809.33 1811.8 1809.33 1815.8 1809.32 1819.8 1809.31 1823.8 1809.31 1827.8 1809.30 1831.8 1809.30 1835.8 1809.29 1839.8 1809.28 1843.8 1809.28 1847.8 1809.27 1851.8 1809.26 1855.8 1809.26 1859.8 1809.25 1863.8 1809.25 1867.8 1809.24 1871.8 1809.23 1875.8 1809.23 1879.8 1809.22 1883.8 1809.21 1887.8 1809.21 1891.8 1809.20 1895.8 1809.19 1899.8 1809.19 1903.8 1809.18 1907.8 1809.18 1911.8 1809.17 1915.8 1809.16 1919.8 1809.16 1923.8 1809.15 1927.8 1809.14 1931.8 1809.14 1935.8 1809.13 1939.8 1809.13 1943.8 1809.12 1947.8 1809.11 1951.8 1809.11 1955.8 1809.10 1959.8 1809.09 1963.8 1809.09 1967.8 1809.08 1971.8 1809.08 1975.8 1809.07 1979.8 1809.06 1983.8 1809.06 1987.8 1809.05 1991.8 1809.04 1995.8 1809.04 1999.8 1809.03 2003.8 1809.03 2007.8 1809.02 2011.8 1809.01 2015.8 1809.01"/><path d="M291.8 1805.08 295.8 1804.86 299.8 1804.63 303.8 1804.39 307.8 1804.15 311.8 1803.90 315.8 1803.65 319.8 1803.39 323.8 1803.12 327.8 1802.85 331.8 1802.57 335.8 1802.29 339.8 1802.00 343.8 1801.70 347.8 1801.39 351.8 1801.08 355.8 1800.76 359.8 1800.44 363.8 1800.11 367.8 1799.77 371.8 1799.42 375.8 1799.07 379.8 1798.71 383.8 1798.34 387.8 1797.97 391.8 1797.59 395.8 1797.20 399.8 1796.80 403.8 1796.40 407.8 1795.99 411.8 1795.57 415.8 1795.15 419.8 1794.71 423.8 1794.27 427.8 1793.83 431.8 1793.37 435.8 1792.91 439.8 1792.44 443.8 1791.96 447.8 1791.48 451.8 1790.99 455.8 1790.49 459.8 1789.99 463.8 1789.47 467.8 1788.95 471.8 1788.43 475.8 1787.89 479.8 1787.35 483.8 1786.80 487.8 1786.25 491.8 1785.69 495.8 1785.12 499.8 1784.55 503.8 1783.97 507.8 1783.38 511.8 1782.79 515.8 1782.19 519.8 1781.59 523.8 1780.98 527.8 1780.36 531.8 1779.74 535.8 1779.12 539.8 1778.48 543.8 1777.85 547.8 1777.21 551.8 1776.56 555.8 1775.91 559.8 1775.26 563.8 1774.60 567.8 1773.94 571.8 1773.28 575.8 1772.61 579.8 1771.94 583.8 1771.27 587.8 1770.59 591.8 1769.91 595.8 1769.23 599.8 1768.55 603.8 1767.87 607.8 1767.18 611.8 1766.50 615.8 1765.81 619.8 1765.12 623.8 1764.44 627.8 1763.75 631.8 1763.06 635.8 1762.38 639.8 1761.69 643.8 1761.01 647.8 1760.33 651.8 1759.65 655.8 1758.97 659.8 1758.30 663.8 1757.63 667.8 1756.96 671.8 1756.30 675.8 1755.64 679.8 1754.98 683.8 1754.33 687.8 1753.69 691.8 1753.05 695.8 1752.41 699.8 1751.79 703.8 1751.16 707.8 1750.55 711.8 1749.94 715.8 1749.34 719.8 1748.75 723.8 1748.16 727.8 1747.58 731.8 1747.02 735.8 1746.46 739.8 1745.91 743.8 1745.37 747.8 1744.84 751.8 1744.32 755.8 1743.81 759.8 1743.31 763.8 1742.82 767.8 1742.35 771.8 1741.88 775.8 1741.43 779.8 1740.99 783.8 1740.56 787.8 1740.15 791.8 1739.75 795.8 1739.36 799.8 1738.98 803.8 1738.62 807.8 1738.27 811.8 1737.94 815.8 1737.62 819.8 1737.32 823.8 1737.03 827.8 1736.76 831.8 1736.50 835.8 1736.25 839.8 1736.02 843.8 1735.81 847.8 1735.61 851.8 1735.43 855.8 1735.27 859.8 1735.12 863.8 1734.99 867.8 1734.87 871.8 1734.77 875.8 1734.68 879.8 1734.62 883.8 1734.56 887.8 1734.53 891.8 1734.51 895.8 1734.51 899.8 1734.52 903.8 1734.55 907.8 1734.59 911.8 1734.65 915.8 1734.72 919.8 1734.81 923.8 1734.91 927.8 1735.03 931.8 1735.16 935.8 1735.31 939.8 1735.47 943.8 1735.64 947.8 1735.83 951.8 1736.04 955.8 1736.25 959.8 1736.49 963.8 1736.73 967.8 1736.99 971.8 1737.26 975.8 1737.55 979.8 1737.85 983.8 1738.16 987.8 1738.48 991.8 1738.82 995.8 1739.17 999.8 1739.53 1003.8 1739.91 1007.8 1740.29 1011.8 1740.69 1015.8 1741.10 1019.8 1741.52 1023.8 1741.95 1027.8 1742.39 1031.8 1742.84 1035.8 1743.31 1039.8 1743.78 1043.8 1744.26 1047.8 1744.75 1051.8 1745.25 1055.8 1745.76 1059.8 1746.28 1063.8 1746.80 1067.8 1747.34 1071.8 1747.88 1075.8 1748.43 1079.8 1748.98 1083.8 1749.55 1087.8 1750.12 1091.8 1750.69 1095.8 1751.28 1099.8 1751.86 1103.8 1752.46 1107.8 1753.06 1111.8 1753.66 1115.8 1754.27 1119.8 1754.88 1123.8 1755.50 1127.8 1756.12 1131.8 1756.74 1135.8 1757.36 1139.8 1757.99 1143.8 1758.63 1147.8 1759.26 1151.8 1759.90 1155.8 1760.53 1159.8 1761.17 1163.8 1761.81 1167.8 1762.46 1171.8 1763.10 1175.8 1763.74 1179.8 1764.38 1183.8 1765.03 1187.8 1765.67 1191.8 1766.31 1195.8 1766.95 1199.8 1767.59 1203.8 1768.23 1207.8 1768.86 1211.8 1769.50 1215.8 1770.13 1219.8 1770.76 1223.8 1771.39 1227.8 1772.02 1231.8 1772.64 1235.8 1773.26 1239.8 1773.87 1243.8 1774.49 1247.8 1775.10 1251.8 1775.70 1255.8 1776.30 1259.8 1776.90 1263.8 1777.49 1267.8 1778.08 1271.8 1778.67 1275.8 1779.24 1279.8 1779.82 1283.8 1780.39 1287.8 1780.95 1291.8 1781.51 1295.8 1782.06 1299.8 1782.61 1303.8 1783.15 1307.8 1783.69 1311.8 1784.22 1315.8 1784.75 1319.8 1785.26 1323.8 1785.78 1327.8 1786.28 1331.8 1786.78 1335.8 1787.28 1339.8 1787.76 1343.8 1788.25 1347.8 1788.72 1351.8 1789.19 1355.8 1789.65 1359.8 1790.11 1363.8 1790.55 1367.8 1791.00 1371.8 1791.43 1375.8 1791.86 1379.8 1792.28 1383.8 1792.70 1387.8 1793.11 1391.8 1793.51 1395.8 1793.90 1399.8 1794.29 1403.8 1794.67 1407.8 1795.05 1411.8 1795.42 1415.8 1795.78 1419.8 1796.13 1423.8 1796.48 1427.8 1796.82 1431.8 1797.16 1435.8 1797.49 1439.8 1797.81 1443.8 1798.13 1447.8 1798.44 1451.8 1798.74 1455.8 1799.04 1459.8 1799.33 1463.8 1799.61 1467.8 1799.89 1471.8 1800.17 1475.8 1800.43 1479.8 1800.69 1483.8 1800.95 1487.8 1801.20 1491.8 1801.44 1495.8 1801.68 1499.8 1801.91 1503.8 1802.14 1507.8 1802.36 1511.8 1802.58 1515.8 1802.79 1519.8 1803.00 1523.8 1803.20 1527.8 1803.39 1531.8 1803.58 1535.8 1803.77 1539.8 1803.95 1543.8 1804.13 1547.8 1804.30 1551.8 1804.46 1555.8 1804.63 1559.8 1804.78 1563.8 1804.94 1567.8 1805.09 1571.8 1805.23 1575.8 1805.37 1579.8 1805.51 1583.8 1805.64 1587.8 1805.77 1591.8 1805.90 1595.8 1806.02 1599.8 1806.14 1603.8 1806.25 1607.8 1806.36 1611.8 1806.47 1615.8 1806.58 1619.8 1806.68 1623.8 1806.77 1627.8 1806.87 1631.8 1806.96 1635.8 1807.05 1639.8 1807.13 1643.8 1807.22 1647.8 1807.30 1651.8 1807.37 1655.8 1807.45 1659.8 1807.52 1663.8 1807.59 1667.8 1807.66 1671.8 1807.72 1675.8 1807.79 1679.8 1807.85 1683.8 1807.90 1687.8 1807.96 1691.8 1808.01 1695.8 1808.07 1699.8 1808.11 1703.8 1808.16 1707.8 1808.21 1711.8 1808.25 1715.8 1808.30 1719.8 1808.34 1723.8 1808.38 1727.8 1808.41 1731.8 1808.45 1735.8 1808.48 1739.8 1808.52 1743.8 1808.55 1747.8 1808.58 1751.8 1808.61 1755.8 1808.63 1759.8 1808.66 1763.8 1808.69 1767.8 1808.71 1771.8 1808.73 1775.8 1808.75 1779.8 1808.77 1783.8 1808.79 1787.8 1808.81 1791.8 1808.83 1795.8 1808.85 1799.8 1808.86 1803.8 1808.88 1807.8 1808.89 1811.8 1808.90 1815.8 1808.92 1819.8 1808.93 1823.8 1808.94 1827.8 1808.95 1831.8 1808.96 1835.8 1808.97 1839.8 1808.98 1843.8 1808.98 1847.8 1808.99 1851.8 1809.00 1855.8 1809.00 1859.8 1809.01 1863.8 1809.01 1867.8 1809.02 1871.8 1809.02 1875.8 1809.03 1879.8 1809.03 1883.8 1809.03 1887.8 1809.03 1891.8 1809.04 1895.8 1809.04 1899.8 1809.04 1903.8 1809.04 1907.8 1809.04 1911.8 1809.04 1915.8 1809.04 1919.8 1809.04 1923.8 1809.04 1927.8 1809.04 1931.8 1809.04 1935.8 1809.04 1939.8 1809.04 1943.8 1809.03 1947.8 1809.03 1951.8 1809.03 1955.8 1809.03 1959.8 1809.03 1963.8 1809.02 1967.8 1809.02 1971.8 1809.02 1975.8 1809.01 1979.8 1809.01 1983.8 1809.01 1987.8 1809.00 1991.8 1809.00 1995.8 1809.00 1999.8 1808.99 2003.8 1808.99 2007.8 1808.98 2011.8 1808.98 2015.8 1808.97"/><path d="M291.8 1952.66 295.8 1952.67 299.8 1952.67 303.8 1952.68 307.8 1952.68 311.8 1952.69 315.8 1952.69 319.8 1952.70 323.8 1952.70 327.8 1952.71 331.8 1952.71 335.8 1952.72 339.8 1952.72 343.8 1952.72 347.8 1952.73 351.8 1952.73 355.8 1952.74 359.8 1952.74 363.8 1952.74 367.8 1952.75 371.8 1952.75 375.8 1952.75 379.8 1952.76 383.8 1952.76 387.8 1952.76 391.8 1952.76 395.8 1952.76 399.8 1952.76 403.8 1952.76 407.8 1952.76 411.8 1952.76 415.8 1952.76 419.8 1952.76 423.8 1952.76 427.8 1952.75 431.8 1952.75 435.8 1952.74 439.8 1952.74 443.8 1952.73 447.8 1952.72 451.8 1952.71 455.8 1952.70 459.8 1952.69 463.8 1952.67 467.8 1952.66 471.8 1952.64 475.8 1952.62 479.8 1952.60 483.8 1952.57 487.8 1952.55 491.8 1952.52 495.8 1952.49 499.8 1952.45 503.8 1952.41 507.8 1952.37 511.8 1952.33 515.8 1952.28 519.8 1952.23 523.8 1952.17 527.8 1952.11 531.8 1952.05 535.8 1951.98 539.8 1951.91 543.8 1951.83 547.8 1951.74 551.8 1951.65 555.8 1951.55 559.8 1951.45 563.8 1951.33 567.8 1951.22 571.8 1951.09 575.8 1950.96 579.8 1950.81 583.8 1950.66 587.8 1950.50 591.8 1950.33 595.8 1950.16 599.8 1949.97 603.8 1949.77 607.8 1949.56 611.8 1949.34 615.8 1949.11 619.8 1948.87 623.8 1948.61 627.8 1948.35 631.8 1948.07 635.8 1947.77 639.8 1947.47 643.8 1947.15 647.8 1946.82 651.8 1946.47 655.8 1946.11 659.8 1945.74 663.8 1945.35 667.8 1944.95 671.8 1944.53 675.8 1944.10 679.8 1943.65 683.8 1943.19 687.8 1942.71 691.8 1942.22 695.8 1941.72 699.8 1941.20 703.8 1940.67 707.8 1940.12 711.8 1939.56 715.8 1938.98 719.8 1938.39 723.8 1937.79 727.8 1937.18 731.8 1936.56 735.8 1935.92 739.8 1935.28 743.8 1934.62 747.8 1933.95 751.8 1933.28 755.8 1932.60 759.8 1931.91 763.8 1931.22 767.8 1930.52 771.8 1929.81 775.8 1929.11 779.8 1928.40 783.8 1927.69 787.8 1926.98 791.8 1926.27 795.8 1925.56 799.8 1924.86 803.8 1924.16 807.8 1923.47 811.8 1922.78 815.8 1922.11 819.8 1921.44 823.8 1920.78 827.8 1920.14 831.8 1919.51 835.8 1918.89 839.8 1918.29 843.8 1917.71 847.8 1917.14 851.8 1916.60 855.8 1916.07 859.8 1915.57 863.8 1915.09 867.8 1914.63 871.8 1914.20 875.8 1913.80 879.8 1913.42 883.8 1913.07 887.8 1912.75 891.8 1912.46 895.8 1912.20 899.8 1911.96 903.8 1911.76 907.8 1911.60 911.8 1911.46 915.8 1911.35 919.8 1911.28 923.8 1911.24 927.8 1911.24 931.8 1911.27 935.8 1911.33 939.8 1911.42 943.8 1911.55 947.8 1911.72 951.8 1911.92 955.8 1912.14 959.8 1912.41 963.8 1912.70 967.8 1913.02 971.8 1913.38 975.8 1913.76 979.8 1914.17 983.8 1914.61 987.8 1915.08 991.8 1915.57 995.8 1916.09 999.8 1916.63 1003.8 1917.19 1007.8 1917.77 1011.8 1918.37 1015.8 1918.99 1019.8 1919.63 1023.8 1920.28 1027.8 1920.95 1031.8 1921.63 1035.8 1922.32 1039.8 1923.02 1043.8 1923.73 1047.8 1924.44 1051.8 1925.17 1055.8 1925.90 1059.8 1926.63 1063.8 1927.36 1067.8 1928.10 1071.8 1928.84 1075.8 1929.57 1079.8 1930.30 1083.8 1931.03 1087.8 1931.76 1091.8 1932.48 1095.8 1933.19 1099.8 1933.89 1103.8 1934.59 1107.8 1935.28 1111.8 1935.96 1115.8 1936.62 1119.8 1937.28 1123.8 1937.92 1127.8 1938.56 1131.8 1939.18 1135.8 1939.78 1139.8 1940.37 1143.8 1940.95 1147.8 1941.52 1151.8 1942.07 1155.8 1942.60 1159.8 1943.12 1163.8 1943.62 1167.8 1944.11 1171.8 1944.59 1175.8 1945.04 1179.8 1945.49 1183.8 1945.91 1187.8 1946.33 1191.8 1946.73 1195.8 1947.11 1199.8 1947.48 1203.8 1947.83 1207.8 1948.17 1211.8 1948.50 1215.8 1948.81 1219.8 1949.11 1223.8 1949.39 1227.8 1949.66 1231.8 1949.92 1235.8 1950.17 1239.8 1950.41 1243.8 1950.63 1247.8 1950.85 1251.8 1951.05 1255.8 1951.24 1259.8 1951.43 1263.8 1951.60 1267.8 1951.77 1271.8 1951.92 1275.8 1952.07 1279.8 1952.21 1283.8 1952.34 1287.8 1952.46 1291.8 1952.58 1295.8 1952.69 1299.8 1952.79 1303.8 1952.89 1307.8 1952.98 1311.8 1953.07 1315.8 1953.15 1319.8 1953.22 1323.8 1953.29 1327.8 1953.36 1331.8 1953.42 1335.8 1953.48 1339.8 1953.53 1343.8 1953.59 1347.8 1953.63 1351.8 1953.68 1355.8 1953.72 1359.8 1953.76 1363.8 1953.80 1367.8 1953.83 1371.8 1953.86 1375.8 1953.89 1379.8 1953.92 1383.8 1953.95 1387.8 1953.97 1391.8 1953.99 1395.8 1954.02 1399.8 1954.04 1403.8 1954.05 1407.8 1954.07 1411.8 1954.09 1415.8 1954.10 1419.8 1954.12 1423.8 1954.13 1427.8 1954.15 1431.8 1954.16 1435.8 1954.17 1439.8 1954.18 1443.8 1954.19 1447.8 1954.20 1451.8 1954.21 1455.8 1954.22 1459.8 1954.23 1463.8 1954.24 1467.8 1954.25 1471.8 1954.26 1475.8 1954.27 1479.8 1954.27 1483.8 1954.28 1487.8 1954.29 1491.8 1954.30 1495.8 1954.30 1499.8 1954.31 1503.8 1954.32 1507.8 1954.32 1511.8 1954.33 1515.8 1954.33 1519.8 1954.34 1523.8 1954.35 1527.8 1954.35 1531.8 1954.36 1535.8 1954.37 1539.8 1954.37 1543.8 1954.38 1547.8 1954.38 1551.8 1954.39 1555.8 1954.39 1559.8 1954.40 1563.8 1954.41 1567.8 1954.41 1571.8 1954.42 1575.8 1954.42 1579.8 1954.43 1583.8 1954.43 1587.8 1954.44 1591.8 1954.45 1595.8 1954.45 1599.8 1954.46 1603.8 1954.46 1607.8 1954.47 1611.8 1954.47 1615.8 1954.48 1619.8 1954.48 1623.8 1954.49 1627.8 1954.49 1631.8 1954.50 1635.8 1954.51 1639.8 1954.51 1643.8 1954.52 1647.8 1954.52 1651.8 1954.53 1655.8 1954.53 1659.8 1954.54 1663.8 1954.54 1667.8 1954.55 1671.8 1954.56 1675.8 1954.56 1679.8 1954.57 1683.8 1954.57 1687.8 1954.58 1691.8 1954.58 1695.8 1954.59 1699.8 1954.59 1703.8 1954.60 1707.8 1954.60 1711.8 1954.61 1715.8 1954.62 1719.8 1954.62 1723.8 1954.63 1727.8 1954.63 1731.8 1954.64 1735.8 1954.64 1739.8 1954.65 1743.8 1954.65 1747.8 1954.66 1751.8 1954.66 1755.8 1954.67 1759.8 1954.68 1763.8 1954.68 1767.8 1954.69 1771.8 1954.69 1775.8 1954.70 1779.8 1954.70 1783.8 1954.71 1787.8 1954.71 1791.8 1954.72 1795.8 1954.73 1799.8 1954.73 1803.8 1954.74 1807.8 1954.74 1811.8 1954.75 1815.8 1954.75 1819.8 1954.76 1823.8 1954.76 1827.8 1954.77 1831.8 1954.77 1835.8 1954.78 1839.8 1954.79 1843.8 1954.79 1847.8 1954.80 1851.8 1954.80 1855.8 1954.81 1859.8 1954.81 1863.8 1954.82 1867.8 1954.82 1871.8 1954.83 1875.8 1954.83 1879.8 1954.84 1883.8 1954.85 1887.8 1954.85 1891.8 1954.86 1895.8 1954.86 1899.8 1954.87 1903.8 1954.87 1907.8 1954.88 1911.8 1954.88 1915.8 1954.89 1919.8 1954.90 1923.8 1954.90 1927.8 1954.91 1931.8 1954.91 1935.8 1954.92 1939.8 1954.92 1943.8 1954.93 1947.8 1954.93 1951.8 1954.94 1955.8 1954.94 1959.8 1954.95 1963.8 1954.96 1967.8 1954.96 1971.8 1954.97 1975.8 1954.97 1979.8 1954.98 1983.8 1954.98 1987.8 1954.99 1991.8 1954.99 1995.8 1955.00 1999.8 1955.00 2003.8 1955.01 2007.8 1955.02 2011.8 1955.02 2015.8 1955.03"/><path d="M291.8 1952.66 295.8 1952.67 299.8 1952.68 303.8 1952.68 307.8 1952.69 311.8 1952.69 315.8 1952.70 319.8 1952.70 323.8 1952.71 327.8 1952.71 331.8 1952.72 335.8 1952.72 339.8 1952.73 343.8 1952.74 347.8 1952.74 351.8 1952.75 355.8 1952.75 359.8 1952.76 363.8 1952.76 367.8 1952.77 371.8 1952.77 375.8 1952.78 379.8 1952.78 383.8 1952.79 387.8 1952.80 391.8 1952.80 395.8 1952.81 399.8 1952.81 403.8 1952.82 407.8 1952.82 411.8 1952.83 415.8 1952.83 419.8 1952.84 423.8 1952.84 427.8 1952.85 431.8 1952.86 435.8 1952.86 439.8 1952.87 443.8 1952.87 447.8 1952.88 451.8 1952.88 455.8 1952.89 459.8 1952.89 463.8 1952.90 467.8 1952.91 471.8 1952.91 475.8 1952.92 479.8 1952.92 483.8 1952.93 487.8 1952.93 491.8 1952.94 495.8 1952.94 499.8 1952.95 503.8 1952.95 507.8 1952.96 511.8 1952.96 515.8 1952.97 519.8 1952.98 523.8 1952.98 527.8 1952.99 531.8 1952.99 535.8 1953.00 539.8 1953.00 543.8 1953.01 547.8 1953.01 551.8 1953.02 555.8 1953.02 559.8 1953.03 563.8 1953.03 567.8 1953.04 571.8 1953.04 575.8 1953.05 579.8 1953.06 583.8 1953.06 587.8 1953.07 591.8 1953.07 595.8 1953.08 599.8 1953.08 603.8 1953.08 607.8 1953.09 611.8 1953.09 615.8 1953.10 619.8 1953.10 623.8 1953.11 627.8 1953.11 631.8 1953.12 635.8 1953.12 639.8 1953.13 643.8 1953.13 647.8 1953.13 651.8 1953.14 655.8 1953.14 659.8 1953.14 663.8 1953.15 667.8 1953.15 671.8 1953.15 675.8 1953.16 679.8 1953.16 683.8 1953.16 687.8 1953.16 691.8 1953.16 695.8 1953.16 699.8 1953.16 703.8 1953.17 707.8 1953.17 711.8 1953.17 715.8 1953.16 719.8 1953.16 723.8 1953.16 727.8 1953.16 731.8 1953.16 735.8 1953.15 739.8 1953.15 743.8 1953.14 747.8 1953.14 751.8 1953.13 755.8 1953.12 759.8 1953.12 763.8 1953.11 767.8 1953.10 771.8 1953.09 775.8 1953.07 779.8 1953.06 783.8 1953.05 787.8 1953.03 791.8 1953.01 795.8 1953.00 799.8 1952.98 803.8 1952.95 807.8 1952.93 811.8 1952.91 815.8 1952.88 819.8 1952.85 823.8 1952.82 827.8 1952.79 831.8 1952.75 835.8 1952.72 839.8 1952.68 843.8 1952.63 847.8 1952.59 851.8 1952.54 855.8 1952.49 859.8 1952.44 863.8 1952.38 867.8 1952.33 871.8 1952.26 875.8 1952.20 879.8 1952.13 883.8 1952.06 887.8 1951.98 891.8 1951.90 895.8 1951.82 899.8 1951.73 903.8 1951.64 907.8 1951.55 911.8 1951.45 915.8 1951.34 919.8 1951.23 923.8 1951.12 927.8 1951.00 931.8 1950.88 935.8 1950.75 939.8 1950.62 943.8 1950.48 947.8 1950.34 951.8 1950.19 955.8 1950.04 959.8 1949.88 963.8 1949.72 967.8 1949.55 971.8 1949.38 975.8 1949.20 979.8 1949.01 983.8 1948.82 987.8 1948.63 991.8 1948.43 995.8 1948.22 999.8 1948.01 1003.8 1947.79 1007.8 1947.57 1011.8 1947.34 1015.8 1947.11 1019.8 1946.87 1023.8 1946.63 1027.8 1946.38 1031.8 1946.13 1035.8 1945.87 1039.8 1945.61 1043.8 1945.34 1047.8 1945.07 1051.8 1944.80 1055.8 1944.52 1059.8 1944.24 1063.8 1943.95 1067.8 1943.67 1071.8 1943.38 1075.8 1943.08 1079.8 1942.79 1083.8 1942.49 1087.8 1942.19 1091.8 1941.89 1095.8 1941.59 1099.8 1941.29 1103.8 1940.99 1107.8 1940.69 1111.8 1940.39 1115.8 1940.09 1119.8 1939.79 1123.8 1939.49 1127.8 1939.19 1131.8 1938.90 1135.8 1938.61 1139.8 1938.32 1143.8 1938.04 1147.8 1937.76 1151.8 1937.48 1155.8 1937.21 1159.8 1936.95 1163.8 1936.69 1167.8 1936.43 1171.8 1936.18 1175.8 1935.94 1179.8 1935.71 1183.8 1935.48 1187.8 1935.26 1191.8 1935.05 1195.8 1934.85 1199.8 1934.66 1203.8 1934.47 1207.8 1934.30 1211.8 1934.13 1215.8 1933.98 1219.8 1933.83 1223.8 1933.70 1227.8 1933.58 1231.8 1933.47 1235.8 1933.37 1239.8 1933.28 1243.8 1933.20 1247.8 1933.13 1251.8 1933.08 1255.8 1933.04 1259.8 1933.01 1263.8 1932.99 1267.8 1932.99 1271.8 1933.00 1275.8 1933.02 1279.8 1933.05 1283.8 1933.10 1287.8 1933.17 1291.8 1933.25 1295.8 1933.34 1299.8 1933.45 1303.8 1933.57 1307.8 1933.70 1311.8 1933.85 1315.8 1934.01 1319.8 1934.18 1323.8 1934.36 1327.8 1934.56 1331.8 1934.77 1335.8 1934.99 1339.8 1935.21 1343.8 1935.45 1347.8 1935.70 1351.8 1935.96 1355.8 1936.23 1359.8 1936.50 1363.8 1936.79 1367.8 1937.08 1371.8 1937.38 1375.8 1937.68 1379.8 1937.99 1383.8 1938.30 1387.8 1938.62 1391.8 1938.95 1395.8 1939.28 1399.8 1939.61 1403.8 1939.94 1407.8 1940.28 1411.8 1940.61 1415.8 1940.95 1419.8 1941.29 1423.8 1941.63 1427.8 1941.97 1431.8 1942.31 1435.8 1942.65 1439.8 1942.98 1443.8 1943.32 1447.8 1943.65 1451.8 1943.98 1455.8 1944.30 1459.8 1944.63 1463.8 1944.94 1467.8 1945.26 1471.8 1945.57 1475.8 1945.88 1479.8 1946.18 1483.8 1946.47 1487.8 1946.77 1491.8 1947.05 1495.8 1947.33 1499.8 1947.61 1503.8 1947.87 1507.8 1948.14 1511.8 1948.39 1515.8 1948.64 1519.8 1948.89 1523.8 1949.12 1527.8 1949.35 1531.8 1949.58 1535.8 1949.80 1539.8 1950.01 1543.8 1950.21 1547.8 1950.41 1551.8 1950.60 1555.8 1950.79 1559.8 1950.97 1563.8 1951.14 1567.8 1951.31 1571.8 1951.47 1575.8 1951.63 1579.8 1951.78 1583.8 1951.92 1587.8 1952.06 1591.8 1952.19 1595.8 1952.32 1599.8 1952.44 1603.8 1952.56 1607.8 1952.67 1611.8 1952.78 1615.8 1952.88 1619.8 1952.98 1623.8 1953.07 1627.8 1953.16 1631.8 1953.25 1635.8 1953.33 1639.8 1953.41 1643.8 1953.48 1647.8 1953.55 1651.8 1953.62 1655.8 1953.68 1659.8 1953.74 1663.8 1953.80 1667.8 1953.86 1671.8 1953.91 1675.8 1953.96 1679.8 1954.00 1683.8 1954.05 1687.8 1954.09 1691.8 1954.13 1695.8 1954.17 1699.8 1954.20 1703.8 1954.23 1707.8 1954.27 1711.8 1954.30 1715.8 1954.32 1719.8 1954.35 1723.8 1954.38 1727.8 1954.40 1731.8 1954.42 1735.8 1954.45 1739.8 1954.47 1743.8 1954.49 1747.8 1954.51 1751.8 1954.52 1755.8 1954.54 1759.8 1954.56 1763.8 1954.57 1767.8 1954.59 1771.8 1954.60 1775.8 1954.61 1779.8 1954.63 1783.8 1954.64 1787.8 1954.65 1791.8 1954.66 1795.8 1954.67 1799.8 1954.68 1803.8 1954.69 1807.8 1954.70 1811.8 1954.71 1815.8 1954.72 1819.8 1954.73 1823.8 1954.73 1827.8 1954.74 1831.8 1954.75 1835.8 1954.76 1839.8 1954.77 1843.8 1954.77 1847.8 1954.78 1851.8 1954.79 1855.8 1954.79 1859.8 1954.80 1863.8 1954.81 1867.8 1954.81 1871.8 1954.82 1875.8 1954.83 1879.8 1954.83 1883.8 1954.84 1887.8 1954.85 1891.8 1954.85 1895.8 1954.86 1899.8 1954.86 1903.8 1954.87 1907.8 1954.88 1911.8 1954.88 1915.8 1954.89 1919.8 1954.89 1923.8 1954.90 1927.8 1954.90 1931.8 1954.91 1935.8 1954.92 1939.8 1954.92 1943.8 1954.93 1947.8 1954.93 1951.8 1954.94 1955.8 1954.94 1959.8 1954.95 1963.8 1954.95 1967.8 1954.96 1971.8 1954.97 1975.8 1954.97 1979.8 1954.98 1983.8 1954.98 1987.8 1954.99 1991.8 1954.99 1995.8 1955.00 1999.8 1955.00 2003.8 1955.01 2007.8 1955.02 2011.8 1955.02 2015.8 1955.03"/><path d="M291.8 2116.99 295.8 2116.80 299.8 2116.58 303.8 2116.33 307.8 2116.04 311.8 2115.72 315.8 2115.35 319.8 2114.93 323.8 2114.46 327.8 2113.94 331.8 2113.36 335.8 2112.72 339.8 2112.02 343.8 2111.25 347.8 2110.41 351.8 2109.50 355.8 2108.52 359.8 2107.47 363.8 2106.34 367.8 2105.15 371.8 2103.89 375.8 2102.57 379.8 2101.19 383.8 2099.75 387.8 2098.28 391.8 2096.76 395.8 2095.22 399.8 2093.66 403.8 2092.09 407.8 2090.52 411.8 2088.98 415.8 2087.47 419.8 2086.00 423.8 2084.59 427.8 2083.25 431.8 2081.99 435.8 2080.84 439.8 2079.79 443.8 2078.87 447.8 2078.08 451.8 2077.42 455.8 2076.92 459.8 2076.57 463.8 2076.38 467.8 2076.34 471.8 2076.48 475.8 2076.81 479.8 2077.30 483.8 2077.96 487.8 2078.78 491.8 2079.75 495.8 2080.86 499.8 2082.09 503.8 2083.44 507.8 2084.87 511.8 2086.39 515.8 2087.97 519.8 2089.59 523.8 2091.24 527.8 2092.91 531.8 2094.58 535.8 2096.23 539.8 2097.86 543.8 2099.45 547.8 2100.99 551.8 2102.48 555.8 2103.90 559.8 2105.25 563.8 2106.53 567.8 2107.73 571.8 2108.85 575.8 2109.88 579.8 2110.84 583.8 2111.72 587.8 2112.53 591.8 2113.26 595.8 2113.92 599.8 2114.51 603.8 2115.04 607.8 2115.51 611.8 2115.93 615.8 2116.29 619.8 2116.62 623.8 2116.90 627.8 2117.14 631.8 2117.35 635.8 2117.53 639.8 2117.69 643.8 2117.82 647.8 2117.94 651.8 2118.03 655.8 2118.11 659.8 2118.18 663.8 2118.24 667.8 2118.29 671.8 2118.33 675.8 2118.36 679.8 2118.39 683.8 2118.41 687.8 2118.43 691.8 2118.45 695.8 2118.47 699.8 2118.48 703.8 2118.49 707.8 2118.50 711.8 2118.51 715.8 2118.51 719.8 2118.52 723.8 2118.53 727.8 2118.53 731.8 2118.54 735.8 2118.54 739.8 2118.55 743.8 2118.55 747.8 2118.56 751.8 2118.56 755.8 2118.57 759.8 2118.57 763.8 2118.58 767.8 2118.58 771.8 2118.58 775.8 2118.59 779.8 2118.59 783.8 2118.60 787.8 2118.60 791.8 2118.61 795.8 2118.61 799.8 2118.61 803.8 2118.62 807.8 2118.62 811.8 2118.63 815.8 2118.63 819.8 2118.64 823.8 2118.64 827.8 2118.64 831.8 2118.65 835.8 2118.65 839.8 2118.66 843.8 2118.66 847.8 2118.67 851.8 2118.67 855.8 2118.67 859.8 2118.68 863.8 2118.68 867.8 2118.69 871.8 2118.69 875.8 2118.70 879.8 2118.70 883.8 2118.70 887.8 2118.71 891.8 2118.71 895.8 2118.72 899.8 2118.72 903.8 2118.73 907.8 2118.73 911.8 2118.74 915.8 2118.74 919.8 2118.74 923.8 2118.75 927.8 2118.75 931.8 2118.76 935.8 2118.76 939.8 2118.77 943.8 2118.77 947.8 2118.77 951.8 2118.78 955.8 2118.78 959.8 2118.79 963.8 2118.79 967.8 2118.80 971.8 2118.80 975.8 2118.80 979.8 2118.81 983.8 2118.81 987.8 2118.82 991.8 2118.82 995.8 2118.83 999.8 2118.83 1003.8 2118.83 1007.8 2118.84 1011.8 2118.84 1015.8 2118.85 1019.8 2118.85 1023.8 2118.86 1027.8 2118.86 1031.8 2118.86 1035.8 2118.87 1039.8 2118.87 1043.8 2118.88 1047.8 2118.88 1051.8 2118.89 1055.8 2118.89 1059.8 2118.89 1063.8 2118.90 1067.8 2118.90 1071.8 2118.91 1075.8 2118.91 1079.8 2118.92 1083.8 2118.92 1087.8 2118.92 1091.8 2118.93 1095.8 2118.93 1099.8 2118.94 1103.8 2118.94 1107.8 2118.95 1111.8 2118.95 1115.8 2118.95 1119.8 2118.96 1123.8 2118.96 1127.8 2118.97 1131.8 2118.97 1135.8 2118.98 1139.8 2118.98 1143.8 2118.98 1147.8 2118.99 1151.8 2118.99 1155.8 2119.00 1159.8 2119.00 1163.8 2119.01 1167.8 2119.01 1171.8 2119.01 1175.8 2119.02 1179.8 2119.02 1183.8 2119.03 1187.8 2119.03 1191.8 2119.04 1195.8 2119.04 1199.8 2119.04 1203.8 2119.05 1207.8 2119.05 1211.8 2119.06 1215.8 2119.06 1219.8 2119.07 1223.8 2119.07 1227.8 2119.08 1231.8 2119.08 1235.8 2119.08 1239.8 2119.09 1243.8 2119.09 1247.8 2119.10 1251.8 2119.10 1255.8 2119.11 1259.8 2119.11 1263.8 2119.11 1267.8 2119.12 1271.8 2119.12 1275.8 2119.13 1279.8 2119.13 1283.8 2119.14 1287.8 2119.14 1291.8 2119.14 1295.8 2119.15 1299.8 2119.15 1303.8 2119.16 1307.8 2119.16 1311.8 2119.17 1315.8 2119.17 1319.8 2119.17 1323.8 2119.18 1327.8 2119.18 1331.8 2119.19 1335.8 2119.19 1339.8 2119.20 1343.8 2119.20 1347.8 2119.20 1351.8 2119.21 1355.8 2119.21 1359.8 2119.22 1363.8 2119.22 1367.8 2119.23 1371.8 2119.23 1375.8 2119.23 1379.8 2119.24 1383.8 2119.24 1387.8 2119.25 1391.8 2119.25 1395.8 2119.26 1399.8 2119.26 1403.8 2119.26 1407.8 2119.27 1411.8 2119.27 1415.8 2119.28 1419.8 2119.28 1423.8 2119.29 1427.8 2119.29 1431.8 2119.29 1435.8 2119.30 1439.8 2119.30 1443.8 2119.31 1447.8 2119.31 1451.8 2119.32 1455.8 2119.32 1459.8 2119.32 1463.8 2119.33 1467.8 2119.33 1471.8 2119.34 1475.8 2119.34 1479.8 2119.35 1483.8 2119.35 1487.8 2119.35 1491.8 2119.36 1495.8 2119.36 1499.8 2119.37 1503.8 2119.37 1507.8 2119.38 1511.8 2119.38 1515.8 2119.38 1519.8 2119.39 1523.8 2119.39 1527.8 2119.40 1531.8 2119.40 1535.8 2119.41 1539.8 2119.41 1543.8 2119.41 1547.8 2119.42 1551.8 2119.42 1555.8 2119.43 1559.8 2119.43 1563.8 2119.44 1567.8 2119.44 1571.8 2119.45 1575.8 2119.45 1579.8 2119.45 1583.8 2119.46 1587.8 2119.46 1591.8 2119.47 1595.8 2119.47 1599.8 2119.48 1603.8 2119.48 1607.8 2119.48 1611.8 2119.49 1615.8 2119.49 1619.8 2119.50 1623.8 2119.50 1627.8 2119.51 1631.8 2119.51 1635.8 2119.51 1639.8 2119.52 1643.8 2119.52 1647.8 2119.53 1651.8 2119.53 1655.8 2119.54 1659.8 2119.54 1663.8 2119.54 1667.8 2119.55 1671.8 2119.55 1675.8 2119.56 1679.8 2119.56 1683.8 2119.57 1687.8 2119.57 1691.8 2119.57 1695.8 2119.58 1699.8 2119.58 1703.8 2119.59 1707.8 2119.59 1711.8 2119.60 1715.8 2119.60 1719.8 2119.60 1723.8 2119.61 1727.8 2119.61 1731.8 2119.62 1735.8 2119.62 1739.8 2119.63 1743.8 2119.63 1747.8 2119.63 1751.8 2119.64 1755.8 2119.64 1759.8 2119.65 1763.8 2119.65 1767.8 2119.66 1771.8 2119.66 1775.8 2119.66 1779.8 2119.67 1783.8 2119.67 1787.8 2119.68 1791.8 2119.68 1795.8 2119.69 1799.8 2119.69 1803.8 2119.69 1807.8 2119.70 1811.8 2119.70 1815.8 2119.71 1819.8 2119.71 1823.8 2119.72 1827.8 2119.72 1831.8 2119.72 1835.8 2119.73 1839.8 2119.73 1843.8 2119.74 1847.8 2119.74 1851.8 2119.75 1855.8 2119.75 1859.8 2119.75 1863.8 2119.76 1867.8 2119.76 1871.8 2119.77 1875.8 2119.77 1879.8 2119.78 1883.8 2119.78 1887.8 2119.79 1891.8 2119.79 1895.8 2119.79 1899.8 2119.80 1903.8 2119.80 1907.8 2119.81 1911.8 2119.81 1915.8 2119.82 1919.8 2119.82 1923.8 2119.82 1927.8 2119.83 1931.8 2119.83 1935.8 2119.84 1939.8 2119.84 1943.8 2119.85 1947.8 2119.85 1951.8 2119.85 1955.8 2119.86 1959.8 2119.86 1963.8 2119.87 1967.8 2119.87 1971.8 2119.88 1975.8 2119.88 1979.8 2119.88 1983.8 2119.89 1987.8 2119.89 1991.8 2119.90 1995.8 2119.90 1999.8 2119.91 2003.8 2119.91 2007.8 2119.91"/><path d="M291.8 2116.60 295.8 2116.49 299.8 2116.37 303.8 2116.24 307.8 2116.10 311.8 2115.96 315.8 2115.80 319.8 2115.64 323.8 2115.46 327.8 2115.28 331.8 2115.08 335.8 2114.87 339.8 2114.65 343.8 2114.42 347.8 2114.17 351.8 2113.91 355.8 2113.64 359.8 2113.35 363.8 2113.05 367.8 2112.73 371.8 2112.40 375.8 2112.05 379.8 2111.69 383.8 2111.31 387.8 2110.91 391.8 2110.50 395.8 2110.06 399.8 2109.61 403.8 2109.14 407.8 2108.66 411.8 2108.15 415.8 2107.63 419.8 2107.09 423.8 2106.53 427.8 2105.95 431.8 2105.36 435.8 2104.74 439.8 2104.11 443.8 2103.46 447.8 2102.79 451.8 2102.11 455.8 2101.41 459.8 2100.69 463.8 2099.96 467.8 2099.21 471.8 2098.45 475.8 2097.68 479.8 2096.89 483.8 2096.09 487.8 2095.28 491.8 2094.46 495.8 2093.63 499.8 2092.79 503.8 2091.94 507.8 2091.09 511.8 2090.24 515.8 2089.38 519.8 2088.52 523.8 2087.67 527.8 2086.81 531.8 2085.95 535.8 2085.10 539.8 2084.26 543.8 2083.42 547.8 2082.60 551.8 2081.78 555.8 2080.97 559.8 2080.18 563.8 2079.41 567.8 2078.65 571.8 2077.92 575.8 2077.20 579.8 2076.50 583.8 2075.83 587.8 2075.18 591.8 2074.56 595.8 2073.97 599.8 2073.41 603.8 2072.88 607.8 2072.38 611.8 2071.92 615.8 2071.48 619.8 2071.09 623.8 2070.73 627.8 2070.41 631.8 2070.12 635.8 2069.88 639.8 2069.67 643.8 2069.51 647.8 2069.39 651.8 2069.30 655.8 2069.26 659.8 2069.26 663.8 2069.29 667.8 2069.36 671.8 2069.47 675.8 2069.61 679.8 2069.79 683.8 2070.00 687.8 2070.25 691.8 2070.53 695.8 2070.85 699.8 2071.20 703.8 2071.58 707.8 2071.99 711.8 2072.43 715.8 2072.90 719.8 2073.40 723.8 2073.92 727.8 2074.48 731.8 2075.05 735.8 2075.66 739.8 2076.28 743.8 2076.93 747.8 2077.59 751.8 2078.28 755.8 2078.98 759.8 2079.70 763.8 2080.44 767.8 2081.19 771.8 2081.95 775.8 2082.72 779.8 2083.50 783.8 2084.29 787.8 2085.09 791.8 2085.89 795.8 2086.70 799.8 2087.51 803.8 2088.32 807.8 2089.14 811.8 2089.95 815.8 2090.76 819.8 2091.57 823.8 2092.37 827.8 2093.17 831.8 2093.96 835.8 2094.75 839.8 2095.53 843.8 2096.30 847.8 2097.06 851.8 2097.81 855.8 2098.55 859.8 2099.27 863.8 2099.99 867.8 2100.69 871.8 2101.38 875.8 2102.06 879.8 2102.72 883.8 2103.36 887.8 2104.00 891.8 2104.61 895.8 2105.21 899.8 2105.80 903.8 2106.37 907.8 2106.92 911.8 2107.46 915.8 2107.98 919.8 2108.48 923.8 2108.97 927.8 2109.44 931.8 2109.90 935.8 2110.34 939.8 2110.76 943.8 2111.17 947.8 2111.57 951.8 2111.95 955.8 2112.31 959.8 2112.66 963.8 2113.00 967.8 2113.32 971.8 2113.63 975.8 2113.92 979.8 2114.21 983.8 2114.48 987.8 2114.73 991.8 2114.98 995.8 2115.21 999.8 2115.43 1003.8 2115.65 1007.8 2115.85 1011.8 2116.04 1015.8 2116.22 1019.8 2116.39 1023.8 2116.55 1027.8 2116.71 1031.8 2116.86 1035.8 2116.99 1039.8 2117.12 1043.8 2117.25 1047.8 2117.36 1051.8 2117.47 1055.8 2117.58 1059.8 2117.67 1063.8 2117.76 1067.8 2117.85 1071.8 2117.93 1075.8 2118.01 1079.8 2118.08 1083.8 2118.15 1087.8 2118.21 1091.8 2118.27 1095.8 2118.32 1099.8 2118.37 1103.8 2118.42 1107.8 2118.47 1111.8 2118.51 1115.8 2118.55 1119.8 2118.59 1123.8 2118.62 1127.8 2118.65 1131.8 2118.68 1135.8 2118.71 1139.8 2118.74 1143.8 2118.76 1147.8 2118.79 1151.8 2118.81 1155.8 2118.83 1159.8 2118.85 1163.8 2118.87 1167.8 2118.88 1171.8 2118.90 1175.8 2118.91 1179.8 2118.93 1183.8 2118.94 1187.8 2118.95 1191.8 2118.96 1195.8 2118.98 1199.8 2118.99 1203.8 2119.00 1207.8 2119.01 1211.8 2119.01 1215.8 2119.02 1219.8 2119.03 1223.8 2119.04 1227.8 2119.05 1231.8 2119.05 1235.8 2119.06 1239.8 2119.07 1243.8 2119.07 1247.8 2119.08 1251.8 2119.09 1255.8 2119.09 1259.8 2119.10 1263.8 2119.10 1267.8 2119.11 1271.8 2119.11 1275.8 2119.12 1279.8 2119.12 1283.8 2119.13 1287.8 2119.13 1291.8 2119.14 1295.8 2119.14 1299.8 2119.15 1303.8 2119.15 1307.8 2119.16 1311.8 2119.16 1315.8 2119.17 1319.8 2119.17 1323.8 2119.18 1327.8 2119.18 1331.8 2119.19 1335.8 2119.19 1339.8 2119.19 1343.8 2119.20 1347.8 2119.20 1351.8 2119.21 1355.8 2119.21 1359.8 2119.22 1363.8 2119.22 1367.8 2119.23 1371.8 2119.23 1375.8 2119.23 1379.8 2119.24 1383.8 2119.24 1387.8 2119.25 1391.8 2119.25 1395.8 2119.26 1399.8 2119.26 1403.8 2119.26 1407.8 2119.27 1411.8 2119.27 1415.8 2119.28 1419.8 2119.28 1423.8 2119.29 1427.8 2119.29 1431.8 2119.29 1435.8 2119.30 1439.8 2119.30 1443.8 2119.31 1447.8 2119.31 1451.8 2119.32 1455.8 2119.32 1459.8 2119.32 1463.8 2119.33 1467.8 2119.33 1471.8 2119.34 1475.8 2119.34 1479.8 2119.35 1483.8 2119.35 1487.8 2119.35 1491.8 2119.36 1495.8 2119.36 1499.8 2119.37 1503.8 2119.37 1507.8 2119.38 1511.8 2119.38 1515.8 2119.38 1519.8 2119.39 1523.8 2119.39 1527.8 2119.40 1531.8 2119.40 1535.8 2119.41 1539.8 2119.41 1543.8 2119.41 1547.8 2119.42 1551.8 2119.42 1555.8 2119.43 1559.8 2119.43 1563.8 2119.44 1567.8 2119.44 1571.8 2119.45 1575.8 2119.45 1579.8 2119.45 1583.8 2119.46 1587.8 2119.46 1591.8 2119.47 1595.8 2119.47 1599.8 2119.48 1603.8 2119.48 1607.8 2119.48 1611.8 2119.49 1615.8 2119.49 1619.8 2119.50 1623.8 2119.50 1627.8 2119.51 1631.8 2119.51 1635.8 2119.51 1639.8 2119.52 1643.8 2119.52 1647.8 2119.53 1651.8 2119.53 1655.8 2119.54 1659.8 2119.54 1663.8 2119.54 1667.8 2119.55 1671.8 2119.55 1675.8 2119.56 1679.8 2119.56 1683.8 2119.57 1687.8 2119.57 1691.8 2119.57 1695.8 2119.58 1699.8 2119.58 1703.8 2119.59 1707.8 2119.59 1711.8 2119.60 1715.8 2119.60 1719.8 2119.60 1723.8 2119.61 1727.8 2119.61 1731.8 2119.62 1735.8 2119.62 1739.8 2119.63 1743.8 2119.63 1747.8 2119.63 1751.8 2119.64 1755.8 2119.64 1759.8 2119.65 1763.8 2119.65 1767.8 2119.66 1771.8 2119.66 1775.8 2119.66 1779.8 2119.67 1783.8 2119.67 1787.8 2119.68 1791.8 2119.68 1795.8 2119.69 1799.8 2119.69 1803.8 2119.69 1807.8 2119.70 1811.8 2119.70 1815.8 2119.71 1819.8 2119.71 1823.8 2119.72 1827.8 2119.72 1831.8 2119.72 1835.8 2119.73 1839.8 2119.73 1843.8 2119.74 1847.8 2119.74 1851.8 2119.75 1855.8 2119.75 1859.8 2119.75 1863.8 2119.76 1867.8 2119.76 1871.8 2119.77 1875.8 2119.77 1879.8 2119.78 1883.8 2119.78 1887.8 2119.79 1891.8 2119.79 1895.8 2119.79 1899.8 2119.80 1903.8 2119.80 1907.8 2119.81 1911.8 2119.81 1915.8 2119.82 1919.8 2119.82 1923.8 2119.82 1927.8 2119.83 1931.8 2119.83 1935.8 2119.84 1939.8 2119.84 1943.8 2119.85 1947.8 2119.85 1951.8 2119.85 1955.8 2119.86 1959.8 2119.86 1963.8 2119.87 1967.8 2119.87 1971.8 2119.88 1975.8 2119.88 1979.8 2119.88 1983.8 2119.89 1987.8 2119.89 1991.8 2119.90 1995.8 2119.90 1999.8 2119.91 2003.8 2119.91 2007.8 2119.91"/><path d="M291.8 2118.07 295.8 2118.07 299.8 2118.08 303.8 2118.08 307.8 2118.08 311.8 2118.09 315.8 2118.09 319.8 2118.10 323.8 2118.10 327.8 2118.10 331.8 2118.11 335.8 2118.11 339.8 2118.11 343.8 2118.12 347.8 2118.12 351.8 2118.13 355.8 2118.13 359.8 2118.13 363.8 2118.14 367.8 2118.14 371.8 2118.14 375.8 2118.15 379.8 2118.15 383.8 2118.15 387.8 2118.16 391.8 2118.16 395.8 2118.16 399.8 2118.16 403.8 2118.17 407.8 2118.17 411.8 2118.17 415.8 2118.17 419.8 2118.17 423.8 2118.18 427.8 2118.18 431.8 2118.18 435.8 2118.18 439.8 2118.18 443.8 2118.18 447.8 2118.18 451.8 2118.18 455.8 2118.18 459.8 2118.18 463.8 2118.17 467.8 2118.17 471.8 2118.17 475.8 2118.17 479.8 2118.16 483.8 2118.16 487.8 2118.15 491.8 2118.14 495.8 2118.14 499.8 2118.13 503.8 2118.12 507.8 2118.11 511.8 2118.10 515.8 2118.09 519.8 2118.08 523.8 2118.06 527.8 2118.05 531.8 2118.03 535.8 2118.01 539.8 2117.99 543.8 2117.97 547.8 2117.95 551.8 2117.93 555.8 2117.90 559.8 2117.87 563.8 2117.84 567.8 2117.81 571.8 2117.77 575.8 2117.74 579.8 2117.70 583.8 2117.65 587.8 2117.61 591.8 2117.56 595.8 2117.51 599.8 2117.45 603.8 2117.40 607.8 2117.34 611.8 2117.27 615.8 2117.20 619.8 2117.13 623.8 2117.05 627.8 2116.97 631.8 2116.89 635.8 2116.79 639.8 2116.70 643.8 2116.60 647.8 2116.49 651.8 2116.38 655.8 2116.27 659.8 2116.14 663.8 2116.02 667.8 2115.88 671.8 2115.74 675.8 2115.59 679.8 2115.44 683.8 2115.28 687.8 2115.11 691.8 2114.93 695.8 2114.75 699.8 2114.56 703.8 2114.36 707.8 2114.15 711.8 2113.93 715.8 2113.71 719.8 2113.48 723.8 2113.23 727.8 2112.98 731.8 2112.72 735.8 2112.45 739.8 2112.17 743.8 2111.88 747.8 2111.58 751.8 2111.28 755.8 2110.96 759.8 2110.63 763.8 2110.29 767.8 2109.94 771.8 2109.58 775.8 2109.21 779.8 2108.83 783.8 2108.44 787.8 2108.04 791.8 2107.63 795.8 2107.21 799.8 2106.77 803.8 2106.33 807.8 2105.88 811.8 2105.42 815.8 2104.95 819.8 2104.47 823.8 2103.97 827.8 2103.47 831.8 2102.97 835.8 2102.45 839.8 2101.92 843.8 2101.39 847.8 2100.85 851.8 2100.30 855.8 2099.74 859.8 2099.18 863.8 2098.61 867.8 2098.03 871.8 2097.45 875.8 2096.87 879.8 2096.28 883.8 2095.68 887.8 2095.08 891.8 2094.48 895.8 2093.88 899.8 2093.28 903.8 2092.67 907.8 2092.06 911.8 2091.46 915.8 2090.85 919.8 2090.25 923.8 2089.65 927.8 2089.05 931.8 2088.46 935.8 2087.87 939.8 2087.28 943.8 2086.70 947.8 2086.13 951.8 2085.57 955.8 2085.01 959.8 2084.46 963.8 2083.92 967.8 2083.39 971.8 2082.88 975.8 2082.37 979.8 2081.88 983.8 2081.40 987.8 2080.93 991.8 2080.48 995.8 2080.04 999.8 2079.62 1003.8 2079.22 1007.8 2078.83 1011.8 2078.46 1015.8 2078.11 1019.8 2077.77 1023.8 2077.46 1027.8 2077.17 1031.8 2076.89 1035.8 2076.64 1039.8 2076.41 1043.8 2076.20 1047.8 2076.01 1051.8 2075.84 1055.8 2075.70 1059.8 2075.58 1063.8 2075.48 1067.8 2075.40 1071.8 2075.35 1075.8 2075.32 1079.8 2075.31 1083.8 2075.32 1087.8 2075.36 1091.8 2075.41 1095.8 2075.48 1099.8 2075.56 1103.8 2075.67 1107.8 2075.79 1111.8 2075.93 1115.8 2076.09 1119.8 2076.27 1123.8 2076.46 1127.8 2076.67 1131.8 2076.90 1135.8 2077.15 1139.8 2077.41 1143.8 2077.68 1147.8 2077.98 1151.8 2078.28 1155.8 2078.61 1159.8 2078.94 1163.8 2079.30 1167.8 2079.66 1171.8 2080.04 1175.8 2080.43 1179.8 2080.83 1183.8 2081.25 1187.8 2081.67 1191.8 2082.11 1195.8 2082.56 1199.8 2083.02 1203.8 2083.48 1207.8 2083.96 1211.8 2084.44 1215.8 2084.94 1219.8 2085.44 1223.8 2085.94 1227.8 2086.46 1231.8 2086.97 1235.8 2087.50 1239.8 2088.03 1243.8 2088.56 1247.8 2089.10 1251.8 2089.64 1255.8 2090.18 1259.8 2090.72 1263.8 2091.27 1267.8 2091.82 1271.8 2092.37 1275.8 2092.92 1279.8 2093.46 1283.8 2094.01 1287.8 2094.56 1291.8 2095.10 1295.8 2095.65 1299.8 2096.19 1303.8 2096.73 1307.8 2097.26 1311.8 2097.79 1315.8 2098.32 1319.8 2098.84 1323.8 2099.36 1327.8 2099.88 1331.8 2100.39 1335.8 2100.89 1339.8 2101.39 1343.8 2101.88 1347.8 2102.37 1351.8 2102.85 1355.8 2103.32 1359.8 2103.78 1363.8 2104.24 1367.8 2104.69 1371.8 2105.14 1375.8 2105.57 1379.8 2106.00 1383.8 2106.42 1387.8 2106.84 1391.8 2107.24 1395.8 2107.64 1399.8 2108.03 1403.8 2108.41 1407.8 2108.78 1411.8 2109.15 1415.8 2109.50 1419.8 2109.85 1423.8 2110.19 1427.8 2110.52 1431.8 2110.85 1435.8 2111.16 1439.8 2111.47 1443.8 2111.77 1447.8 2112.06 1451.8 2112.34 1455.8 2112.62 1459.8 2112.89 1463.8 2113.15 1467.8 2113.40 1471.8 2113.64 1475.8 2113.88 1479.8 2114.11 1483.8 2114.33 1487.8 2114.55 1491.8 2114.76 1495.8 2114.96 1499.8 2115.15 1503.8 2115.34 1507.8 2115.52 1511.8 2115.70 1515.8 2115.87 1519.8 2116.03 1523.8 2116.19 1527.8 2116.34 1531.8 2116.49 1535.8 2116.63 1539.8 2116.77 1543.8 2116.90 1547.8 2117.02 1551.8 2117.14 1555.8 2117.26 1559.8 2117.37 1563.8 2117.48 1567.8 2117.58 1571.8 2117.68 1575.8 2117.77 1579.8 2117.86 1583.8 2117.95 1587.8 2118.03 1591.8 2118.11 1595.8 2118.19 1599.8 2118.26 1603.8 2118.33 1607.8 2118.40 1611.8 2118.46 1615.8 2118.52 1619.8 2118.58 1623.8 2118.64 1627.8 2118.69 1631.8 2118.74 1635.8 2118.79 1639.8 2118.83 1643.8 2118.88 1647.8 2118.92 1651.8 2118.96 1655.8 2119.00 1659.8 2119.03 1663.8 2119.07 1667.8 2119.10 1671.8 2119.13 1675.8 2119.16 1679.8 2119.19 1683.8 2119.22 1687.8 2119.24 1691.8 2119.27 1695.8 2119.29 1699.8 2119.31 1703.8 2119.34 1707.8 2119.36 1711.8 2119.38 1715.8 2119.39 1719.8 2119.41 1723.8 2119.43 1727.8 2119.45 1731.8 2119.46 1735.8 2119.48 1739.8 2119.49 1743.8 2119.50 1747.8 2119.52 1751.8 2119.53 1755.8 2119.54 1759.8 2119.55 1763.8 2119.56 1767.8 2119.57 1771.8 2119.58 1775.8 2119.59 1779.8 2119.60 1783.8 2119.61 1787.8 2119.62 1791.8 2119.63 1795.8 2119.64 1799.8 2119.64 1803.8 2119.65 1807.8 2119.66 1811.8 2119.67 1815.8 2119.67 1819.8 2119.68 1823.8 2119.69 1827.8 2119.69 1831.8 2119.70 1835.8 2119.71 1839.8 2119.71 1843.8 2119.72 1847.8 2119.72 1851.8 2119.73 1855.8 2119.74 1859.8 2119.74 1863.8 2119.75 1867.8 2119.75 1871.8 2119.76 1875.8 2119.76 1879.8 2119.77 1883.8 2119.77 1887.8 2119.78 1891.8 2119.78 1895.8 2119.79 1899.8 2119.79 1903.8 2119.80 1907.8 2119.80 1911.8 2119.81 1915.8 2119.81 1919.8 2119.82 1923.8 2119.82 1927.8 2119.82 1931.8 2119.83 1935.8 2119.83 1939.8 2119.84 1943.8 2119.84 1947.8 2119.85 1951.8 2119.85 1955.8 2119.86 1959.8 2119.86 1963.8 2119.87 1967.8 2119.87 1971.8 2119.87 1975.8 2119.88 1979.8 2119.88 1983.8 2119.89 1987.8 2119.89 1991.8 2119.90 1995.8 2119.90 1999.8 2119.90 2003.8 2119.91 2007.8 2119.91"/></g><g fill="none" stroke-width="5.8" stroke-linejoin="round"><path d="M291.8 1402.66 295.8 1401.96 299.8 1401.22 303.8 1400.45 307.8 1399.65 311.8 1398.81 315.8 1397.93 319.8 1397.01 323.8 1396.05 327.8 1395.05 331.8 1394.01 335.8 1392.93 339.8 1391.80 343.8 1390.63 347.8 1389.41 351.8 1388.14 355.8 1386.83 359.8 1385.46 363.8 1384.05 367.8 1382.58 371.8 1381.07 375.8 1379.50 379.8 1377.88 383.8 1376.21 387.8 1374.48 391.8 1372.70 395.8 1370.87 399.8 1368.98 403.8 1367.04 407.8 1365.04 411.8 1362.99 415.8 1360.89 419.8 1358.73 423.8 1356.52 427.8 1354.25 431.8 1351.93 435.8 1349.57 439.8 1347.15 443.8 1344.68 447.8 1342.16 451.8 1339.60 455.8 1336.99 459.8 1334.34 463.8 1331.65 467.8 1328.91 471.8 1326.14 475.8 1323.33 479.8 1320.49 483.8 1317.61 487.8 1314.71 491.8 1311.78 495.8 1308.82 499.8 1305.85 503.8 1302.86 507.8 1299.85 511.8 1296.83 515.8 1293.80 519.8 1290.77 523.8 1287.74 527.8 1284.70 531.8 1281.68 535.8 1278.66 539.8 1275.66 543.8 1272.67 547.8 1269.70 551.8 1266.76 555.8 1263.85 559.8 1260.97 563.8 1258.12 567.8 1255.31 571.8 1252.55 575.8 1249.84 579.8 1247.17 583.8 1244.56 587.8 1242.01 591.8 1239.53 595.8 1237.10 599.8 1234.75 603.8 1232.47 607.8 1230.26 611.8 1228.13 615.8 1226.09 619.8 1224.12 623.8 1222.25 627.8 1220.46 631.8 1218.76 635.8 1217.16 639.8 1215.65 643.8 1214.25 647.8 1212.93 651.8 1211.72 655.8 1210.62 659.8 1209.61 663.8 1208.71 667.8 1207.91 671.8 1207.21 675.8 1206.63 679.8 1206.16 683.8 1205.79 687.8 1205.54 691.8 1205.39 695.8 1205.35 699.8 1205.41 703.8 1205.58 707.8 1205.85 711.8 1206.23 715.8 1206.70 719.8 1207.27 723.8 1207.93 727.8 1208.69 731.8 1209.54 735.8 1210.47 739.8 1211.49 743.8 1212.59 747.8 1213.77 751.8 1215.02 755.8 1216.34 759.8 1217.74 763.8 1219.20 767.8 1220.72 771.8 1222.30 775.8 1223.93 779.8 1225.62 783.8 1227.35 787.8 1229.12 791.8 1230.94 795.8 1232.79 799.8 1234.68 803.8 1236.59 807.8 1238.53 811.8 1240.50 815.8 1242.48 819.8 1244.48 823.8 1246.49 827.8 1248.52 831.8 1250.55 835.8 1252.58 839.8 1254.61 843.8 1256.65 847.8 1258.67 851.8 1260.70 855.8 1262.71 859.8 1264.71 863.8 1266.70 867.8 1268.67 871.8 1270.63 875.8 1272.56 879.8 1274.48 883.8 1276.38 887.8 1278.25 891.8 1280.10 895.8 1281.92 899.8 1283.71 903.8 1285.48 907.8 1287.22 911.8 1288.93 915.8 1290.62 919.8 1292.27 923.8 1293.90 927.8 1295.49 931.8 1297.06 935.8 1298.59 939.8 1300.10 943.8 1301.58 947.8 1303.02 951.8 1304.45 955.8 1305.84 959.8 1307.21 963.8 1308.55 967.8 1309.86 971.8 1311.15 975.8 1312.41 979.8 1313.65 983.8 1314.87 987.8 1316.06 991.8 1317.24 995.8 1318.39 999.8 1319.52 1003.8 1320.63 1007.8 1321.72 1011.8 1322.80 1015.8 1323.86 1019.8 1324.90 1023.8 1325.93 1027.8 1326.94 1031.8 1327.94 1035.8 1328.93 1039.8 1329.90 1043.8 1330.86 1047.8 1331.82 1051.8 1332.76 1055.8 1333.69 1059.8 1334.62 1063.8 1335.53 1067.8 1336.44 1071.8 1337.34 1075.8 1338.24 1079.8 1339.13 1083.8 1340.01 1087.8 1340.89 1091.8 1341.77 1095.8 1342.64 1099.8 1343.50 1103.8 1344.37 1107.8 1345.23 1111.8 1346.08 1115.8 1346.94 1119.8 1347.79 1123.8 1348.64 1127.8 1349.49 1131.8 1350.33 1135.8 1351.17 1139.8 1352.01 1143.8 1352.85 1147.8 1353.69 1151.8 1354.52 1155.8 1355.36 1159.8 1356.19 1163.8 1357.02 1167.8 1357.85 1171.8 1358.67 1175.8 1359.49 1179.8 1360.31 1183.8 1361.13 1187.8 1361.95 1191.8 1362.76 1195.8 1363.57 1199.8 1364.38 1203.8 1365.18 1207.8 1365.98 1211.8 1366.78 1215.8 1367.57 1219.8 1368.36 1223.8 1369.15 1227.8 1369.93 1231.8 1370.70 1235.8 1371.48 1239.8 1372.24 1243.8 1373.00 1247.8 1373.76 1251.8 1374.51 1255.8 1375.26 1259.8 1376.00 1263.8 1376.73 1267.8 1377.45 1271.8 1378.18 1275.8 1378.89 1279.8 1379.60 1283.8 1380.30 1287.8 1380.99 1291.8 1381.67 1295.8 1382.35 1299.8 1383.02 1303.8 1383.68 1307.8 1384.34 1311.8 1384.99 1315.8 1385.62 1319.8 1386.25 1323.8 1386.88 1327.8 1387.49 1331.8 1388.10 1335.8 1388.69 1339.8 1389.28 1343.8 1389.86 1347.8 1390.43 1351.8 1390.99 1355.8 1391.54 1359.8 1392.09 1363.8 1392.62 1367.8 1393.15 1371.8 1393.67 1375.8 1394.17 1379.8 1394.67 1383.8 1395.16 1387.8 1395.64 1391.8 1396.11 1395.8 1396.58 1399.8 1397.03 1403.8 1397.48 1407.8 1397.91 1411.8 1398.34 1415.8 1398.76 1419.8 1399.17 1423.8 1399.57 1427.8 1399.96 1431.8 1400.34 1435.8 1400.72 1439.8 1401.08 1443.8 1401.44 1447.8 1401.79 1451.8 1402.13 1455.8 1402.46 1459.8 1402.79 1463.8 1403.11 1467.8 1403.42 1471.8 1403.72 1475.8 1404.01 1479.8 1404.30 1483.8 1404.58 1487.8 1404.85 1491.8 1405.11 1495.8 1405.37 1499.8 1405.62 1503.8 1405.86 1507.8 1406.10 1511.8 1406.33 1515.8 1406.55 1519.8 1406.77 1523.8 1406.98 1527.8 1407.18 1531.8 1407.38 1535.8 1407.57 1539.8 1407.76 1543.8 1407.94 1547.8 1408.12 1551.8 1408.29 1555.8 1408.45 1559.8 1408.61 1563.8 1408.76 1567.8 1408.91 1571.8 1409.05 1575.8 1409.19 1579.8 1409.33 1583.8 1409.46 1587.8 1409.58 1591.8 1409.70 1595.8 1409.82 1599.8 1409.93 1603.8 1410.04 1607.8 1410.14 1611.8 1410.24 1615.8 1410.34 1619.8 1410.43 1623.8 1410.52 1627.8 1410.61 1631.8 1410.69 1635.8 1410.77 1639.8 1410.85 1643.8 1410.92 1647.8 1410.99 1651.8 1411.06 1655.8 1411.13 1659.8 1411.19 1663.8 1411.25 1667.8 1411.31 1671.8 1411.36 1675.8 1411.41 1679.8 1411.46 1683.8 1411.51 1687.8 1411.55 1691.8 1411.60 1695.8 1411.64 1699.8 1411.68 1703.8 1411.72 1707.8 1411.75 1711.8 1411.79 1715.8 1411.82 1719.8 1411.85 1723.8 1411.88 1727.8 1411.91 1731.8 1411.93 1735.8 1411.96 1739.8 1411.98 1743.8 1412.00 1747.8 1412.02 1751.8 1412.04 1755.8 1412.06 1759.8 1412.08 1763.8 1412.10 1767.8 1412.11 1771.8 1412.12 1775.8 1412.14 1779.8 1412.15 1783.8 1412.16 1787.8 1412.17 1791.8 1412.18 1795.8 1412.19 1799.8 1412.20 1803.8 1412.21 1807.8 1412.21 1811.8 1412.22 1815.8 1412.23 1819.8 1412.23 1823.8 1412.23 1827.8 1412.24 1831.8 1412.24 1835.8 1412.25 1839.8 1412.25 1843.8 1412.25 1847.8 1412.25 1851.8 1412.25 1855.8 1412.25 1859.8 1412.25 1863.8 1412.25 1867.8 1412.25 1871.8 1412.25 1875.8 1412.25 1879.8 1412.25 1883.8 1412.25 1887.8 1412.25 1891.8 1412.24 1895.8 1412.24 1899.8 1412.24 1903.8 1412.23 1907.8 1412.23 1911.8 1412.23 1915.8 1412.22 1919.8 1412.22 1923.8 1412.22 1927.8 1412.21 1931.8 1412.21 1935.8 1412.20 1939.8 1412.20 1943.8 1412.20 1947.8 1412.19 1951.8 1412.19 1955.8 1412.18 1959.8 1412.18 1963.8 1412.17 1967.8 1412.16 1971.8 1412.16 1975.8 1412.15 1979.8 1412.15 1983.8 1412.14 1987.8 1412.14 1991.8 1412.13 1995.8 1412.13 1999.8 1412.12 2003.8 1412.11 2007.8 1412.11 2011.8 1412.10 2015.8 1412.09" stroke="#008000"/><path d="M291.8 1584.07 295.8 1584.05 299.8 1584.03 303.8 1584.00 307.8 1583.98 311.8 1583.95 315.8 1583.92 319.8 1583.89 323.8 1583.85 327.8 1583.81 331.8 1583.77 335.8 1583.73 339.8 1583.68 343.8 1583.64 347.8 1583.58 351.8 1583.52 355.8 1583.46 359.8 1583.40 363.8 1583.33 367.8 1583.25 371.8 1583.17 375.8 1583.09 379.8 1582.99 383.8 1582.90 387.8 1582.79 391.8 1582.68 395.8 1582.56 399.8 1582.43 403.8 1582.30 407.8 1582.16 411.8 1582.00 415.8 1581.84 419.8 1581.67 423.8 1581.48 427.8 1581.29 431.8 1581.08 435.8 1580.86 439.8 1580.63 443.8 1580.38 447.8 1580.12 451.8 1579.85 455.8 1579.56 459.8 1579.25 463.8 1578.93 467.8 1578.59 471.8 1578.23 475.8 1577.85 479.8 1577.46 483.8 1577.04 487.8 1576.60 491.8 1576.14 495.8 1575.66 499.8 1575.16 503.8 1574.63 507.8 1574.08 511.8 1573.50 515.8 1572.90 519.8 1572.27 523.8 1571.62 527.8 1570.94 531.8 1570.23 535.8 1569.49 539.8 1568.73 543.8 1567.93 547.8 1567.11 551.8 1566.26 555.8 1565.37 559.8 1564.46 563.8 1563.52 567.8 1562.55 571.8 1561.55 575.8 1560.51 579.8 1559.45 583.8 1558.36 587.8 1557.24 591.8 1556.09 595.8 1554.91 599.8 1553.70 603.8 1552.46 607.8 1551.20 611.8 1549.91 615.8 1548.60 619.8 1547.26 623.8 1545.89 627.8 1544.51 631.8 1543.10 635.8 1541.68 639.8 1540.23 643.8 1538.77 647.8 1537.29 651.8 1535.80 655.8 1534.29 659.8 1532.78 663.8 1531.25 667.8 1529.72 671.8 1528.18 675.8 1526.64 679.8 1525.10 683.8 1523.56 687.8 1522.02 691.8 1520.49 695.8 1518.96 699.8 1517.45 703.8 1515.95 707.8 1514.46 711.8 1512.98 715.8 1511.53 719.8 1510.10 723.8 1508.69 727.8 1507.30 731.8 1505.95 735.8 1504.62 739.8 1503.33 743.8 1502.07 747.8 1500.84 751.8 1499.66 755.8 1498.51 759.8 1497.40 763.8 1496.34 767.8 1495.33 771.8 1494.36 775.8 1493.43 779.8 1492.56 783.8 1491.74 787.8 1490.96 791.8 1490.24 795.8 1489.58 799.8 1488.97 803.8 1488.41 807.8 1487.90 811.8 1487.46 815.8 1487.07 819.8 1486.73 823.8 1486.45 827.8 1486.23 831.8 1486.06 835.8 1485.94 839.8 1485.88 843.8 1485.88 847.8 1485.93 851.8 1486.03 855.8 1486.18 859.8 1486.38 863.8 1486.63 867.8 1486.93 871.8 1487.27 875.8 1487.66 879.8 1488.09 883.8 1488.56 887.8 1489.08 891.8 1489.63 895.8 1490.22 899.8 1490.84 903.8 1491.50 907.8 1492.18 911.8 1492.90 915.8 1493.64 919.8 1494.41 923.8 1495.21 927.8 1496.02 931.8 1496.86 935.8 1497.71 939.8 1498.58 943.8 1499.46 947.8 1500.36 951.8 1501.26 955.8 1502.18 959.8 1503.10 963.8 1504.03 967.8 1504.97 971.8 1505.91 975.8 1506.85 979.8 1507.79 983.8 1508.73 987.8 1509.66 991.8 1510.60 995.8 1511.53 999.8 1512.45 1003.8 1513.37 1007.8 1514.28 1011.8 1515.18 1015.8 1516.08 1019.8 1516.96 1023.8 1517.84 1027.8 1518.71 1031.8 1519.56 1035.8 1520.41 1039.8 1521.24 1043.8 1522.06 1047.8 1522.87 1051.8 1523.67 1055.8 1524.46 1059.8 1525.23 1063.8 1525.99 1067.8 1526.74 1071.8 1527.47 1075.8 1528.19 1079.8 1528.90 1083.8 1529.59 1087.8 1530.28 1091.8 1530.95 1095.8 1531.61 1099.8 1532.25 1103.8 1532.89 1107.8 1533.51 1111.8 1534.13 1115.8 1534.73 1119.8 1535.33 1123.8 1535.91 1127.8 1536.49 1131.8 1537.06 1135.8 1537.62 1139.8 1538.18 1143.8 1538.73 1147.8 1539.27 1151.8 1539.80 1155.8 1540.33 1159.8 1540.86 1163.8 1541.38 1167.8 1541.89 1171.8 1542.40 1175.8 1542.91 1179.8 1543.41 1183.8 1543.91 1187.8 1544.40 1191.8 1544.90 1195.8 1545.39 1199.8 1545.88 1203.8 1546.36 1207.8 1546.85 1211.8 1547.33 1215.8 1547.81 1219.8 1548.29 1223.8 1548.77 1227.8 1549.24 1231.8 1549.72 1235.8 1550.19 1239.8 1550.67 1243.8 1551.14 1247.8 1551.61 1251.8 1552.08 1255.8 1552.55 1259.8 1553.02 1263.8 1553.49 1267.8 1553.95 1271.8 1554.42 1275.8 1554.88 1279.8 1555.35 1283.8 1555.81 1287.8 1556.27 1291.8 1556.73 1295.8 1557.19 1299.8 1557.64 1303.8 1558.10 1307.8 1558.55 1311.8 1559.00 1315.8 1559.45 1319.8 1559.89 1323.8 1560.34 1327.8 1560.78 1331.8 1561.22 1335.8 1561.65 1339.8 1562.09 1343.8 1562.52 1347.8 1562.95 1351.8 1563.37 1355.8 1563.79 1359.8 1564.21 1363.8 1564.62 1367.8 1565.03 1371.8 1565.44 1375.8 1565.84 1379.8 1566.24 1383.8 1566.64 1387.8 1567.03 1391.8 1567.41 1395.8 1567.79 1399.8 1568.17 1403.8 1568.55 1407.8 1568.91 1411.8 1569.28 1415.8 1569.64 1419.8 1569.99 1423.8 1570.34 1427.8 1570.68 1431.8 1571.02 1435.8 1571.36 1439.8 1571.69 1443.8 1572.01 1447.8 1572.33 1451.8 1572.64 1455.8 1572.95 1459.8 1573.26 1463.8 1573.55 1467.8 1573.85 1471.8 1574.13 1475.8 1574.42 1479.8 1574.69 1483.8 1574.97 1487.8 1575.23 1491.8 1575.49 1495.8 1575.75 1499.8 1576.00 1503.8 1576.25 1507.8 1576.49 1511.8 1576.72 1515.8 1576.95 1519.8 1577.18 1523.8 1577.40 1527.8 1577.61 1531.8 1577.82 1535.8 1578.03 1539.8 1578.23 1543.8 1578.42 1547.8 1578.62 1551.8 1578.80 1555.8 1578.98 1559.8 1579.16 1563.8 1579.33 1567.8 1579.50 1571.8 1579.66 1575.8 1579.82 1579.8 1579.98 1583.8 1580.13 1587.8 1580.27 1591.8 1580.42 1595.8 1580.56 1599.8 1580.69 1603.8 1580.82 1607.8 1580.95 1611.8 1581.07 1615.8 1581.19 1619.8 1581.31 1623.8 1581.42 1627.8 1581.53 1631.8 1581.63 1635.8 1581.73 1639.8 1581.83 1643.8 1581.93 1647.8 1582.02 1651.8 1582.11 1655.8 1582.20 1659.8 1582.28 1663.8 1582.36 1667.8 1582.44 1671.8 1582.52 1675.8 1582.59 1679.8 1582.66 1683.8 1582.73 1687.8 1582.80 1691.8 1582.86 1695.8 1582.92 1699.8 1582.98 1703.8 1583.04 1707.8 1583.09 1711.8 1583.14 1715.8 1583.19 1719.8 1583.24 1723.8 1583.29 1727.8 1583.34 1731.8 1583.38 1735.8 1583.42 1739.8 1583.46 1743.8 1583.50 1747.8 1583.54 1751.8 1583.57 1755.8 1583.61 1759.8 1583.64 1763.8 1583.67 1767.8 1583.70 1771.8 1583.73 1775.8 1583.76 1779.8 1583.78 1783.8 1583.81 1787.8 1583.83 1791.8 1583.86 1795.8 1583.88 1799.8 1583.90 1803.8 1583.92 1807.8 1583.94 1811.8 1583.96 1815.8 1583.98 1819.8 1583.99 1823.8 1584.01 1827.8 1584.03 1831.8 1584.04 1835.8 1584.06 1839.8 1584.07 1843.8 1584.08 1847.8 1584.09 1851.8 1584.11 1855.8 1584.12 1859.8 1584.13 1863.8 1584.14 1867.8 1584.15 1871.8 1584.16 1875.8 1584.16 1879.8 1584.17 1883.8 1584.18 1887.8 1584.19 1891.8 1584.20 1895.8 1584.20 1899.8 1584.21 1903.8 1584.21 1907.8 1584.22 1911.8 1584.23 1915.8 1584.23 1919.8 1584.24 1923.8 1584.24 1927.8 1584.25 1931.8 1584.25 1935.8 1584.25 1939.8 1584.26 1943.8 1584.26 1947.8 1584.26 1951.8 1584.27 1955.8 1584.27 1959.8 1584.27 1963.8 1584.28 1967.8 1584.28 1971.8 1584.28 1975.8 1584.28 1979.8 1584.29 1983.8 1584.29 1987.8 1584.29 1991.8 1584.29 1995.8 1584.29 1999.8 1584.29 2003.8 1584.30 2007.8 1584.30 2011.8 1584.30 2015.8 1584.30" stroke="#ff00ff"/><path d="M291.8 1806.38 295.8 1806.15 299.8 1805.91 303.8 1805.66 307.8 1805.40 311.8 1805.14 315.8 1804.86 319.8 1804.58 323.8 1804.29 327.8 1803.98 331.8 1803.66 335.8 1803.34 339.8 1803.00 343.8 1802.65 347.8 1802.29 351.8 1801.91 355.8 1801.52 359.8 1801.11 363.8 1800.69 367.8 1800.26 371.8 1799.80 375.8 1799.34 379.8 1798.85 383.8 1798.34 387.8 1797.82 391.8 1797.28 395.8 1796.71 399.8 1796.12 403.8 1795.51 407.8 1794.88 411.8 1794.22 415.8 1793.54 419.8 1792.83 423.8 1792.10 427.8 1791.33 431.8 1790.54 435.8 1789.72 439.8 1788.86 443.8 1787.98 447.8 1787.06 451.8 1786.11 455.8 1785.12 459.8 1784.10 463.8 1783.04 467.8 1781.95 471.8 1780.81 475.8 1779.64 479.8 1778.43 483.8 1777.18 487.8 1775.89 491.8 1774.55 495.8 1773.18 499.8 1771.76 503.8 1770.30 507.8 1768.80 511.8 1767.26 515.8 1765.67 519.8 1764.05 523.8 1762.38 527.8 1760.67 531.8 1758.92 535.8 1757.13 539.8 1755.30 543.8 1753.43 547.8 1751.52 551.8 1749.58 555.8 1747.61 559.8 1745.60 563.8 1743.57 567.8 1741.50 571.8 1739.41 575.8 1737.29 579.8 1735.15 583.8 1732.99 587.8 1730.82 591.8 1728.63 595.8 1726.43 599.8 1724.22 603.8 1722.01 607.8 1719.80 611.8 1717.59 615.8 1715.39 619.8 1713.19 623.8 1711.01 627.8 1708.85 631.8 1706.71 635.8 1704.59 639.8 1702.50 643.8 1700.44 647.8 1698.42 651.8 1696.45 655.8 1694.51 659.8 1692.62 663.8 1690.79 667.8 1689.01 671.8 1687.29 675.8 1685.63 679.8 1684.03 683.8 1682.51 687.8 1681.05 691.8 1679.67 695.8 1678.37 699.8 1677.14 703.8 1676.00 707.8 1674.94 711.8 1673.96 715.8 1673.07 719.8 1672.27 723.8 1671.56 727.8 1670.93 731.8 1670.40 735.8 1669.97 739.8 1669.63 743.8 1669.39 747.8 1669.24 751.8 1669.19 755.8 1669.23 759.8 1669.37 763.8 1669.60 767.8 1669.91 771.8 1670.31 775.8 1670.80 779.8 1671.37 783.8 1672.01 787.8 1672.74 791.8 1673.53 795.8 1674.39 799.8 1675.32 803.8 1676.32 807.8 1677.36 811.8 1678.47 815.8 1679.62 819.8 1680.83 823.8 1682.07 827.8 1683.36 831.8 1684.67 835.8 1686.03 839.8 1687.40 843.8 1688.81 847.8 1690.23 851.8 1691.67 855.8 1693.13 859.8 1694.59 863.8 1696.06 867.8 1697.54 871.8 1699.01 875.8 1700.49 879.8 1701.96 883.8 1703.42 887.8 1704.87 891.8 1706.32 895.8 1707.75 899.8 1709.16 903.8 1710.56 907.8 1711.93 911.8 1713.29 915.8 1714.63 919.8 1715.94 923.8 1717.23 927.8 1718.49 931.8 1719.73 935.8 1720.95 939.8 1722.14 943.8 1723.31 947.8 1724.45 951.8 1725.56 955.8 1726.66 959.8 1727.72 963.8 1728.77 967.8 1729.79 971.8 1730.79 975.8 1731.76 979.8 1732.72 983.8 1733.66 987.8 1734.57 991.8 1735.47 995.8 1736.34 999.8 1737.21 1003.8 1738.05 1007.8 1738.88 1011.8 1739.69 1015.8 1740.49 1019.8 1741.28 1023.8 1742.06 1027.8 1742.82 1031.8 1743.58 1035.8 1744.32 1039.8 1745.06 1043.8 1745.79 1047.8 1746.51 1051.8 1747.22 1055.8 1747.93 1059.8 1748.63 1063.8 1749.33 1067.8 1750.02 1071.8 1750.71 1075.8 1751.40 1079.8 1752.09 1083.8 1752.77 1087.8 1753.45 1091.8 1754.12 1095.8 1754.80 1099.8 1755.47 1103.8 1756.15 1107.8 1756.82 1111.8 1757.49 1115.8 1758.17 1119.8 1758.84 1123.8 1759.51 1127.8 1760.18 1131.8 1760.85 1135.8 1761.52 1139.8 1762.19 1143.8 1762.86 1147.8 1763.53 1151.8 1764.21 1155.8 1764.87 1159.8 1765.54 1163.8 1766.21 1167.8 1766.88 1171.8 1767.55 1175.8 1768.22 1179.8 1768.88 1183.8 1769.55 1187.8 1770.21 1191.8 1770.87 1195.8 1771.53 1199.8 1772.19 1203.8 1772.85 1207.8 1773.50 1211.8 1774.15 1215.8 1774.80 1219.8 1775.45 1223.8 1776.10 1227.8 1776.74 1231.8 1777.38 1235.8 1778.01 1239.8 1778.64 1243.8 1779.27 1247.8 1779.89 1251.8 1780.51 1255.8 1781.13 1259.8 1781.74 1263.8 1782.35 1267.8 1782.95 1271.8 1783.55 1275.8 1784.14 1279.8 1784.73 1283.8 1785.32 1287.8 1785.89 1291.8 1786.47 1295.8 1787.03 1299.8 1787.60 1303.8 1788.15 1307.8 1788.70 1311.8 1789.25 1315.8 1789.79 1319.8 1790.32 1323.8 1790.85 1327.8 1791.37 1331.8 1791.88 1335.8 1792.39 1339.8 1792.89 1343.8 1793.38 1347.8 1793.87 1351.8 1794.36 1355.8 1794.83 1359.8 1795.30 1363.8 1795.76 1367.8 1796.22 1371.8 1796.67 1375.8 1797.11 1379.8 1797.55 1383.8 1797.97 1387.8 1798.40 1391.8 1798.81 1395.8 1799.22 1399.8 1799.62 1403.8 1800.02 1407.8 1800.41 1411.8 1800.79 1415.8 1801.17 1419.8 1801.54 1423.8 1801.90 1427.8 1802.25 1431.8 1802.60 1435.8 1802.95 1439.8 1803.28 1443.8 1803.61 1447.8 1803.94 1451.8 1804.26 1455.8 1804.57 1459.8 1804.87 1463.8 1805.17 1467.8 1805.46 1471.8 1805.75 1475.8 1806.03 1479.8 1806.31 1483.8 1806.58 1487.8 1806.84 1491.8 1807.10 1495.8 1807.35 1499.8 1807.60 1503.8 1807.84 1507.8 1808.07 1511.8 1808.30 1515.8 1808.53 1519.8 1808.75 1523.8 1808.96 1527.8 1809.17 1531.8 1809.38 1535.8 1809.57 1539.8 1809.77 1543.8 1809.96 1547.8 1810.15 1551.8 1810.33 1555.8 1810.50 1559.8 1810.67 1563.8 1810.84 1567.8 1811.01 1571.8 1811.16 1575.8 1811.32 1579.8 1811.47 1583.8 1811.62 1587.8 1811.76 1591.8 1811.90 1595.8 1812.04 1599.8 1812.17 1603.8 1812.30 1607.8 1812.42 1611.8 1812.54 1615.8 1812.66 1619.8 1812.78 1623.8 1812.89 1627.8 1813.00 1631.8 1813.10 1635.8 1813.20 1639.8 1813.30 1643.8 1813.40 1647.8 1813.49 1651.8 1813.59 1655.8 1813.67 1659.8 1813.76 1663.8 1813.84 1667.8 1813.92 1671.8 1814.00 1675.8 1814.08 1679.8 1814.15 1683.8 1814.23 1687.8 1814.30 1691.8 1814.36 1695.8 1814.43 1699.8 1814.49 1703.8 1814.55 1707.8 1814.61 1711.8 1814.67 1715.8 1814.73 1719.8 1814.78 1723.8 1814.84 1727.8 1814.89 1731.8 1814.94 1735.8 1814.99 1739.8 1815.03 1743.8 1815.08 1747.8 1815.12 1751.8 1815.16 1755.8 1815.21 1759.8 1815.25 1763.8 1815.29 1767.8 1815.32 1771.8 1815.36 1775.8 1815.40 1779.8 1815.43 1783.8 1815.46 1787.8 1815.50 1791.8 1815.53 1795.8 1815.56 1799.8 1815.59 1803.8 1815.62 1807.8 1815.64 1811.8 1815.67 1815.8 1815.70 1819.8 1815.72 1823.8 1815.75 1827.8 1815.77 1831.8 1815.80 1835.8 1815.82 1839.8 1815.84 1843.8 1815.86 1847.8 1815.88 1851.8 1815.90 1855.8 1815.92 1859.8 1815.94 1863.8 1815.96 1867.8 1815.98 1871.8 1816.00 1875.8 1816.02 1879.8 1816.03 1883.8 1816.05 1887.8 1816.07 1891.8 1816.08 1895.8 1816.10 1899.8 1816.11 1903.8 1816.13 1907.8 1816.14 1911.8 1816.16 1915.8 1816.17 1919.8 1816.18 1923.8 1816.20 1927.8 1816.21 1931.8 1816.22 1935.8 1816.24 1939.8 1816.25 1943.8 1816.26 1947.8 1816.27 1951.8 1816.28 1955.8 1816.30 1959.8 1816.31 1963.8 1816.32 1967.8 1816.33 1971.8 1816.34 1975.8 1816.35 1979.8 1816.36 1983.8 1816.37 1987.8 1816.38 1991.8 1816.39 1995.8 1816.40 1999.8 1816.41 2003.8 1816.42 2007.8 1816.43 2011.8 1816.44 2015.8 1816.45" stroke="#0000ff"/><path d="M291.8 1951.24 295.8 1951.24 299.8 1951.24 303.8 1951.24 307.8 1951.23 311.8 1951.23 315.8 1951.23 319.8 1951.23 323.8 1951.22 327.8 1951.22 331.8 1951.22 335.8 1951.21 339.8 1951.21 343.8 1951.21 347.8 1951.21 351.8 1951.20 355.8 1951.20 359.8 1951.19 363.8 1951.19 367.8 1951.19 371.8 1951.18 375.8 1951.18 379.8 1951.17 383.8 1951.17 387.8 1951.16 391.8 1951.16 395.8 1951.15 399.8 1951.14 403.8 1951.13 407.8 1951.13 411.8 1951.12 415.8 1951.11 419.8 1951.10 423.8 1951.09 427.8 1951.08 431.8 1951.07 435.8 1951.05 439.8 1951.04 443.8 1951.02 447.8 1951.01 451.8 1950.99 455.8 1950.97 459.8 1950.95 463.8 1950.93 467.8 1950.91 471.8 1950.88 475.8 1950.85 479.8 1950.83 483.8 1950.79 487.8 1950.76 491.8 1950.72 495.8 1950.68 499.8 1950.64 503.8 1950.60 507.8 1950.55 511.8 1950.50 515.8 1950.44 519.8 1950.38 523.8 1950.32 527.8 1950.25 531.8 1950.18 535.8 1950.10 539.8 1950.02 543.8 1949.93 547.8 1949.84 551.8 1949.74 555.8 1949.63 559.8 1949.52 563.8 1949.40 567.8 1949.28 571.8 1949.14 575.8 1949.00 579.8 1948.85 583.8 1948.69 587.8 1948.52 591.8 1948.35 595.8 1948.16 599.8 1947.96 603.8 1947.76 607.8 1947.54 611.8 1947.31 615.8 1947.07 619.8 1946.82 623.8 1946.56 627.8 1946.28 631.8 1946.00 635.8 1945.70 639.8 1945.38 643.8 1945.05 647.8 1944.71 651.8 1944.36 655.8 1943.99 659.8 1943.60 663.8 1943.21 667.8 1942.79 671.8 1942.37 675.8 1941.92 679.8 1941.47 683.8 1940.99 687.8 1940.51 691.8 1940.01 695.8 1939.49 699.8 1938.96 703.8 1938.41 707.8 1937.85 711.8 1937.28 715.8 1936.69 719.8 1936.08 723.8 1935.47 727.8 1934.84 731.8 1934.20 735.8 1933.55 739.8 1932.89 743.8 1932.21 747.8 1931.53 751.8 1930.84 755.8 1930.13 759.8 1929.43 763.8 1928.71 767.8 1927.99 771.8 1927.26 775.8 1926.53 779.8 1925.79 783.8 1925.05 787.8 1924.32 791.8 1923.58 795.8 1922.84 799.8 1922.10 803.8 1921.37 807.8 1920.64 811.8 1919.92 815.8 1919.20 819.8 1918.49 823.8 1917.79 827.8 1917.10 831.8 1916.42 835.8 1915.75 839.8 1915.10 843.8 1914.46 847.8 1913.84 851.8 1913.24 855.8 1912.65 859.8 1912.08 863.8 1911.53 867.8 1911.01 871.8 1910.50 875.8 1910.02 879.8 1909.56 883.8 1909.12 887.8 1908.71 891.8 1908.33 895.8 1907.97 899.8 1907.64 903.8 1907.34 907.8 1907.06 911.8 1906.81 915.8 1906.59 919.8 1906.40 923.8 1906.23 927.8 1906.09 931.8 1905.99 935.8 1905.91 939.8 1905.86 943.8 1905.84 947.8 1905.85 951.8 1905.88 955.8 1905.95 959.8 1906.04 963.8 1906.16 967.8 1906.30 971.8 1906.47 975.8 1906.66 979.8 1906.87 983.8 1907.11 987.8 1907.37 991.8 1907.64 995.8 1907.94 999.8 1908.25 1003.8 1908.58 1007.8 1908.93 1011.8 1909.29 1015.8 1909.66 1019.8 1910.05 1023.8 1910.45 1027.8 1910.85 1031.8 1911.27 1035.8 1911.69 1039.8 1912.11 1043.8 1912.54 1047.8 1912.98 1051.8 1913.41 1055.8 1913.85 1059.8 1914.29 1063.8 1914.73 1067.8 1915.16 1071.8 1915.60 1075.8 1916.03 1079.8 1916.45 1083.8 1916.87 1087.8 1917.28 1091.8 1917.69 1095.8 1918.09 1099.8 1918.48 1103.8 1918.86 1107.8 1919.23 1111.8 1919.60 1115.8 1919.95 1119.8 1920.30 1123.8 1920.63 1127.8 1920.95 1131.8 1921.27 1135.8 1921.57 1139.8 1921.86 1143.8 1922.14 1147.8 1922.41 1151.8 1922.67 1155.8 1922.92 1159.8 1923.16 1163.8 1923.39 1167.8 1923.62 1171.8 1923.83 1175.8 1924.03 1179.8 1924.23 1183.8 1924.42 1187.8 1924.60 1191.8 1924.77 1195.8 1924.94 1199.8 1925.10 1203.8 1925.26 1207.8 1925.41 1211.8 1925.56 1215.8 1925.70 1219.8 1925.84 1223.8 1925.98 1227.8 1926.12 1231.8 1926.25 1235.8 1926.39 1239.8 1926.52 1243.8 1926.66 1247.8 1926.80 1251.8 1926.93 1255.8 1927.07 1259.8 1927.21 1263.8 1927.35 1267.8 1927.50 1271.8 1927.65 1275.8 1927.81 1279.8 1927.97 1283.8 1928.14 1287.8 1928.31 1291.8 1928.50 1295.8 1928.69 1299.8 1928.88 1303.8 1929.09 1307.8 1929.30 1311.8 1929.52 1315.8 1929.75 1319.8 1929.98 1323.8 1930.22 1327.8 1930.47 1331.8 1930.73 1335.8 1930.99 1339.8 1931.26 1343.8 1931.54 1347.8 1931.82 1351.8 1932.11 1355.8 1932.41 1359.8 1932.71 1363.8 1933.02 1367.8 1933.33 1371.8 1933.65 1375.8 1933.97 1379.8 1934.29 1383.8 1934.62 1387.8 1934.95 1391.8 1935.29 1395.8 1935.62 1399.8 1935.96 1403.8 1936.30 1407.8 1936.64 1411.8 1936.98 1415.8 1937.32 1419.8 1937.66 1423.8 1938.00 1427.8 1938.34 1431.8 1938.68 1435.8 1939.02 1439.8 1939.35 1443.8 1939.69 1447.8 1940.01 1451.8 1940.34 1455.8 1940.66 1459.8 1940.98 1463.8 1941.30 1467.8 1941.61 1471.8 1941.91 1475.8 1942.21 1479.8 1942.51 1483.8 1942.80 1487.8 1943.09 1491.8 1943.37 1495.8 1943.64 1499.8 1943.91 1503.8 1944.17 1507.8 1944.43 1511.8 1944.68 1515.8 1944.92 1519.8 1945.16 1523.8 1945.39 1527.8 1945.61 1531.8 1945.83 1535.8 1946.04 1539.8 1946.24 1543.8 1946.44 1547.8 1946.63 1551.8 1946.82 1555.8 1947.00 1559.8 1947.17 1563.8 1947.34 1567.8 1947.50 1571.8 1947.65 1575.8 1947.80 1579.8 1947.94 1583.8 1948.08 1587.8 1948.21 1591.8 1948.33 1595.8 1948.45 1599.8 1948.57 1603.8 1948.68 1607.8 1948.78 1611.8 1948.88 1615.8 1948.98 1619.8 1949.07 1623.8 1949.16 1627.8 1949.24 1631.8 1949.32 1635.8 1949.39 1639.8 1949.46 1643.8 1949.53 1647.8 1949.59 1651.8 1949.65 1655.8 1949.70 1659.8 1949.76 1663.8 1949.81 1667.8 1949.85 1671.8 1949.90 1675.8 1949.94 1679.8 1949.98 1683.8 1950.01 1687.8 1950.05 1691.8 1950.08 1695.8 1950.11 1699.8 1950.14 1703.8 1950.16 1707.8 1950.19 1711.8 1950.21 1715.8 1950.23 1719.8 1950.25 1723.8 1950.27 1727.8 1950.29 1731.8 1950.30 1735.8 1950.32 1739.8 1950.33 1743.8 1950.34 1747.8 1950.35 1751.8 1950.36 1755.8 1950.37 1759.8 1950.38 1763.8 1950.39 1767.8 1950.40 1771.8 1950.40 1775.8 1950.41 1779.8 1950.41 1783.8 1950.42 1787.8 1950.42 1791.8 1950.42 1795.8 1950.43 1799.8 1950.43 1803.8 1950.43 1807.8 1950.43 1811.8 1950.44 1815.8 1950.44 1819.8 1950.44 1823.8 1950.44 1827.8 1950.44 1831.8 1950.44 1835.8 1950.44 1839.8 1950.44 1843.8 1950.44 1847.8 1950.44 1851.8 1950.44 1855.8 1950.44 1859.8 1950.44 1863.8 1950.44 1867.8 1950.44 1871.8 1950.44 1875.8 1950.43 1879.8 1950.43 1883.8 1950.43 1887.8 1950.43 1891.8 1950.43 1895.8 1950.43 1899.8 1950.43 1903.8 1950.42 1907.8 1950.42 1911.8 1950.42 1915.8 1950.42 1919.8 1950.42 1923.8 1950.42 1927.8 1950.41 1931.8 1950.41 1935.8 1950.41 1939.8 1950.41 1943.8 1950.41 1947.8 1950.40 1951.8 1950.40 1955.8 1950.40 1959.8 1950.40 1963.8 1950.40 1967.8 1950.39 1971.8 1950.39 1975.8 1950.39 1979.8 1950.39 1983.8 1950.39 1987.8 1950.38 1991.8 1950.38 1995.8 1950.38 1999.8 1950.38 2003.8 1950.38 2007.8 1950.37 2011.8 1950.37 2015.8 1950.37" stroke="#ff0000"/><path d="M291.8 2112.37 295.8 2112.07 299.8 2111.73 303.8 2111.34 307.8 2110.92 311.8 2110.44 315.8 2109.92 319.8 2109.33 323.8 2108.69 327.8 2107.98 331.8 2107.20 335.8 2106.35 339.8 2105.42 343.8 2104.42 347.8 2103.33 351.8 2102.16 355.8 2100.90 359.8 2099.56 363.8 2098.13 367.8 2096.62 371.8 2095.02 375.8 2093.35 379.8 2091.60 383.8 2089.78 387.8 2087.90 391.8 2085.97 395.8 2083.99 399.8 2081.97 403.8 2079.93 407.8 2077.88 411.8 2075.83 415.8 2073.79 419.8 2071.77 423.8 2069.79 427.8 2067.87 431.8 2066.02 435.8 2064.24 439.8 2062.56 443.8 2060.98 447.8 2059.51 451.8 2058.17 455.8 2056.96 459.8 2055.88 463.8 2054.95 467.8 2054.16 471.8 2053.53 475.8 2053.07 479.8 2052.76 483.8 2052.61 487.8 2052.61 491.8 2052.75 495.8 2053.01 499.8 2053.39 503.8 2053.88 507.8 2054.45 511.8 2055.09 515.8 2055.79 519.8 2056.54 523.8 2057.31 527.8 2058.10 531.8 2058.90 535.8 2059.68 539.8 2060.43 543.8 2061.16 547.8 2061.85 551.8 2062.48 555.8 2063.07 559.8 2063.59 563.8 2064.06 567.8 2064.46 571.8 2064.80 575.8 2065.08 579.8 2065.30 583.8 2065.46 587.8 2065.56 591.8 2065.62 595.8 2065.63 599.8 2065.60 603.8 2065.53 607.8 2065.44 611.8 2065.32 615.8 2065.18 619.8 2065.03 623.8 2064.86 627.8 2064.70 631.8 2064.53 635.8 2064.37 639.8 2064.22 643.8 2064.09 647.8 2063.96 651.8 2063.86 655.8 2063.77 659.8 2063.71 663.8 2063.67 667.8 2063.65 671.8 2063.65 675.8 2063.67 679.8 2063.71 683.8 2063.78 687.8 2063.88 691.8 2063.99 695.8 2064.13 699.8 2064.29 703.8 2064.48 707.8 2064.68 711.8 2064.91 715.8 2065.16 719.8 2065.43 723.8 2065.71 727.8 2066.01 731.8 2066.33 735.8 2066.66 739.8 2067.00 743.8 2067.36 747.8 2067.72 751.8 2068.10 755.8 2068.48 759.8 2068.87 763.8 2069.26 767.8 2069.66 771.8 2070.06 775.8 2070.46 779.8 2070.86 783.8 2071.26 787.8 2071.65 791.8 2072.04 795.8 2072.43 799.8 2072.80 803.8 2073.17 807.8 2073.53 811.8 2073.88 815.8 2074.21 819.8 2074.54 823.8 2074.85 827.8 2075.15 831.8 2075.43 835.8 2075.70 839.8 2075.95 843.8 2076.18 847.8 2076.40 851.8 2076.60 855.8 2076.78 859.8 2076.94 863.8 2077.08 867.8 2077.21 871.8 2077.31 875.8 2077.40 879.8 2077.47 883.8 2077.52 887.8 2077.55 891.8 2077.56 895.8 2077.56 899.8 2077.54 903.8 2077.50 907.8 2077.44 911.8 2077.37 915.8 2077.29 919.8 2077.19 923.8 2077.07 927.8 2076.95 931.8 2076.81 935.8 2076.65 939.8 2076.49 943.8 2076.32 947.8 2076.14 951.8 2075.95 955.8 2075.76 959.8 2075.56 963.8 2075.35 967.8 2075.15 971.8 2074.93 975.8 2074.72 979.8 2074.51 983.8 2074.30 987.8 2074.08 991.8 2073.88 995.8 2073.67 999.8 2073.47 1003.8 2073.28 1007.8 2073.09 1011.8 2072.91 1015.8 2072.73 1019.8 2072.57 1023.8 2072.42 1027.8 2072.28 1031.8 2072.15 1035.8 2072.03 1039.8 2071.93 1043.8 2071.84 1047.8 2071.76 1051.8 2071.70 1055.8 2071.66 1059.8 2071.63 1063.8 2071.62 1067.8 2071.63 1071.8 2071.66 1075.8 2071.70 1079.8 2071.76 1083.8 2071.84 1087.8 2071.93 1091.8 2072.04 1095.8 2072.16 1099.8 2072.30 1103.8 2072.45 1107.8 2072.62 1111.8 2072.80 1115.8 2073.00 1119.8 2073.21 1123.8 2073.43 1127.8 2073.68 1131.8 2073.93 1135.8 2074.20 1139.8 2074.49 1143.8 2074.79 1147.8 2075.10 1151.8 2075.43 1155.8 2075.77 1159.8 2076.12 1163.8 2076.49 1167.8 2076.87 1171.8 2077.26 1175.8 2077.67 1179.8 2078.08 1183.8 2078.51 1187.8 2078.94 1191.8 2079.39 1195.8 2079.85 1199.8 2080.31 1203.8 2080.79 1207.8 2081.27 1211.8 2081.76 1215.8 2082.26 1219.8 2082.77 1223.8 2083.28 1227.8 2083.80 1231.8 2084.32 1235.8 2084.85 1239.8 2085.38 1243.8 2085.92 1247.8 2086.46 1251.8 2087.01 1255.8 2087.55 1259.8 2088.10 1263.8 2088.65 1267.8 2089.20 1271.8 2089.75 1275.8 2090.31 1279.8 2090.86 1283.8 2091.41 1287.8 2091.96 1291.8 2092.51 1295.8 2093.05 1299.8 2093.60 1303.8 2094.14 1307.8 2094.68 1311.8 2095.21 1315.8 2095.74 1319.8 2096.27 1323.8 2096.79 1327.8 2097.30 1331.8 2097.82 1335.8 2098.32 1339.8 2098.82 1343.8 2099.32 1347.8 2099.80 1351.8 2100.28 1355.8 2100.76 1359.8 2101.23 1363.8 2101.69 1367.8 2102.14 1371.8 2102.59 1375.8 2103.03 1379.8 2103.46 1383.8 2103.88 1387.8 2104.30 1391.8 2104.71 1395.8 2105.10 1399.8 2105.50 1403.8 2105.88 1407.8 2106.25 1411.8 2106.62 1415.8 2106.98 1419.8 2107.33 1423.8 2107.67 1427.8 2108.01 1431.8 2108.33 1435.8 2108.65 1439.8 2108.96 1443.8 2109.26 1447.8 2109.55 1451.8 2109.84 1455.8 2110.12 1459.8 2110.39 1463.8 2110.65 1467.8 2110.90 1471.8 2111.15 1475.8 2111.39 1479.8 2111.62 1483.8 2111.85 1487.8 2112.06 1491.8 2112.27 1495.8 2112.48 1499.8 2112.68 1503.8 2112.87 1507.8 2113.05 1511.8 2113.23 1515.8 2113.40 1519.8 2113.57 1523.8 2113.73 1527.8 2113.88 1531.8 2114.03 1535.8 2114.17 1539.8 2114.31 1543.8 2114.44 1547.8 2114.57 1551.8 2114.70 1555.8 2114.81 1559.8 2114.93 1563.8 2115.04 1567.8 2115.14 1571.8 2115.24 1575.8 2115.34 1579.8 2115.43 1583.8 2115.52 1587.8 2115.61 1591.8 2115.69 1595.8 2115.77 1599.8 2115.84 1603.8 2115.91 1607.8 2115.98 1611.8 2116.05 1615.8 2116.11 1619.8 2116.17 1623.8 2116.23 1627.8 2116.28 1631.8 2116.34 1635.8 2116.39 1639.8 2116.43 1643.8 2116.48 1647.8 2116.52 1651.8 2116.57 1655.8 2116.61 1659.8 2116.65 1663.8 2116.68 1667.8 2116.72 1671.8 2116.75 1675.8 2116.78 1679.8 2116.81 1683.8 2116.84 1687.8 2116.87 1691.8 2116.90 1695.8 2116.92 1699.8 2116.95 1703.8 2116.97 1707.8 2117.00 1711.8 2117.02 1715.8 2117.04 1719.8 2117.06 1723.8 2117.08 1727.8 2117.10 1731.8 2117.11 1735.8 2117.13 1739.8 2117.15 1743.8 2117.16 1747.8 2117.18 1751.8 2117.19 1755.8 2117.21 1759.8 2117.22 1763.8 2117.23 1767.8 2117.25 1771.8 2117.26 1775.8 2117.27 1779.8 2117.28 1783.8 2117.29 1787.8 2117.30 1791.8 2117.31 1795.8 2117.33 1799.8 2117.34 1803.8 2117.35 1807.8 2117.35 1811.8 2117.36 1815.8 2117.37 1819.8 2117.38 1823.8 2117.39 1827.8 2117.40 1831.8 2117.41 1835.8 2117.42 1839.8 2117.43 1843.8 2117.43 1847.8 2117.44 1851.8 2117.45 1855.8 2117.46 1859.8 2117.46 1863.8 2117.47 1867.8 2117.48 1871.8 2117.49 1875.8 2117.49 1879.8 2117.50 1883.8 2117.51 1887.8 2117.52 1891.8 2117.52 1895.8 2117.53 1899.8 2117.54 1903.8 2117.55 1907.8 2117.55 1911.8 2117.56 1915.8 2117.57 1919.8 2117.57 1923.8 2117.58 1927.8 2117.59 1931.8 2117.59 1935.8 2117.60 1939.8 2117.61 1943.8 2117.61 1947.8 2117.62 1951.8 2117.63 1955.8 2117.63 1959.8 2117.64 1963.8 2117.65 1967.8 2117.65 1971.8 2117.66 1975.8 2117.67 1979.8 2117.67 1983.8 2117.68 1987.8 2117.69 1991.8 2117.69 1995.8 2117.70 1999.8 2117.71 2003.8 2117.71 2007.8 2117.72" stroke="#000000"/></g><g stroke="#fff" stroke-width="0.8"><text x="122.89" y="63.22" font-size="48.34" textLength="132.67" lengthAdjust="spacingAndGlyphs" font-family='"Liberation Sans", Arial, sans-serif' fill="#000">2.5x10</text><text x="256.33" y="36.90" font-size="28.36" textLength="14.10" lengthAdjust="spacingAndGlyphs" font-family='"Liberation Sans", Arial, sans-serif' fill="#000">4</text><text x="122.28" y="225.98" font-size="48.34" textLength="133.29" lengthAdjust="spacingAndGlyphs" font-family='"Liberation Sans", Arial, sans-serif' fill="#000">2.0x10</text><text x="256.33" y="199.66" font-size="28.36" textLength="14.10" lengthAdjust="spacingAndGlyphs" font-family='"Liberation Sans", Arial, sans-serif' fill="#000">4</text><text x="124.32" y="388.74" font-size="48.34" textLength="131.22" lengthAdjust="spacingAndGlyphs" font-family='"Liberation Sans", Arial, sans-serif' fill="#000">1.5x10</text><text x="256.33" y="362.42" font-size="28.36" textLength="14.10" lengthAdjust="spacingAndGlyphs" font-family='"Liberation Sans", Arial, sans-serif' fill="#000">4</text><text x="124.01" y="551.50" font-size="48.34" textLength="131.53" lengthAdjust="spacingAndGlyphs" font-family='"Liberation Sans", Arial, sans-serif' fill="#000">1.0x10</text><text x="256.33" y="525.18" font-size="28.36" textLength="14.10" lengthAdjust="spacingAndGlyphs" font-family='"Liberation Sans", Arial, sans-serif' fill="#000">4</text><text x="123.85" y="714.26" font-size="48.34" textLength="131.70" lengthAdjust="spacingAndGlyphs" font-family='"Liberation Sans", Arial, sans-serif' fill="#000">5.0x10</text><text x="255.83" y="689.45" font-size="29.26" textLength="15.81" lengthAdjust="spacingAndGlyphs" font-family='"Liberation Sans", Arial, sans-serif' fill="#000">3</text><text x="208.14" y="868.22" font-size="48.20" textLength="61.33" lengthAdjust="spacingAndGlyphs" font-family='"Liberation Sans", Arial, sans-serif' fill="#000">0.0</text><text x="309.13" y="1011.50" font-size="59.51" textLength="93.24" lengthAdjust="spacingAndGlyphs" font-family='"Liberation Sans", Arial, sans-serif'>100</text><text x="584.88" y="1011.50" font-size="59.51" textLength="93.24" lengthAdjust="spacingAndGlyphs" font-family='"Liberation Sans", Arial, sans-serif'>200</text><text x="860.63" y="1011.50" font-size="59.51" textLength="93.24" lengthAdjust="spacingAndGlyphs" font-family='"Liberation Sans", Arial, sans-serif'>300</text><text x="1136.38" y="1011.50" font-size="59.51" textLength="93.24" lengthAdjust="spacingAndGlyphs" font-family='"Liberation Sans", Arial, sans-serif'>400</text><text x="1412.13" y="1011.50" font-size="59.51" textLength="93.24" lengthAdjust="spacingAndGlyphs" font-family='"Liberation Sans", Arial, sans-serif'>500</text><text x="1687.88" y="1011.50" font-size="59.51" textLength="93.24" lengthAdjust="spacingAndGlyphs" font-family='"Liberation Sans", Arial, sans-serif'>600</text><text x="1963.63" y="1011.50" font-size="59.51" textLength="93.24" lengthAdjust="spacingAndGlyphs" font-family='"Liberation Sans", Arial, sans-serif'>700</text><text x="920.08" y="1106.94" font-size="61.02" textLength="361.94" lengthAdjust="spacingAndGlyphs" font-family='"Liberation Sans", Arial, sans-serif' fill="#000">Temperature [</text><text x="1281.12" y="1073.93" font-size="36.89" textLength="18.01" lengthAdjust="spacingAndGlyphs" font-family='"Liberation Sans", Arial, sans-serif' fill="#000">o</text><text x="1299.45" y="1106.96" font-size="60.91" textLength="59.09" lengthAdjust="spacingAndGlyphs" font-family='"Liberation Sans", Arial, sans-serif' fill="#000">C]</text><text x="-599.87" y="81.90" font-size="53.51" textLength="257.39" lengthAdjust="spacingAndGlyphs" font-family='"Liberation Sans", Arial, sans-serif' fill="#000" transform="rotate(-90)">TCD [a.u.]</text><text x="1668.65" y="476.50" font-size="58.04" textLength="68.63" lengthAdjust="spacingAndGlyphs" font-family='"Liberation Sans", Arial, sans-serif' fill="#000">HT</text><text x="1668.60" y="544.31" font-size="59.08" textLength="149.68" lengthAdjust="spacingAndGlyphs" font-family='"Liberation Sans", Arial, sans-serif' fill="#000">HT Ce</text><text x="1668.61" y="611.74" font-size="55.51" textLength="270.86" lengthAdjust="spacingAndGlyphs" font-family='"Liberation Sans", Arial, sans-serif' fill="#000">HT Ce/Y0.2</text><text x="1668.64" y="678.84" font-size="55.51" textLength="268.74" lengthAdjust="spacingAndGlyphs" font-family='"Liberation Sans", Arial, sans-serif' fill="#000">HT Ce/Y0.4</text><text x="1668.61" y="746.85" font-size="55.37" textLength="270.97" lengthAdjust="spacingAndGlyphs" font-family='"Liberation Sans", Arial, sans-serif' fill="#000">HT Ce/Y0.6</text><text x="300.04" y="2305.97" font-size="63.32" textLength="94.32" lengthAdjust="spacingAndGlyphs" font-family='"Liberation Sans", Arial, sans-serif'>100</text><text x="578.84" y="2305.97" font-size="63.32" textLength="94.32" lengthAdjust="spacingAndGlyphs" font-family='"Liberation Sans", Arial, sans-serif'>200</text><text x="857.64" y="2305.97" font-size="63.32" textLength="94.32" lengthAdjust="spacingAndGlyphs" font-family='"Liberation Sans", Arial, sans-serif'>300</text><text x="1136.44" y="2305.97" font-size="63.32" textLength="94.32" lengthAdjust="spacingAndGlyphs" font-family='"Liberation Sans", Arial, sans-serif'>400</text><text x="1415.24" y="2305.97" font-size="63.32" textLength="94.32" lengthAdjust="spacingAndGlyphs" font-family='"Liberation Sans", Arial, sans-serif'>500</text><text x="1694.04" y="2305.97" font-size="63.32" textLength="94.32" lengthAdjust="spacingAndGlyphs" font-family='"Liberation Sans", Arial, sans-serif'>600</text><text x="1972.84" y="2305.97" font-size="63.32" textLength="94.32" lengthAdjust="spacingAndGlyphs" font-family='"Liberation Sans", Arial, sans-serif'>700</text><text x="935.78" y="2421.87" font-size="60.38" textLength="361.64" lengthAdjust="spacingAndGlyphs" font-family='"Liberation Sans", Arial, sans-serif' fill="#000">Temperature [</text><text x="1297.07" y="2388.25" font-size="34.89" textLength="17.42" lengthAdjust="spacingAndGlyphs" font-family='"Liberation Sans", Arial, sans-serif' fill="#000">o</text><text x="1315.98" y="2421.76" font-size="60.91" textLength="58.41" lengthAdjust="spacingAndGlyphs" font-family='"Liberation Sans", Arial, sans-serif' fill="#000">C]</text><text x="-1861.37" y="104.57" font-size="54.58" textLength="256.37" lengthAdjust="spacingAndGlyphs" font-family='"Liberation Sans", Arial, sans-serif' fill="#000" transform="rotate(-90)">TCD [a.u.]</text><text x="1702.75" y="1373.43" font-size="57.10" textLength="88.35" lengthAdjust="spacingAndGlyphs" font-family='"Liberation Sans", Arial, sans-serif' fill="#000">286</text><text x="1805.32" y="1373.69" font-size="51.21" textLength="43.77" lengthAdjust="spacingAndGlyphs" font-family='"Liberation Serif", "Times New Roman", serif' fill="#000">[μ</text><text x="1848.62" y="1373.60" font-size="54.48" textLength="144.33" lengthAdjust="spacingAndGlyphs" font-family='"Liberation Sans", Arial, sans-serif' fill="#000">mol/g]</text><text x="1701.40" y="1549.60" font-size="58.62" textLength="81.14" lengthAdjust="spacingAndGlyphs" font-family='"Liberation Sans", Arial, sans-serif' fill="#000">111</text><text x="1801.73" y="1549.27" font-size="51.32" textLength="44.81" lengthAdjust="spacingAndGlyphs" font-family='"Liberation Serif", "Times New Roman", serif' fill="#000">[μ</text><text x="1846.00" y="1549.22" font-size="54.37" textLength="145.17" lengthAdjust="spacingAndGlyphs" font-family='"Liberation Sans", Arial, sans-serif' fill="#000">mol/g]</text><text x="1692.71" y="1763.10" font-size="57.78" textLength="89.73" lengthAdjust="spacingAndGlyphs" font-family='"Liberation Sans", Arial, sans-serif' fill="#000">212</text><text x="1796.23" y="1762.79" font-size="51.21" textLength="43.66" lengthAdjust="spacingAndGlyphs" font-family='"Liberation Serif", "Times New Roman", serif' fill="#000">[μ</text><text x="1839.38" y="1762.72" font-size="54.37" textLength="146.22" lengthAdjust="spacingAndGlyphs" font-family='"Liberation Sans", Arial, sans-serif' fill="#000">mol/g]</text><text x="1728.48" y="1918.43" font-size="56.96" textLength="60.45" lengthAdjust="spacingAndGlyphs" font-family='"Liberation Sans", Arial, sans-serif' fill="#000">63</text><text x="1802.12" y="1918.69" font-size="51.21" textLength="43.77" lengthAdjust="spacingAndGlyphs" font-family='"Liberation Serif", "Times New Roman", serif' fill="#000">[μ</text><text x="1845.38" y="1918.62" font-size="54.37" textLength="146.12" lengthAdjust="spacingAndGlyphs" font-family='"Liberation Sans", Arial, sans-serif' fill="#000">mol/g]</text><text x="1698.92" y="2085.83" font-size="57.10" textLength="86.43" lengthAdjust="spacingAndGlyphs" font-family='"Liberation Sans", Arial, sans-serif' fill="#000">107</text><text x="1799.23" y="2085.99" font-size="51.21" textLength="43.66" lengthAdjust="spacingAndGlyphs" font-family='"Liberation Serif", "Times New Roman", serif' fill="#000">[μ</text><text x="1842.40" y="2085.92" font-size="54.37" textLength="145.27" lengthAdjust="spacingAndGlyphs" font-family='"Liberation Sans", Arial, sans-serif' fill="#000">mol/g]</text></g></g>
</svg></body></html>
